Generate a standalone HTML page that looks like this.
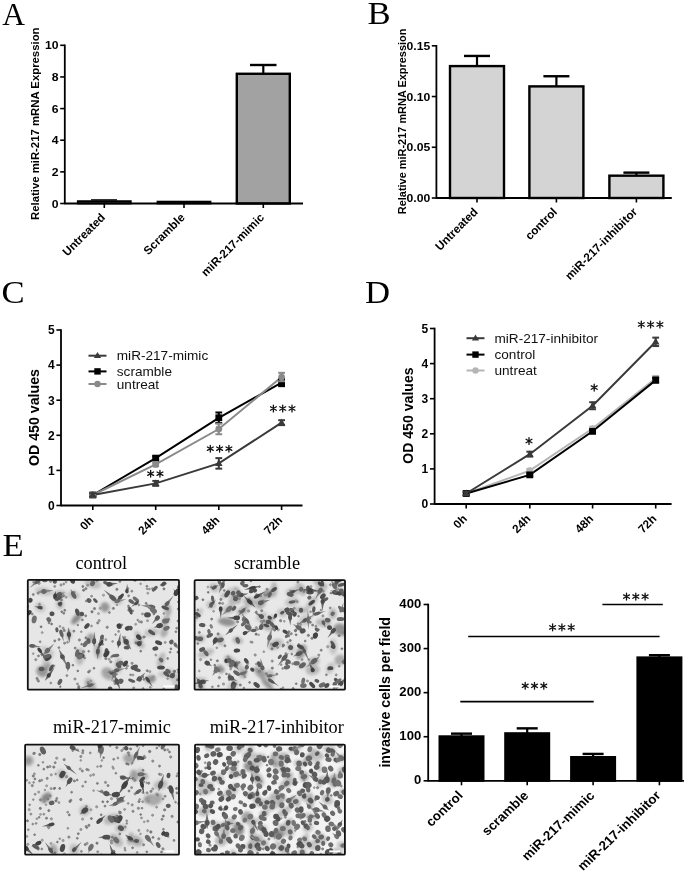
<!DOCTYPE html>
<html><head><meta charset="utf-8"><style>
html,body{margin:0;padding:0;background:#fff;}
svg{display:block;}
#wrap{width:694px;height:875px;overflow:hidden;will-change:transform;}
</style></head><body>
<div id="wrap"><svg width="694" height="875" viewBox="0 0 694 875">
<defs><filter id="soft" x="0" y="0" width="100%" height="100%" filterUnits="userSpaceOnUse"><feConvolveMatrix order="3" kernelMatrix="1 2 1 2 36 2 1 2 1" divisor="48" edgeMode="duplicate" preserveAlpha="true"/></filter><filter id="bl" x="-30%" y="-30%" width="160%" height="160%"><feGaussianBlur stdDeviation="0.65"/></filter><filter id="bl0" x="-30%" y="-30%" width="160%" height="160%"><feGaussianBlur stdDeviation="0.3"/></filter><filter id="bl2" x="-50%" y="-50%" width="200%" height="200%"><feGaussianBlur stdDeviation="1.8"/></filter><clipPath id="clip11"><rect x="27.5" y="579.5" width="151.8" height="110.5"/></clipPath><clipPath id="clip22"><rect x="194.3" y="579.8" width="151" height="110.2"/></clipPath><clipPath id="clip33"><rect x="24.8" y="744.3" width="154.5" height="110.7"/></clipPath><clipPath id="clip44"><rect x="194.7" y="744.3" width="150.5" height="110.7"/></clipPath></defs>
<g>
<rect width="694" height="875" fill="#fff"/>
<text x="0" y="0" font-family='"Liberation Serif", serif' font-size="31.5" font-weight="normal" text-anchor="start" fill="#000" transform="translate(2.30 24.70)">A</text>
<line x1="64.8" y1="44.5" x2="64.8" y2="204.3" stroke="#000" stroke-width="1.8"/>
<line x1="60.199999999999996" y1="203.5" x2="64.8" y2="203.5" stroke="#000" stroke-width="1.6"/>
<text x="0" y="0" font-family='"Liberation Sans", sans-serif' font-size="11.5" font-weight="bold" text-anchor="end" fill="#000" transform="translate(58.60 207.64) scale(1.06 1.0)">0</text>
<line x1="60.199999999999996" y1="171.86" x2="64.8" y2="171.86" stroke="#000" stroke-width="1.6"/>
<text x="0" y="0" font-family='"Liberation Sans", sans-serif' font-size="11.5" font-weight="bold" text-anchor="end" fill="#000" transform="translate(58.60 176.00) scale(1.06 1.0)">2</text>
<line x1="60.199999999999996" y1="140.22" x2="64.8" y2="140.22" stroke="#000" stroke-width="1.6"/>
<text x="0" y="0" font-family='"Liberation Sans", sans-serif' font-size="11.5" font-weight="bold" text-anchor="end" fill="#000" transform="translate(58.60 144.36) scale(1.06 1.0)">4</text>
<line x1="60.199999999999996" y1="108.58000000000001" x2="64.8" y2="108.58000000000001" stroke="#000" stroke-width="1.6"/>
<text x="0" y="0" font-family='"Liberation Sans", sans-serif' font-size="11.5" font-weight="bold" text-anchor="end" fill="#000" transform="translate(58.60 112.72) scale(1.06 1.0)">6</text>
<line x1="60.199999999999996" y1="76.94000000000001" x2="64.8" y2="76.94000000000001" stroke="#000" stroke-width="1.6"/>
<text x="0" y="0" font-family='"Liberation Sans", sans-serif' font-size="11.5" font-weight="bold" text-anchor="end" fill="#000" transform="translate(58.60 81.08) scale(1.06 1.0)">8</text>
<line x1="60.199999999999996" y1="45.30000000000001" x2="64.8" y2="45.30000000000001" stroke="#000" stroke-width="1.6"/>
<text x="0" y="0" font-family='"Liberation Sans", sans-serif' font-size="11.5" font-weight="bold" text-anchor="end" fill="#000" transform="translate(58.60 49.44) scale(1.06 1.0)">10</text>
<text x="0" y="0" font-family='"Liberation Sans", sans-serif' font-size="11.35" font-weight="bold" text-anchor="middle" fill="#000" transform="translate(38.80 123.75) rotate(-90)">Relative miR-217 mRNA Expression</text>
<rect x="77.8" y="201.14339999999999" width="53" height="2.356600000000003" fill="#505050" stroke="#000" stroke-width="1.8"/>
<rect x="157.5" y="201.618" width="53" height="1.8819999999999937" fill="#505050" stroke="#000" stroke-width="1.8"/>
<line x1="91" y1="199.9" x2="117" y2="199.9" stroke="#000" stroke-width="1.4"/>
<rect x="236.8" y="73.77600000000001" width="53" height="129.724" fill="#a2a2a2" stroke="#000" stroke-width="2.4"/>
<line x1="263.3" y1="65" x2="263.3" y2="73" stroke="#000" stroke-width="2.2"/>
<line x1="250" y1="65" x2="276.5" y2="65" stroke="#000" stroke-width="2.4"/>
<line x1="64.8" y1="203.5" x2="303" y2="203.5" stroke="#000" stroke-width="1.8"/>
<line x1="104.3" y1="203.5" x2="104.3" y2="208.0" stroke="#000" stroke-width="1.6"/>
<text x="0" y="0" font-family='"Liberation Sans", sans-serif' font-size="11.7" font-weight="bold" text-anchor="end" fill="#000" transform="translate(105.80 218.20) rotate(-45)">Untreated</text>
<line x1="184" y1="203.5" x2="184" y2="208.0" stroke="#000" stroke-width="1.6"/>
<text x="0" y="0" font-family='"Liberation Sans", sans-serif' font-size="11.7" font-weight="bold" text-anchor="end" fill="#000" transform="translate(185.50 218.20) rotate(-45)">Scramble</text>
<line x1="263.3" y1="203.5" x2="263.3" y2="208.0" stroke="#000" stroke-width="1.6"/>
<text x="0" y="0" font-family='"Liberation Sans", sans-serif' font-size="11.7" font-weight="bold" text-anchor="end" fill="#000" transform="translate(264.80 218.20) rotate(-45)">miR-217-mimic</text>
<text x="0" y="0" font-family='"Liberation Serif", serif' font-size="31.5" font-weight="normal" text-anchor="start" fill="#000" transform="translate(367.50 24.00) scale(1.1 1.0)">B</text>
<line x1="436.4" y1="45.0" x2="436.4" y2="198.8" stroke="#000" stroke-width="1.8"/>
<line x1="431.79999999999995" y1="198.0" x2="436.4" y2="198.0" stroke="#000" stroke-width="1.6"/>
<text x="0" y="0" font-family='"Liberation Sans", sans-serif' font-size="11.5" font-weight="bold" text-anchor="end" fill="#000" transform="translate(430.20 202.14) scale(1.06 1.0)">0.00</text>
<line x1="431.79999999999995" y1="147.26666666666665" x2="436.4" y2="147.26666666666665" stroke="#000" stroke-width="1.6"/>
<text x="0" y="0" font-family='"Liberation Sans", sans-serif' font-size="11.5" font-weight="bold" text-anchor="end" fill="#000" transform="translate(430.20 151.41) scale(1.06 1.0)">0.05</text>
<line x1="431.79999999999995" y1="96.53333333333333" x2="436.4" y2="96.53333333333333" stroke="#000" stroke-width="1.6"/>
<text x="0" y="0" font-family='"Liberation Sans", sans-serif' font-size="11.5" font-weight="bold" text-anchor="end" fill="#000" transform="translate(430.20 100.67) scale(1.06 1.0)">0.10</text>
<line x1="431.79999999999995" y1="45.80000000000001" x2="436.4" y2="45.80000000000001" stroke="#000" stroke-width="1.6"/>
<text x="0" y="0" font-family='"Liberation Sans", sans-serif' font-size="11.5" font-weight="bold" text-anchor="end" fill="#000" transform="translate(430.20 49.94) scale(1.06 1.0)">0.15</text>
<text x="0" y="0" font-family='"Liberation Sans", sans-serif' font-size="10.95" font-weight="bold" text-anchor="middle" fill="#000" transform="translate(406.40 121.40) rotate(-90)">Relative miR-217 mRNA Expression</text>
<rect x="450" y="66.09333333333333" width="54" height="131.90666666666667" fill="#d4d4d4" stroke="#000" stroke-width="2.4"/>
<line x1="477" y1="55.94666666666666" x2="477" y2="66.09333333333333" stroke="#000" stroke-width="2.2"/>
<line x1="464" y1="55.94666666666666" x2="490" y2="55.94666666666666" stroke="#000" stroke-width="2.4"/>
<rect x="529.4" y="86.38666666666667" width="54" height="111.61333333333333" fill="#d4d4d4" stroke="#000" stroke-width="2.4"/>
<line x1="556.4" y1="76.24000000000001" x2="556.4" y2="86.38666666666667" stroke="#000" stroke-width="2.2"/>
<line x1="543.4" y1="76.24000000000001" x2="569.4" y2="76.24000000000001" stroke="#000" stroke-width="2.4"/>
<rect x="609.4" y="175.67733333333334" width="54" height="22.322666666666663" fill="#d4d4d4" stroke="#000" stroke-width="2.4"/>
<line x1="636.4" y1="172.63333333333333" x2="636.4" y2="175.67733333333334" stroke="#000" stroke-width="2.2"/>
<line x1="623.4" y1="172.63333333333333" x2="649.4" y2="172.63333333333333" stroke="#000" stroke-width="2.4"/>
<line x1="436.4" y1="198" x2="671.8" y2="198" stroke="#000" stroke-width="1.8"/>
<line x1="477" y1="198" x2="477" y2="202.5" stroke="#000" stroke-width="1.6"/>
<text x="0" y="0" font-family='"Liberation Sans", sans-serif' font-size="11.7" font-weight="bold" text-anchor="end" fill="#000" transform="translate(478.50 212.60) rotate(-45)">Untreated</text>
<line x1="556.4" y1="198" x2="556.4" y2="202.5" stroke="#000" stroke-width="1.6"/>
<text x="0" y="0" font-family='"Liberation Sans", sans-serif' font-size="11.7" font-weight="bold" text-anchor="end" fill="#000" transform="translate(557.90 212.60) rotate(-45)">control</text>
<line x1="636.4" y1="198" x2="636.4" y2="202.5" stroke="#000" stroke-width="1.6"/>
<text x="0" y="0" font-family='"Liberation Sans", sans-serif' font-size="11.7" font-weight="bold" text-anchor="end" fill="#000" transform="translate(637.90 212.60) rotate(-45)">miR-217-inhibitor</text>
<text x="0" y="0" font-family='"Liberation Serif", serif' font-size="31.5" font-weight="normal" text-anchor="start" fill="#000" transform="translate(1.50 303.00) scale(1.1 1.0)">C</text>
<line x1="61" y1="329.2" x2="61" y2="506.3" stroke="#000" stroke-width="1.8"/>
<line x1="56.4" y1="505.5" x2="61" y2="505.5" stroke="#000" stroke-width="1.6"/>
<text x="0" y="0" font-family='"Liberation Sans", sans-serif' font-size="12" font-weight="bold" text-anchor="end" fill="#000" transform="translate(54.60 509.82)">0</text>
<line x1="56.4" y1="470.4" x2="61" y2="470.4" stroke="#000" stroke-width="1.6"/>
<text x="0" y="0" font-family='"Liberation Sans", sans-serif' font-size="12" font-weight="bold" text-anchor="end" fill="#000" transform="translate(54.60 474.72)">1</text>
<line x1="56.4" y1="435.3" x2="61" y2="435.3" stroke="#000" stroke-width="1.6"/>
<text x="0" y="0" font-family='"Liberation Sans", sans-serif' font-size="12" font-weight="bold" text-anchor="end" fill="#000" transform="translate(54.60 439.62)">2</text>
<line x1="56.4" y1="400.2" x2="61" y2="400.2" stroke="#000" stroke-width="1.6"/>
<text x="0" y="0" font-family='"Liberation Sans", sans-serif' font-size="12" font-weight="bold" text-anchor="end" fill="#000" transform="translate(54.60 404.52)">3</text>
<line x1="56.4" y1="365.1" x2="61" y2="365.1" stroke="#000" stroke-width="1.6"/>
<text x="0" y="0" font-family='"Liberation Sans", sans-serif' font-size="12" font-weight="bold" text-anchor="end" fill="#000" transform="translate(54.60 369.42)">4</text>
<line x1="56.4" y1="330.0" x2="61" y2="330.0" stroke="#000" stroke-width="1.6"/>
<text x="0" y="0" font-family='"Liberation Sans", sans-serif' font-size="12" font-weight="bold" text-anchor="end" fill="#000" transform="translate(54.60 334.32)">5</text>
<polyline points="92.8,495.0 155.7,458.1 218.8,417.8 281.6,382.6" fill="none" stroke="#000" stroke-width="2.0"/>
<polyline points="92.8,495.0 155.7,464.4 218.8,429.0 281.6,377.0" fill="none" stroke="#8a8a8a" stroke-width="2.0"/>
<polyline points="92.8,495.0 155.7,483.4 218.8,463.4 281.6,422.7" fill="none" stroke="#3a3a3a" stroke-width="2.0"/>
<line x1="92.8" y1="493.21500000000003" x2="92.8" y2="496.725" stroke="#000" stroke-width="2.0"/>
<line x1="89.39999999999999" y1="493.21500000000003" x2="96.2" y2="493.21500000000003" stroke="#000" stroke-width="2.0"/>
<line x1="89.39999999999999" y1="496.725" x2="96.2" y2="496.725" stroke="#000" stroke-width="2.0"/>
<rect x="89.39999999999999" y="491.57000000000005" width="6.8" height="6.8" fill="#000"/>
<line x1="155.7" y1="456.36" x2="155.7" y2="459.87" stroke="#000" stroke-width="2.0"/>
<line x1="152.29999999999998" y1="456.36" x2="159.1" y2="456.36" stroke="#000" stroke-width="2.0"/>
<line x1="152.29999999999998" y1="459.87" x2="159.1" y2="459.87" stroke="#000" stroke-width="2.0"/>
<rect x="152.29999999999998" y="454.71500000000003" width="6.8" height="6.8" fill="#000"/>
<line x1="218.8" y1="412.485" x2="218.8" y2="423.015" stroke="#000" stroke-width="2.0"/>
<line x1="215.4" y1="412.485" x2="222.20000000000002" y2="412.485" stroke="#000" stroke-width="2.0"/>
<line x1="215.4" y1="423.015" x2="222.20000000000002" y2="423.015" stroke="#000" stroke-width="2.0"/>
<rect x="215.4" y="414.35" width="6.8" height="6.8" fill="#000"/>
<line x1="281.6" y1="379.14" x2="281.6" y2="386.15999999999997" stroke="#000" stroke-width="2.0"/>
<line x1="278.20000000000005" y1="379.14" x2="285.0" y2="379.14" stroke="#000" stroke-width="2.0"/>
<line x1="278.20000000000005" y1="386.15999999999997" x2="285.0" y2="386.15999999999997" stroke="#000" stroke-width="2.0"/>
<rect x="278.20000000000005" y="379.25" width="6.8" height="6.8" fill="#000"/>
<line x1="92.8" y1="493.21500000000003" x2="92.8" y2="496.725" stroke="#8a8a8a" stroke-width="2.0"/>
<line x1="89.39999999999999" y1="493.21500000000003" x2="96.2" y2="493.21500000000003" stroke="#8a8a8a" stroke-width="2.0"/>
<line x1="89.39999999999999" y1="496.725" x2="96.2" y2="496.725" stroke="#8a8a8a" stroke-width="2.0"/>
<circle cx="92.8" cy="494.97" r="3.4" fill="#8a8a8a"/>
<line x1="155.7" y1="462.678" x2="155.7" y2="466.188" stroke="#8a8a8a" stroke-width="2.0"/>
<line x1="152.29999999999998" y1="462.678" x2="159.1" y2="462.678" stroke="#8a8a8a" stroke-width="2.0"/>
<line x1="152.29999999999998" y1="466.188" x2="159.1" y2="466.188" stroke="#8a8a8a" stroke-width="2.0"/>
<circle cx="155.7" cy="464.433" r="3.4" fill="#8a8a8a"/>
<line x1="218.8" y1="423.717" x2="218.8" y2="434.24699999999996" stroke="#8a8a8a" stroke-width="2.0"/>
<line x1="215.4" y1="423.717" x2="222.20000000000002" y2="423.717" stroke="#8a8a8a" stroke-width="2.0"/>
<line x1="215.4" y1="434.24699999999996" x2="222.20000000000002" y2="434.24699999999996" stroke="#8a8a8a" stroke-width="2.0"/>
<circle cx="218.8" cy="428.98199999999997" r="3.4" fill="#8a8a8a"/>
<line x1="281.6" y1="372.822" x2="281.6" y2="381.246" stroke="#8a8a8a" stroke-width="2.0"/>
<line x1="278.20000000000005" y1="372.822" x2="285.0" y2="372.822" stroke="#8a8a8a" stroke-width="2.0"/>
<line x1="278.20000000000005" y1="381.246" x2="285.0" y2="381.246" stroke="#8a8a8a" stroke-width="2.0"/>
<circle cx="281.6" cy="377.034" r="3.4" fill="#8a8a8a"/>
<line x1="92.8" y1="493.21500000000003" x2="92.8" y2="496.725" stroke="#3a3a3a" stroke-width="2.0"/>
<line x1="89.39999999999999" y1="493.21500000000003" x2="96.2" y2="493.21500000000003" stroke="#3a3a3a" stroke-width="2.0"/>
<line x1="89.39999999999999" y1="496.725" x2="96.2" y2="496.725" stroke="#3a3a3a" stroke-width="2.0"/>
<polygon points="92.8,490.97 88.99999999999999,497.52000000000004 96.60000000000001,497.52000000000004" fill="#3a3a3a"/>
<line x1="155.7" y1="480.93" x2="155.7" y2="485.844" stroke="#3a3a3a" stroke-width="2.0"/>
<line x1="152.29999999999998" y1="480.93" x2="159.1" y2="480.93" stroke="#3a3a3a" stroke-width="2.0"/>
<line x1="152.29999999999998" y1="485.844" x2="159.1" y2="485.844" stroke="#3a3a3a" stroke-width="2.0"/>
<polygon points="155.7,479.387 151.89999999999998,485.937 159.5,485.937" fill="#3a3a3a"/>
<line x1="218.8" y1="458.115" x2="218.8" y2="468.645" stroke="#3a3a3a" stroke-width="2.0"/>
<line x1="215.4" y1="458.115" x2="222.20000000000002" y2="458.115" stroke="#3a3a3a" stroke-width="2.0"/>
<line x1="215.4" y1="468.645" x2="222.20000000000002" y2="468.645" stroke="#3a3a3a" stroke-width="2.0"/>
<polygon points="218.8,459.38 215.0,465.93 222.60000000000002,465.93" fill="#3a3a3a"/>
<line x1="281.6" y1="420.207" x2="281.6" y2="425.121" stroke="#3a3a3a" stroke-width="2.0"/>
<line x1="278.20000000000005" y1="420.207" x2="285.0" y2="420.207" stroke="#3a3a3a" stroke-width="2.0"/>
<line x1="278.20000000000005" y1="425.121" x2="285.0" y2="425.121" stroke="#3a3a3a" stroke-width="2.0"/>
<polygon points="281.6,418.664 277.80000000000007,425.214 285.4,425.214" fill="#3a3a3a"/>
<line x1="61" y1="505.5" x2="302.5" y2="505.5" stroke="#000" stroke-width="1.8"/>
<line x1="92.8" y1="505.5" x2="92.8" y2="510.0" stroke="#000" stroke-width="1.6"/>
<text x="0" y="0" font-family='"Liberation Sans", sans-serif' font-size="11.7" font-weight="bold" text-anchor="end" fill="#000" transform="translate(94.30 521.00) rotate(-45)">0h</text>
<line x1="155.7" y1="505.5" x2="155.7" y2="510.0" stroke="#000" stroke-width="1.6"/>
<text x="0" y="0" font-family='"Liberation Sans", sans-serif' font-size="11.7" font-weight="bold" text-anchor="end" fill="#000" transform="translate(157.20 521.00) rotate(-45)">24h</text>
<line x1="218.8" y1="505.5" x2="218.8" y2="510.0" stroke="#000" stroke-width="1.6"/>
<text x="0" y="0" font-family='"Liberation Sans", sans-serif' font-size="11.7" font-weight="bold" text-anchor="end" fill="#000" transform="translate(220.30 521.00) rotate(-45)">48h</text>
<line x1="281.6" y1="505.5" x2="281.6" y2="510.0" stroke="#000" stroke-width="1.6"/>
<text x="0" y="0" font-family='"Liberation Sans", sans-serif' font-size="11.7" font-weight="bold" text-anchor="end" fill="#000" transform="translate(283.10 521.00) rotate(-45)">72h</text>
<line x1="88.5" y1="355.7" x2="106.5" y2="355.7" stroke="#3a3a3a" stroke-width="2"/>
<polygon points="97.5,351.9 93.89999999999999,358.09999999999997 101.10000000000001,358.09999999999997" fill="#3a3a3a"/>
<text x="0" y="0" font-family='"Liberation Sans", sans-serif' font-size="13.6" font-weight="normal" text-anchor="start" fill="#111" transform="translate(116.80 360.40)">miR-217-mimic</text>
<line x1="88.5" y1="371.4" x2="106.5" y2="371.4" stroke="#000" stroke-width="2"/>
<rect x="94.3" y="368.2" width="6.4" height="6.4" fill="#000"/>
<text x="0" y="0" font-family='"Liberation Sans", sans-serif' font-size="13.6" font-weight="normal" text-anchor="start" fill="#111" transform="translate(116.80 376.10)">scramble</text>
<line x1="88.5" y1="384.0" x2="106.5" y2="384.0" stroke="#8a8a8a" stroke-width="2"/>
<circle cx="97.5" cy="384.0" r="3.2" fill="#8a8a8a"/>
<text x="0" y="0" font-family='"Liberation Sans", sans-serif' font-size="13.6" font-weight="normal" text-anchor="start" fill="#111" transform="translate(116.80 388.70)">untreat</text>
<text x="0" y="0" font-family='"Liberation Sans", sans-serif' font-size="14.2" font-weight="bold" text-anchor="middle" fill="#000" transform="translate(39.40 417.50) rotate(-90)">OD 450 values</text>
<text x="0" y="0" font-family='"Liberation Serif", serif' font-size="31.5" font-weight="normal" text-anchor="start" fill="#000" transform="translate(365.00 303.00) scale(1.1 1.0)">D</text>
<line x1="434.6" y1="327.7" x2="434.6" y2="504.8" stroke="#000" stroke-width="1.8"/>
<line x1="430.0" y1="504.0" x2="434.6" y2="504.0" stroke="#000" stroke-width="1.6"/>
<text x="0" y="0" font-family='"Liberation Sans", sans-serif' font-size="12" font-weight="bold" text-anchor="end" fill="#000" transform="translate(428.20 508.32)">0</text>
<line x1="430.0" y1="468.9" x2="434.6" y2="468.9" stroke="#000" stroke-width="1.6"/>
<text x="0" y="0" font-family='"Liberation Sans", sans-serif' font-size="12" font-weight="bold" text-anchor="end" fill="#000" transform="translate(428.20 473.22)">1</text>
<line x1="430.0" y1="433.8" x2="434.6" y2="433.8" stroke="#000" stroke-width="1.6"/>
<text x="0" y="0" font-family='"Liberation Sans", sans-serif' font-size="12" font-weight="bold" text-anchor="end" fill="#000" transform="translate(428.20 438.12)">2</text>
<line x1="430.0" y1="398.7" x2="434.6" y2="398.7" stroke="#000" stroke-width="1.6"/>
<text x="0" y="0" font-family='"Liberation Sans", sans-serif' font-size="12" font-weight="bold" text-anchor="end" fill="#000" transform="translate(428.20 403.02)">3</text>
<line x1="430.0" y1="363.6" x2="434.6" y2="363.6" stroke="#000" stroke-width="1.6"/>
<text x="0" y="0" font-family='"Liberation Sans", sans-serif' font-size="12" font-weight="bold" text-anchor="end" fill="#000" transform="translate(428.20 367.92)">4</text>
<line x1="430.0" y1="328.5" x2="434.6" y2="328.5" stroke="#000" stroke-width="1.6"/>
<text x="0" y="0" font-family='"Liberation Sans", sans-serif' font-size="12" font-weight="bold" text-anchor="end" fill="#000" transform="translate(428.20 332.82)">5</text>
<polyline points="466.2,493.5 529.8,470.7 592.6,428.5 655.7,378.3" fill="none" stroke="#b5b5b5" stroke-width="2.0"/>
<polyline points="466.2,493.5 529.8,474.9 592.6,431.3 655.7,380.1" fill="none" stroke="#000" stroke-width="2.0"/>
<polyline points="466.2,493.5 529.8,454.2 592.6,405.7 655.7,341.8" fill="none" stroke="#3a3a3a" stroke-width="2.0"/>
<line x1="466.2" y1="491.71500000000003" x2="466.2" y2="495.225" stroke="#b5b5b5" stroke-width="2.0"/>
<line x1="462.8" y1="491.71500000000003" x2="469.59999999999997" y2="491.71500000000003" stroke="#b5b5b5" stroke-width="2.0"/>
<line x1="462.8" y1="495.225" x2="469.59999999999997" y2="495.225" stroke="#b5b5b5" stroke-width="2.0"/>
<circle cx="466.2" cy="493.47" r="3.4" fill="#b5b5b5"/>
<line x1="529.8" y1="468.9" x2="529.8" y2="472.40999999999997" stroke="#b5b5b5" stroke-width="2.0"/>
<line x1="526.4" y1="468.9" x2="533.1999999999999" y2="468.9" stroke="#b5b5b5" stroke-width="2.0"/>
<line x1="526.4" y1="472.40999999999997" x2="533.1999999999999" y2="472.40999999999997" stroke="#b5b5b5" stroke-width="2.0"/>
<circle cx="529.8" cy="470.655" r="3.4" fill="#b5b5b5"/>
<line x1="592.6" y1="426.78" x2="592.6" y2="430.28999999999996" stroke="#b5b5b5" stroke-width="2.0"/>
<line x1="589.2" y1="426.78" x2="596.0" y2="426.78" stroke="#b5b5b5" stroke-width="2.0"/>
<line x1="589.2" y1="430.28999999999996" x2="596.0" y2="430.28999999999996" stroke="#b5b5b5" stroke-width="2.0"/>
<circle cx="592.6" cy="428.53499999999997" r="3.4" fill="#b5b5b5"/>
<line x1="655.7" y1="375.885" x2="655.7" y2="380.799" stroke="#b5b5b5" stroke-width="2.0"/>
<line x1="652.3000000000001" y1="375.885" x2="659.1" y2="375.885" stroke="#b5b5b5" stroke-width="2.0"/>
<line x1="652.3000000000001" y1="380.799" x2="659.1" y2="380.799" stroke="#b5b5b5" stroke-width="2.0"/>
<circle cx="655.7" cy="378.342" r="3.4" fill="#b5b5b5"/>
<line x1="466.2" y1="491.71500000000003" x2="466.2" y2="495.225" stroke="#000" stroke-width="2.0"/>
<line x1="462.8" y1="491.71500000000003" x2="469.59999999999997" y2="491.71500000000003" stroke="#000" stroke-width="2.0"/>
<line x1="462.8" y1="495.225" x2="469.59999999999997" y2="495.225" stroke="#000" stroke-width="2.0"/>
<rect x="462.8" y="490.07000000000005" width="6.8" height="6.8" fill="#000"/>
<line x1="529.8" y1="473.463" x2="529.8" y2="476.271" stroke="#000" stroke-width="2.0"/>
<line x1="526.4" y1="473.463" x2="533.1999999999999" y2="473.463" stroke="#000" stroke-width="2.0"/>
<line x1="526.4" y1="476.271" x2="533.1999999999999" y2="476.271" stroke="#000" stroke-width="2.0"/>
<rect x="526.4" y="471.46700000000004" width="6.8" height="6.8" fill="#000"/>
<line x1="592.6" y1="429.588" x2="592.6" y2="433.098" stroke="#000" stroke-width="2.0"/>
<line x1="589.2" y1="429.588" x2="596.0" y2="429.588" stroke="#000" stroke-width="2.0"/>
<line x1="589.2" y1="433.098" x2="596.0" y2="433.098" stroke="#000" stroke-width="2.0"/>
<rect x="589.2" y="427.94300000000004" width="6.8" height="6.8" fill="#000"/>
<line x1="655.7" y1="377.64" x2="655.7" y2="382.554" stroke="#000" stroke-width="2.0"/>
<line x1="652.3000000000001" y1="377.64" x2="659.1" y2="377.64" stroke="#000" stroke-width="2.0"/>
<line x1="652.3000000000001" y1="382.554" x2="659.1" y2="382.554" stroke="#000" stroke-width="2.0"/>
<rect x="652.3000000000001" y="376.697" width="6.8" height="6.8" fill="#000"/>
<line x1="466.2" y1="491.71500000000003" x2="466.2" y2="495.225" stroke="#3a3a3a" stroke-width="2.0"/>
<line x1="462.8" y1="491.71500000000003" x2="469.59999999999997" y2="491.71500000000003" stroke="#3a3a3a" stroke-width="2.0"/>
<line x1="462.8" y1="495.225" x2="469.59999999999997" y2="495.225" stroke="#3a3a3a" stroke-width="2.0"/>
<polygon points="466.2,489.47 462.40000000000003,496.02000000000004 469.99999999999994,496.02000000000004" fill="#3a3a3a"/>
<line x1="529.8" y1="451.701" x2="529.8" y2="456.615" stroke="#3a3a3a" stroke-width="2.0"/>
<line x1="526.4" y1="451.701" x2="533.1999999999999" y2="451.701" stroke="#3a3a3a" stroke-width="2.0"/>
<line x1="526.4" y1="456.615" x2="533.1999999999999" y2="456.615" stroke="#3a3a3a" stroke-width="2.0"/>
<polygon points="529.8,450.158 526.0,456.708 533.5999999999999,456.708" fill="#3a3a3a"/>
<line x1="592.6" y1="402.21000000000004" x2="592.6" y2="409.23" stroke="#3a3a3a" stroke-width="2.0"/>
<line x1="589.2" y1="402.21000000000004" x2="596.0" y2="402.21000000000004" stroke="#3a3a3a" stroke-width="2.0"/>
<line x1="589.2" y1="409.23" x2="596.0" y2="409.23" stroke="#3a3a3a" stroke-width="2.0"/>
<polygon points="592.6,401.72 588.8000000000001,408.27000000000004 596.4,408.27000000000004" fill="#3a3a3a"/>
<line x1="655.7" y1="337.626" x2="655.7" y2="346.04999999999995" stroke="#3a3a3a" stroke-width="2.0"/>
<line x1="652.3000000000001" y1="337.626" x2="659.1" y2="337.626" stroke="#3a3a3a" stroke-width="2.0"/>
<line x1="652.3000000000001" y1="346.04999999999995" x2="659.1" y2="346.04999999999995" stroke="#3a3a3a" stroke-width="2.0"/>
<polygon points="655.7,337.83799999999997 651.9000000000001,344.388 659.5,344.388" fill="#3a3a3a"/>
<line x1="434.6" y1="504" x2="671.6" y2="504" stroke="#000" stroke-width="1.8"/>
<line x1="466.2" y1="504" x2="466.2" y2="508.5" stroke="#000" stroke-width="1.6"/>
<text x="0" y="0" font-family='"Liberation Sans", sans-serif' font-size="11.7" font-weight="bold" text-anchor="end" fill="#000" transform="translate(467.70 519.50) rotate(-45)">0h</text>
<line x1="529.8" y1="504" x2="529.8" y2="508.5" stroke="#000" stroke-width="1.6"/>
<text x="0" y="0" font-family='"Liberation Sans", sans-serif' font-size="11.7" font-weight="bold" text-anchor="end" fill="#000" transform="translate(531.30 519.50) rotate(-45)">24h</text>
<line x1="592.6" y1="504" x2="592.6" y2="508.5" stroke="#000" stroke-width="1.6"/>
<text x="0" y="0" font-family='"Liberation Sans", sans-serif' font-size="11.7" font-weight="bold" text-anchor="end" fill="#000" transform="translate(594.10 519.50) rotate(-45)">48h</text>
<line x1="655.7" y1="504" x2="655.7" y2="508.5" stroke="#000" stroke-width="1.6"/>
<text x="0" y="0" font-family='"Liberation Sans", sans-serif' font-size="11.7" font-weight="bold" text-anchor="end" fill="#000" transform="translate(657.20 519.50) rotate(-45)">72h</text>
<line x1="466.5" y1="338.2" x2="484.5" y2="338.2" stroke="#3a3a3a" stroke-width="2"/>
<polygon points="475.5,334.4 471.90000000000003,340.59999999999997 479.09999999999997,340.59999999999997" fill="#3a3a3a"/>
<text x="0" y="0" font-family='"Liberation Sans", sans-serif' font-size="13.6" font-weight="normal" text-anchor="start" fill="#111" transform="translate(494.50 342.90)">miR-217-inhibitor</text>
<line x1="466.5" y1="354.6" x2="484.5" y2="354.6" stroke="#000" stroke-width="2"/>
<rect x="472.3" y="351.40000000000003" width="6.4" height="6.4" fill="#000"/>
<text x="0" y="0" font-family='"Liberation Sans", sans-serif' font-size="13.6" font-weight="normal" text-anchor="start" fill="#111" transform="translate(494.50 359.30)">control</text>
<line x1="466.5" y1="370.5" x2="484.5" y2="370.5" stroke="#b5b5b5" stroke-width="2"/>
<circle cx="475.5" cy="370.5" r="3.2" fill="#b5b5b5"/>
<text x="0" y="0" font-family='"Liberation Sans", sans-serif' font-size="13.6" font-weight="normal" text-anchor="start" fill="#111" transform="translate(494.50 375.20)">untreat</text>
<text x="0" y="0" font-family='"Liberation Sans", sans-serif' font-size="14.1" font-weight="bold" text-anchor="middle" fill="#000" transform="translate(413.00 415.60) rotate(-90)">OD 450 values</text>
<path d="M150.65 470.30L150.65 477.10M147.71 472.00L153.59 475.40M153.59 472.00L147.71 475.40" stroke="#111" stroke-width="1.3" stroke-linecap="round" fill="none"/>
<path d="M159.95 470.30L159.95 477.10M157.01 472.00L162.89 475.40M162.89 472.00L157.01 475.40" stroke="#111" stroke-width="1.3" stroke-linecap="round" fill="none"/>
<path d="M210.30 445.30L210.30 452.10M207.36 447.00L213.24 450.40M213.24 447.00L207.36 450.40" stroke="#111" stroke-width="1.3" stroke-linecap="round" fill="none"/>
<path d="M219.60 445.30L219.60 452.10M216.66 447.00L222.54 450.40M222.54 447.00L216.66 450.40" stroke="#111" stroke-width="1.3" stroke-linecap="round" fill="none"/>
<path d="M228.90 445.30L228.90 452.10M225.96 447.00L231.84 450.40M231.84 447.00L225.96 450.40" stroke="#111" stroke-width="1.3" stroke-linecap="round" fill="none"/>
<path d="M273.40 405.10L273.40 411.90M270.46 406.80L276.34 410.20M276.34 406.80L270.46 410.20" stroke="#111" stroke-width="1.3" stroke-linecap="round" fill="none"/>
<path d="M282.70 405.10L282.70 411.90M279.76 406.80L285.64 410.20M285.64 406.80L279.76 410.20" stroke="#111" stroke-width="1.3" stroke-linecap="round" fill="none"/>
<path d="M292.00 405.10L292.00 411.90M289.06 406.80L294.94 410.20M294.94 406.80L289.06 410.20" stroke="#111" stroke-width="1.3" stroke-linecap="round" fill="none"/>
<path d="M529.00 437.60L529.00 444.40M526.06 439.30L531.94 442.70M531.94 439.30L526.06 442.70" stroke="#111" stroke-width="1.3" stroke-linecap="round" fill="none"/>
<path d="M594.20 384.20L594.20 391.00M591.26 385.90L597.14 389.30M597.14 385.90L591.26 389.30" stroke="#111" stroke-width="1.3" stroke-linecap="round" fill="none"/>
<path d="M641.30 321.10L641.30 327.90M638.36 322.80L644.24 326.20M644.24 322.80L638.36 326.20" stroke="#111" stroke-width="1.3" stroke-linecap="round" fill="none"/>
<path d="M650.60 321.10L650.60 327.90M647.66 322.80L653.54 326.20M653.54 322.80L647.66 326.20" stroke="#111" stroke-width="1.3" stroke-linecap="round" fill="none"/>
<path d="M659.90 321.10L659.90 327.90M656.96 322.80L662.84 326.20M662.84 322.80L656.96 326.20" stroke="#111" stroke-width="1.3" stroke-linecap="round" fill="none"/>
<text x="0" y="0" font-family='"Liberation Serif", serif' font-size="31.5" font-weight="normal" text-anchor="start" fill="#000" transform="translate(2.50 556.00) scale(1.1 1.0)">E</text>
<text x="0" y="0" font-family='"Liberation Serif", serif' font-size="18.3" font-weight="normal" text-anchor="middle" fill="#000" transform="translate(101.30 568.50)">control</text>
<text x="0" y="0" font-family='"Liberation Serif", serif' font-size="18.3" font-weight="normal" text-anchor="middle" fill="#000" transform="translate(267.00 568.50)">scramble</text>
<text x="0" y="0" font-family='"Liberation Serif", serif' font-size="18.3" font-weight="normal" text-anchor="middle" fill="#000" transform="translate(112.00 733.00)">miR-217-mimic</text>
<text x="0" y="0" font-family='"Liberation Serif", serif' font-size="18.3" font-weight="normal" text-anchor="middle" fill="#000" transform="translate(276.80 732.60)">miR-217-inhibitor</text>
<rect x="27.5" y="579.5" width="151.8" height="110.5" fill="#e6e6e6"/>
<g clip-path="url(#clip11)">
<g filter="url(#bl2)"><ellipse cx="167.7" cy="609.2" rx="6.4" ry="3.4" transform="rotate(78 167.7 609.2)" fill="rgb(167,167,167)"/><ellipse cx="164.2" cy="632.2" rx="5.6" ry="3.6" transform="rotate(111 164.2 632.2)" fill="rgb(172,172,172)"/><ellipse cx="47.2" cy="665.6" rx="4.1" ry="3.6" transform="rotate(41 47.2 665.6)" fill="rgb(162,162,162)"/><ellipse cx="76.4" cy="618.8" rx="7.1" ry="3.3" transform="rotate(132 76.4 618.8)" fill="rgb(139,139,139)"/><ellipse cx="105.0" cy="607.2" rx="5.0" ry="4.6" transform="rotate(79 105.0 607.2)" fill="rgb(150,150,150)"/><ellipse cx="90.3" cy="638.0" rx="4.8" ry="3.6" transform="rotate(114 90.3 638.0)" fill="rgb(160,160,160)"/><ellipse cx="107.9" cy="673.6" rx="7.1" ry="5.6" transform="rotate(42 107.9 673.6)" fill="rgb(164,164,164)"/><ellipse cx="150.5" cy="679.2" rx="5.6" ry="3.9" transform="rotate(166 150.5 679.2)" fill="rgb(143,143,143)"/><ellipse cx="179.1" cy="677.6" rx="4.7" ry="3.7" transform="rotate(131 179.1 677.6)" fill="rgb(145,145,145)"/><ellipse cx="42.2" cy="671.5" rx="6.1" ry="5.4" transform="rotate(23 42.2 671.5)" fill="rgb(151,151,151)"/><ellipse cx="179.1" cy="686.9" rx="7.7" ry="4.8" transform="rotate(36 179.1 686.9)" fill="rgb(199,199,199)"/><ellipse cx="118.5" cy="665.5" rx="8.0" ry="4.0" transform="rotate(91 118.5 665.5)" fill="rgb(192,192,192)"/><ellipse cx="117.2" cy="601.1" rx="5.4" ry="3.1" transform="rotate(13 117.2 601.1)" fill="rgb(188,188,188)"/><ellipse cx="40.1" cy="607.6" rx="5.8" ry="4.7" transform="rotate(33 40.1 607.6)" fill="rgb(199,199,199)"/><ellipse cx="43.9" cy="591.4" rx="8.8" ry="3.9" transform="rotate(11 43.9 591.4)" fill="rgb(194,194,194)"/><ellipse cx="47.9" cy="657.6" rx="8.4" ry="3.4" transform="rotate(126 47.9 657.6)" fill="rgb(186,186,186)"/><ellipse cx="47.4" cy="650.6" rx="7.1" ry="3.0" transform="rotate(30 47.4 650.6)" fill="rgb(197,197,197)"/><ellipse cx="138.8" cy="637.2" rx="6.9" ry="3.0" transform="rotate(62 138.8 637.2)" fill="rgb(183,183,183)"/><ellipse cx="151.7" cy="632.4" rx="7.7" ry="3.7" transform="rotate(170 151.7 632.4)" fill="rgb(191,191,191)"/><ellipse cx="161.1" cy="660.0" rx="8.0" ry="3.5" transform="rotate(111 161.1 660.0)" fill="rgb(185,185,185)"/><ellipse cx="139.1" cy="643.7" rx="6.5" ry="3.2" transform="rotate(35 139.1 643.7)" fill="rgb(181,181,181)"/><ellipse cx="46.8" cy="656.3" rx="8.0" ry="3.1" transform="rotate(108 46.8 656.3)" fill="rgb(198,198,198)"/><ellipse cx="60.0" cy="603.8" rx="5.7" ry="4.0" transform="rotate(85 60.0 603.8)" fill="rgb(190,190,190)"/><ellipse cx="59.4" cy="594.4" rx="6.7" ry="4.1" transform="rotate(170 59.4 594.4)" fill="rgb(189,189,189)"/><ellipse cx="126.1" cy="641.8" rx="5.2" ry="3.3" transform="rotate(44 126.1 641.8)" fill="rgb(193,193,193)"/><ellipse cx="166.4" cy="674.1" rx="8.8" ry="3.1" transform="rotate(178 166.4 674.1)" fill="rgb(197,197,197)"/><ellipse cx="80.0" cy="656.6" rx="8.7" ry="4.4" transform="rotate(94 80.0 656.6)" fill="rgb(186,186,186)"/><ellipse cx="165.6" cy="621.1" rx="6.8" ry="3.4" transform="rotate(112 165.6 621.1)" fill="rgb(176,176,176)"/><ellipse cx="97.9" cy="651.5" rx="7.7" ry="3.9" transform="rotate(80 97.9 651.5)" fill="rgb(181,181,181)"/><ellipse cx="92.6" cy="583.4" rx="8.6" ry="4.6" transform="rotate(20 92.6 583.4)" fill="rgb(190,190,190)"/><ellipse cx="172.4" cy="675.6" rx="8.9" ry="4.8" transform="rotate(45 172.4 675.6)" fill="rgb(196,196,196)"/><ellipse cx="73.7" cy="595.1" rx="6.1" ry="3.9" transform="rotate(11 73.7 595.1)" fill="rgb(190,190,190)"/><ellipse cx="68.9" cy="634.5" rx="5.3" ry="3.2" transform="rotate(97 68.9 634.5)" fill="rgb(191,191,191)"/><ellipse cx="90.3" cy="685.2" rx="8.0" ry="4.7" transform="rotate(62 90.3 685.2)" fill="rgb(176,176,176)"/></g>
<g filter="url(#bl0)"><circle cx="45.7" cy="668.9" r="1.04" fill="rgb(160,160,160)" stroke="rgb(130,130,130)" stroke-width="0.7"/><circle cx="59.9" cy="626.4" r="0.93" fill="rgb(162,162,162)" stroke="rgb(132,132,132)" stroke-width="0.7"/><circle cx="83.5" cy="651.7" r="1.15" fill="rgb(143,143,143)" stroke="rgb(113,113,113)" stroke-width="0.7"/><circle cx="110.8" cy="661.9" r="1.13" fill="rgb(147,147,147)" stroke="rgb(117,117,117)" stroke-width="0.7"/><circle cx="83.6" cy="590.2" r="1.11" fill="rgb(133,133,133)" stroke="rgb(103,103,103)" stroke-width="0.7"/><circle cx="40.1" cy="641.8" r="1.00" fill="rgb(157,157,157)" stroke="rgb(127,127,127)" stroke-width="0.7"/><circle cx="72.9" cy="665.2" r="0.87" fill="rgb(138,138,138)" stroke="rgb(108,108,108)" stroke-width="0.7"/><circle cx="128.0" cy="588.5" r="0.94" fill="rgb(158,158,158)" stroke="rgb(128,128,128)" stroke-width="0.7"/><circle cx="132.8" cy="610.8" r="0.89" fill="rgb(144,144,144)" stroke="rgb(114,114,114)" stroke-width="0.7"/><circle cx="137.7" cy="620.0" r="0.89" fill="rgb(158,158,158)" stroke="rgb(128,128,128)" stroke-width="0.7"/><circle cx="113.9" cy="681.0" r="1.13" fill="rgb(166,166,166)" stroke="rgb(136,136,136)" stroke-width="0.7"/><circle cx="94.0" cy="668.2" r="0.94" fill="rgb(142,142,142)" stroke="rgb(112,112,112)" stroke-width="0.7"/><circle cx="88.2" cy="682.8" r="1.12" fill="rgb(139,139,139)" stroke="rgb(109,109,109)" stroke-width="0.7"/><circle cx="82.4" cy="619.9" r="0.96" fill="rgb(145,145,145)" stroke="rgb(115,115,115)" stroke-width="0.7"/><circle cx="86.3" cy="601.0" r="1.02" fill="rgb(161,161,161)" stroke="rgb(131,131,131)" stroke-width="0.7"/><circle cx="109.6" cy="671.9" r="1.02" fill="rgb(137,137,137)" stroke="rgb(107,107,107)" stroke-width="0.7"/><circle cx="142.7" cy="676.8" r="0.93" fill="rgb(130,130,130)" stroke="rgb(100,100,100)" stroke-width="0.7"/><circle cx="105.8" cy="639.6" r="1.02" fill="rgb(168,168,168)" stroke="rgb(138,138,138)" stroke-width="0.7"/><circle cx="126.4" cy="668.4" r="0.87" fill="rgb(151,151,151)" stroke="rgb(121,121,121)" stroke-width="0.7"/><circle cx="147.1" cy="588.8" r="0.87" fill="rgb(159,159,159)" stroke="rgb(129,129,129)" stroke-width="0.7"/><circle cx="164.0" cy="588.9" r="1.04" fill="rgb(135,135,135)" stroke="rgb(105,105,105)" stroke-width="0.7"/><circle cx="140.7" cy="651.2" r="0.92" fill="rgb(138,138,138)" stroke="rgb(108,108,108)" stroke-width="0.7"/><circle cx="143.7" cy="637.1" r="1.08" fill="rgb(145,145,145)" stroke="rgb(115,115,115)" stroke-width="0.7"/><circle cx="78.8" cy="686.5" r="1.05" fill="rgb(149,149,149)" stroke="rgb(119,119,119)" stroke-width="0.7"/><circle cx="109.1" cy="659.2" r="1.06" fill="rgb(166,166,166)" stroke="rgb(136,136,136)" stroke-width="0.7"/><circle cx="89.8" cy="670.8" r="1.05" fill="rgb(164,164,164)" stroke="rgb(134,134,134)" stroke-width="0.7"/><circle cx="149.8" cy="671.6" r="1.12" fill="rgb(168,168,168)" stroke="rgb(138,138,138)" stroke-width="0.7"/><circle cx="124.7" cy="637.4" r="1.06" fill="rgb(162,162,162)" stroke="rgb(132,132,132)" stroke-width="0.7"/><circle cx="91.5" cy="626.0" r="0.89" fill="rgb(159,159,159)" stroke="rgb(129,129,129)" stroke-width="0.7"/><circle cx="177.9" cy="621.0" r="0.90" fill="rgb(138,138,138)" stroke="rgb(108,108,108)" stroke-width="0.7"/><circle cx="92.0" cy="611.8" r="1.14" fill="rgb(132,132,132)" stroke="rgb(102,102,102)" stroke-width="0.7"/><circle cx="74.3" cy="592.2" r="1.04" fill="rgb(161,161,161)" stroke="rgb(131,131,131)" stroke-width="0.7"/><circle cx="54.7" cy="586.4" r="0.99" fill="rgb(153,153,153)" stroke="rgb(123,123,123)" stroke-width="0.7"/><circle cx="165.5" cy="583.5" r="0.88" fill="rgb(137,137,137)" stroke="rgb(107,107,107)" stroke-width="0.7"/><circle cx="60.5" cy="605.5" r="1.07" fill="rgb(153,153,153)" stroke="rgb(123,123,123)" stroke-width="0.7"/><circle cx="61.5" cy="599.9" r="0.93" fill="rgb(136,136,136)" stroke="rgb(106,106,106)" stroke-width="0.7"/><circle cx="142.5" cy="613.9" r="1.01" fill="rgb(162,162,162)" stroke="rgb(132,132,132)" stroke-width="0.7"/><circle cx="100.3" cy="608.3" r="1.12" fill="rgb(166,166,166)" stroke="rgb(136,136,136)" stroke-width="0.7"/><circle cx="79.4" cy="640.0" r="1.14" fill="rgb(149,149,149)" stroke="rgb(119,119,119)" stroke-width="0.7"/><circle cx="61.0" cy="585.0" r="1.13" fill="rgb(162,162,162)" stroke="rgb(132,132,132)" stroke-width="0.7"/><circle cx="85.9" cy="637.8" r="1.00" fill="rgb(140,140,140)" stroke="rgb(110,110,110)" stroke-width="0.7"/><circle cx="177.8" cy="652.2" r="0.92" fill="rgb(130,130,130)" stroke="rgb(100,100,100)" stroke-width="0.7"/><circle cx="99.2" cy="620.6" r="1.09" fill="rgb(158,158,158)" stroke="rgb(128,128,128)" stroke-width="0.7"/><circle cx="119.5" cy="596.9" r="0.90" fill="rgb(142,142,142)" stroke="rgb(112,112,112)" stroke-width="0.7"/><circle cx="66.9" cy="675.6" r="1.00" fill="rgb(155,155,155)" stroke="rgb(125,125,125)" stroke-width="0.7"/><circle cx="178.3" cy="608.9" r="1.01" fill="rgb(136,136,136)" stroke="rgb(106,106,106)" stroke-width="0.7"/><circle cx="144.4" cy="579.7" r="1.10" fill="rgb(163,163,163)" stroke="rgb(133,133,133)" stroke-width="0.7"/><circle cx="152.3" cy="588.6" r="0.93" fill="rgb(158,158,158)" stroke="rgb(128,128,128)" stroke-width="0.7"/><circle cx="42.2" cy="632.6" r="0.99" fill="rgb(168,168,168)" stroke="rgb(138,138,138)" stroke-width="0.7"/><circle cx="116.6" cy="674.2" r="0.94" fill="rgb(161,161,161)" stroke="rgb(131,131,131)" stroke-width="0.7"/><circle cx="90.8" cy="680.8" r="0.88" fill="rgb(163,163,163)" stroke="rgb(133,133,133)" stroke-width="0.7"/><circle cx="59.1" cy="639.5" r="1.01" fill="rgb(136,136,136)" stroke="rgb(106,106,106)" stroke-width="0.7"/><circle cx="153.8" cy="613.9" r="0.94" fill="rgb(133,133,133)" stroke="rgb(103,103,103)" stroke-width="0.7"/><circle cx="73.9" cy="631.1" r="1.06" fill="rgb(144,144,144)" stroke="rgb(114,114,114)" stroke-width="0.7"/><circle cx="131.8" cy="591.2" r="0.97" fill="rgb(148,148,148)" stroke="rgb(118,118,118)" stroke-width="0.7"/><circle cx="174.3" cy="671.2" r="1.05" fill="rgb(130,130,130)" stroke="rgb(100,100,100)" stroke-width="0.7"/><circle cx="84.7" cy="658.0" r="0.92" fill="rgb(152,152,152)" stroke="rgb(122,122,122)" stroke-width="0.7"/><circle cx="97.0" cy="580.7" r="1.15" fill="rgb(161,161,161)" stroke="rgb(131,131,131)" stroke-width="0.7"/><circle cx="58.9" cy="647.6" r="0.94" fill="rgb(145,145,145)" stroke="rgb(115,115,115)" stroke-width="0.7"/><circle cx="109.4" cy="612.5" r="0.95" fill="rgb(145,145,145)" stroke="rgb(115,115,115)" stroke-width="0.7"/><circle cx="128.7" cy="607.8" r="0.91" fill="rgb(159,159,159)" stroke="rgb(129,129,129)" stroke-width="0.7"/><circle cx="77.5" cy="683.9" r="1.02" fill="rgb(158,158,158)" stroke="rgb(128,128,128)" stroke-width="0.7"/><circle cx="77.8" cy="670.9" r="0.88" fill="rgb(135,135,135)" stroke="rgb(105,105,105)" stroke-width="0.7"/><circle cx="41.8" cy="654.4" r="1.06" fill="rgb(137,137,137)" stroke="rgb(107,107,107)" stroke-width="0.7"/><circle cx="88.6" cy="672.0" r="1.03" fill="rgb(133,133,133)" stroke="rgb(103,103,103)" stroke-width="0.7"/><circle cx="61.9" cy="596.9" r="0.89" fill="rgb(146,146,146)" stroke="rgb(116,116,116)" stroke-width="0.7"/><circle cx="38.5" cy="681.2" r="0.98" fill="rgb(150,150,150)" stroke="rgb(120,120,120)" stroke-width="0.7"/><circle cx="125.8" cy="664.2" r="1.10" fill="rgb(145,145,145)" stroke="rgb(115,115,115)" stroke-width="0.7"/><circle cx="77.8" cy="625.0" r="0.85" fill="rgb(146,146,146)" stroke="rgb(116,116,116)" stroke-width="0.7"/><circle cx="133.7" cy="688.0" r="1.09" fill="rgb(156,156,156)" stroke="rgb(126,126,126)" stroke-width="0.7"/><circle cx="119.9" cy="581.5" r="0.95" fill="rgb(143,143,143)" stroke="rgb(113,113,113)" stroke-width="0.7"/><circle cx="126.3" cy="591.2" r="0.96" fill="rgb(150,150,150)" stroke="rgb(120,120,120)" stroke-width="0.7"/><circle cx="147.2" cy="670.7" r="1.03" fill="rgb(136,136,136)" stroke="rgb(106,106,106)" stroke-width="0.7"/><circle cx="143.9" cy="679.3" r="1.01" fill="rgb(144,144,144)" stroke="rgb(114,114,114)" stroke-width="0.7"/><circle cx="103.5" cy="595.2" r="1.06" fill="rgb(169,169,169)" stroke="rgb(139,139,139)" stroke-width="0.7"/><circle cx="105.8" cy="658.6" r="1.10" fill="rgb(137,137,137)" stroke="rgb(107,107,107)" stroke-width="0.7"/><circle cx="170.9" cy="648.8" r="0.91" fill="rgb(133,133,133)" stroke="rgb(103,103,103)" stroke-width="0.7"/><circle cx="64.6" cy="643.2" r="1.06" fill="rgb(143,143,143)" stroke="rgb(113,113,113)" stroke-width="0.7"/><circle cx="168.5" cy="619.4" r="0.99" fill="rgb(134,134,134)" stroke="rgb(104,104,104)" stroke-width="0.7"/><circle cx="175.3" cy="594.5" r="1.12" fill="rgb(151,151,151)" stroke="rgb(121,121,121)" stroke-width="0.7"/><circle cx="112.6" cy="641.4" r="0.93" fill="rgb(166,166,166)" stroke="rgb(136,136,136)" stroke-width="0.7"/><circle cx="178.1" cy="669.8" r="1.03" fill="rgb(134,134,134)" stroke="rgb(104,104,104)" stroke-width="0.7"/><circle cx="152.7" cy="611.4" r="1.12" fill="rgb(139,139,139)" stroke="rgb(109,109,109)" stroke-width="0.7"/><circle cx="114.6" cy="671.3" r="0.91" fill="rgb(151,151,151)" stroke="rgb(121,121,121)" stroke-width="0.7"/><circle cx="39.1" cy="583.0" r="0.90" fill="rgb(169,169,169)" stroke="rgb(139,139,139)" stroke-width="0.7"/><circle cx="170.1" cy="652.3" r="0.94" fill="rgb(156,156,156)" stroke="rgb(126,126,126)" stroke-width="0.7"/><circle cx="139.5" cy="621.7" r="1.03" fill="rgb(162,162,162)" stroke="rgb(132,132,132)" stroke-width="0.7"/><circle cx="30.0" cy="601.5" r="0.99" fill="rgb(135,135,135)" stroke="rgb(105,105,105)" stroke-width="0.7"/><circle cx="86.2" cy="642.4" r="0.90" fill="rgb(150,150,150)" stroke="rgb(120,120,120)" stroke-width="0.7"/><circle cx="67.5" cy="642.3" r="0.95" fill="rgb(155,155,155)" stroke="rgb(125,125,125)" stroke-width="0.7"/><circle cx="33.2" cy="653.6" r="0.89" fill="rgb(168,168,168)" stroke="rgb(138,138,138)" stroke-width="0.7"/><circle cx="118.6" cy="631.4" r="0.97" fill="rgb(154,154,154)" stroke="rgb(124,124,124)" stroke-width="0.7"/><circle cx="132.1" cy="663.3" r="1.08" fill="rgb(149,149,149)" stroke="rgb(119,119,119)" stroke-width="0.7"/><circle cx="178.5" cy="672.1" r="1.11" fill="rgb(146,146,146)" stroke="rgb(116,116,116)" stroke-width="0.7"/><circle cx="93.4" cy="642.0" r="1.12" fill="rgb(151,151,151)" stroke="rgb(121,121,121)" stroke-width="0.7"/><circle cx="107.2" cy="627.3" r="1.12" fill="rgb(142,142,142)" stroke="rgb(112,112,112)" stroke-width="0.7"/><circle cx="35.8" cy="659.7" r="1.12" fill="rgb(159,159,159)" stroke="rgb(129,129,129)" stroke-width="0.7"/><circle cx="118.2" cy="662.6" r="0.94" fill="rgb(153,153,153)" stroke="rgb(123,123,123)" stroke-width="0.7"/><circle cx="38.1" cy="593.3" r="0.98" fill="rgb(150,150,150)" stroke="rgb(120,120,120)" stroke-width="0.7"/><circle cx="87.7" cy="585.2" r="1.06" fill="rgb(151,151,151)" stroke="rgb(121,121,121)" stroke-width="0.7"/><circle cx="63.8" cy="613.3" r="0.97" fill="rgb(139,139,139)" stroke="rgb(109,109,109)" stroke-width="0.7"/><circle cx="37.9" cy="680.2" r="1.14" fill="rgb(156,156,156)" stroke="rgb(126,126,126)" stroke-width="0.7"/><circle cx="159.0" cy="626.1" r="1.09" fill="rgb(138,138,138)" stroke="rgb(108,108,108)" stroke-width="0.7"/><circle cx="140.8" cy="642.1" r="1.12" fill="rgb(133,133,133)" stroke="rgb(103,103,103)" stroke-width="0.7"/><circle cx="147.8" cy="593.2" r="1.01" fill="rgb(168,168,168)" stroke="rgb(138,138,138)" stroke-width="0.7"/><circle cx="27.6" cy="606.5" r="0.94" fill="rgb(142,142,142)" stroke="rgb(112,112,112)" stroke-width="0.7"/><circle cx="37.0" cy="678.4" r="1.09" fill="rgb(145,145,145)" stroke="rgb(115,115,115)" stroke-width="0.7"/><circle cx="81.6" cy="644.2" r="0.86" fill="rgb(131,131,131)" stroke="rgb(101,101,101)" stroke-width="0.7"/><circle cx="163.9" cy="613.5" r="1.00" fill="rgb(167,167,167)" stroke="rgb(137,137,137)" stroke-width="0.7"/><circle cx="175.9" cy="631.7" r="0.91" fill="rgb(141,141,141)" stroke="rgb(111,111,111)" stroke-width="0.7"/><circle cx="167.6" cy="678.6" r="0.91" fill="rgb(163,163,163)" stroke="rgb(133,133,133)" stroke-width="0.7"/><circle cx="81.3" cy="631.7" r="0.90" fill="rgb(165,165,165)" stroke="rgb(135,135,135)" stroke-width="0.7"/><circle cx="178.6" cy="601.8" r="1.04" fill="rgb(137,137,137)" stroke="rgb(107,107,107)" stroke-width="0.7"/><circle cx="161.1" cy="585.0" r="0.88" fill="rgb(159,159,159)" stroke="rgb(129,129,129)" stroke-width="0.7"/><circle cx="75.0" cy="679.0" r="1.11" fill="rgb(158,158,158)" stroke="rgb(128,128,128)" stroke-width="0.7"/><circle cx="48.0" cy="656.4" r="1.13" fill="rgb(147,147,147)" stroke="rgb(117,117,117)" stroke-width="0.7"/><circle cx="39.5" cy="604.2" r="0.94" fill="rgb(158,158,158)" stroke="rgb(128,128,128)" stroke-width="0.7"/><circle cx="57.3" cy="599.5" r="0.92" fill="rgb(156,156,156)" stroke="rgb(126,126,126)" stroke-width="0.7"/><circle cx="147.5" cy="620.7" r="1.05" fill="rgb(165,165,165)" stroke="rgb(135,135,135)" stroke-width="0.7"/><circle cx="117.0" cy="604.8" r="0.94" fill="rgb(167,167,167)" stroke="rgb(137,137,137)" stroke-width="0.7"/><circle cx="128.8" cy="610.1" r="1.04" fill="rgb(133,133,133)" stroke="rgb(103,103,103)" stroke-width="0.7"/><circle cx="176.7" cy="628.2" r="1.01" fill="rgb(151,151,151)" stroke="rgb(121,121,121)" stroke-width="0.7"/><circle cx="34.4" cy="645.8" r="0.94" fill="rgb(140,140,140)" stroke="rgb(110,110,110)" stroke-width="0.7"/><circle cx="149.4" cy="589.1" r="0.94" fill="rgb(160,160,160)" stroke="rgb(130,130,130)" stroke-width="0.7"/><circle cx="64.8" cy="610.3" r="1.01" fill="rgb(137,137,137)" stroke="rgb(107,107,107)" stroke-width="0.7"/><circle cx="163.7" cy="688.6" r="0.86" fill="rgb(148,148,148)" stroke="rgb(118,118,118)" stroke-width="0.7"/><circle cx="141.4" cy="622.0" r="1.13" fill="rgb(149,149,149)" stroke="rgb(119,119,119)" stroke-width="0.7"/><circle cx="54.8" cy="640.9" r="1.04" fill="rgb(144,144,144)" stroke="rgb(114,114,114)" stroke-width="0.7"/><circle cx="127.4" cy="666.0" r="1.01" fill="rgb(150,150,150)" stroke="rgb(120,120,120)" stroke-width="0.7"/><circle cx="155.8" cy="655.1" r="1.01" fill="rgb(168,168,168)" stroke="rgb(138,138,138)" stroke-width="0.7"/><circle cx="53.9" cy="665.7" r="0.90" fill="rgb(154,154,154)" stroke="rgb(124,124,124)" stroke-width="0.7"/><circle cx="63.2" cy="628.2" r="1.08" fill="rgb(161,161,161)" stroke="rgb(131,131,131)" stroke-width="0.7"/><circle cx="147.6" cy="605.6" r="1.00" fill="rgb(138,138,138)" stroke="rgb(108,108,108)" stroke-width="0.7"/><circle cx="115.6" cy="634.6" r="0.86" fill="rgb(153,153,153)" stroke="rgb(123,123,123)" stroke-width="0.7"/><circle cx="136.0" cy="642.8" r="1.11" fill="rgb(137,137,137)" stroke="rgb(107,107,107)" stroke-width="0.7"/><circle cx="50.5" cy="581.5" r="1.00" fill="rgb(147,147,147)" stroke="rgb(117,117,117)" stroke-width="0.7"/><circle cx="94.5" cy="608.6" r="1.09" fill="rgb(132,132,132)" stroke="rgb(102,102,102)" stroke-width="0.7"/><circle cx="165.2" cy="642.4" r="1.01" fill="rgb(161,161,161)" stroke="rgb(131,131,131)" stroke-width="0.7"/><circle cx="63.6" cy="595.7" r="0.94" fill="rgb(131,131,131)" stroke="rgb(101,101,101)" stroke-width="0.7"/><circle cx="75.2" cy="648.1" r="1.01" fill="rgb(140,140,140)" stroke="rgb(110,110,110)" stroke-width="0.7"/><circle cx="116.9" cy="589.3" r="1.10" fill="rgb(136,136,136)" stroke="rgb(106,106,106)" stroke-width="0.7"/><circle cx="66.2" cy="597.2" r="1.06" fill="rgb(163,163,163)" stroke="rgb(133,133,133)" stroke-width="0.7"/><circle cx="146.9" cy="586.3" r="0.97" fill="rgb(144,144,144)" stroke="rgb(114,114,114)" stroke-width="0.7"/><circle cx="60.3" cy="686.7" r="0.86" fill="rgb(149,149,149)" stroke="rgb(119,119,119)" stroke-width="0.7"/><circle cx="143.1" cy="688.5" r="0.89" fill="rgb(148,148,148)" stroke="rgb(118,118,118)" stroke-width="0.7"/><circle cx="140.6" cy="583.8" r="0.92" fill="rgb(165,165,165)" stroke="rgb(135,135,135)" stroke-width="0.7"/><circle cx="49.0" cy="622.9" r="0.94" fill="rgb(146,146,146)" stroke="rgb(116,116,116)" stroke-width="0.7"/><circle cx="39.1" cy="583.3" r="1.15" fill="rgb(160,160,160)" stroke="rgb(130,130,130)" stroke-width="0.7"/><circle cx="138.9" cy="604.9" r="0.93" fill="rgb(152,152,152)" stroke="rgb(122,122,122)" stroke-width="0.7"/><circle cx="64.2" cy="630.5" r="1.13" fill="rgb(144,144,144)" stroke="rgb(114,114,114)" stroke-width="0.7"/><circle cx="78.7" cy="687.9" r="1.03" fill="rgb(131,131,131)" stroke="rgb(101,101,101)" stroke-width="0.7"/><circle cx="88.7" cy="651.3" r="0.87" fill="rgb(143,143,143)" stroke="rgb(113,113,113)" stroke-width="0.7"/><circle cx="133.0" cy="675.0" r="1.03" fill="rgb(165,165,165)" stroke="rgb(135,135,135)" stroke-width="0.7"/><circle cx="97.7" cy="622.9" r="1.10" fill="rgb(145,145,145)" stroke="rgb(115,115,115)" stroke-width="0.7"/><circle cx="146.1" cy="603.3" r="0.95" fill="rgb(137,137,137)" stroke="rgb(107,107,107)" stroke-width="0.7"/><circle cx="110.9" cy="597.6" r="0.91" fill="rgb(138,138,138)" stroke="rgb(108,108,108)" stroke-width="0.7"/><circle cx="98.5" cy="613.6" r="0.98" fill="rgb(169,169,169)" stroke="rgb(139,139,139)" stroke-width="0.7"/><circle cx="130.6" cy="674.8" r="0.91" fill="rgb(145,145,145)" stroke="rgb(115,115,115)" stroke-width="0.7"/><circle cx="38.5" cy="655.9" r="0.96" fill="rgb(140,140,140)" stroke="rgb(110,110,110)" stroke-width="0.7"/><circle cx="30.3" cy="599.6" r="0.93" fill="rgb(145,145,145)" stroke="rgb(115,115,115)" stroke-width="0.7"/><circle cx="167.7" cy="658.5" r="0.93" fill="rgb(144,144,144)" stroke="rgb(114,114,114)" stroke-width="0.7"/><circle cx="50.8" cy="683.0" r="0.96" fill="rgb(160,160,160)" stroke="rgb(130,130,130)" stroke-width="0.7"/><circle cx="137.3" cy="679.7" r="0.86" fill="rgb(142,142,142)" stroke="rgb(112,112,112)" stroke-width="0.7"/><circle cx="85.9" cy="588.7" r="1.11" fill="rgb(143,143,143)" stroke="rgb(113,113,113)" stroke-width="0.7"/><circle cx="144.5" cy="636.9" r="0.87" fill="rgb(145,145,145)" stroke="rgb(115,115,115)" stroke-width="0.7"/><circle cx="63.7" cy="584.0" r="0.90" fill="rgb(153,153,153)" stroke="rgb(123,123,123)" stroke-width="0.7"/><circle cx="32.3" cy="614.0" r="0.98" fill="rgb(151,151,151)" stroke="rgb(121,121,121)" stroke-width="0.7"/><circle cx="48.1" cy="657.6" r="0.93" fill="rgb(159,159,159)" stroke="rgb(129,129,129)" stroke-width="0.7"/><circle cx="128.6" cy="595.8" r="0.91" fill="rgb(141,141,141)" stroke="rgb(111,111,111)" stroke-width="0.7"/><circle cx="135.7" cy="624.3" r="0.97" fill="rgb(164,164,164)" stroke="rgb(134,134,134)" stroke-width="0.7"/><circle cx="61.8" cy="611.8" r="0.95" fill="rgb(138,138,138)" stroke="rgb(108,108,108)" stroke-width="0.7"/><circle cx="33.7" cy="582.2" r="1.04" fill="rgb(152,152,152)" stroke="rgb(122,122,122)" stroke-width="0.7"/><circle cx="150.3" cy="687.3" r="0.94" fill="rgb(156,156,156)" stroke="rgb(126,126,126)" stroke-width="0.7"/><circle cx="167.0" cy="603.4" r="1.06" fill="rgb(156,156,156)" stroke="rgb(126,126,126)" stroke-width="0.7"/><circle cx="172.5" cy="675.5" r="0.92" fill="rgb(155,155,155)" stroke="rgb(125,125,125)" stroke-width="0.7"/><circle cx="41.1" cy="626.8" r="0.97" fill="rgb(132,132,132)" stroke="rgb(102,102,102)" stroke-width="0.7"/><circle cx="85.7" cy="615.8" r="1.00" fill="rgb(141,141,141)" stroke="rgb(111,111,111)" stroke-width="0.7"/><circle cx="51.6" cy="624.0" r="0.99" fill="rgb(136,136,136)" stroke="rgb(106,106,106)" stroke-width="0.7"/><circle cx="128.5" cy="606.0" r="0.88" fill="rgb(143,143,143)" stroke="rgb(113,113,113)" stroke-width="0.7"/><circle cx="91.6" cy="596.2" r="1.02" fill="rgb(158,158,158)" stroke="rgb(128,128,128)" stroke-width="0.7"/><circle cx="111.5" cy="656.9" r="0.86" fill="rgb(145,145,145)" stroke="rgb(115,115,115)" stroke-width="0.7"/><circle cx="82.8" cy="586.5" r="0.97" fill="rgb(132,132,132)" stroke="rgb(102,102,102)" stroke-width="0.7"/><circle cx="102.7" cy="644.2" r="0.99" fill="rgb(143,143,143)" stroke="rgb(113,113,113)" stroke-width="0.7"/><circle cx="66.0" cy="582.1" r="0.95" fill="rgb(165,165,165)" stroke="rgb(135,135,135)" stroke-width="0.7"/><circle cx="113.4" cy="608.4" r="1.05" fill="rgb(137,137,137)" stroke="rgb(107,107,107)" stroke-width="0.7"/><circle cx="98.7" cy="647.5" r="1.14" fill="rgb(144,144,144)" stroke="rgb(114,114,114)" stroke-width="0.7"/><circle cx="115.0" cy="683.6" r="1.08" fill="rgb(155,155,155)" stroke="rgb(125,125,125)" stroke-width="0.7"/><circle cx="121.7" cy="624.9" r="0.97" fill="rgb(141,141,141)" stroke="rgb(111,111,111)" stroke-width="0.7"/><circle cx="153.4" cy="676.7" r="0.96" fill="rgb(166,166,166)" stroke="rgb(136,136,136)" stroke-width="0.7"/><circle cx="33.3" cy="594.5" r="1.00" fill="rgb(142,142,142)" stroke="rgb(112,112,112)" stroke-width="0.7"/></g>
<g filter="url(#bl)"><polygon points="119.9,596.1 122.0,597.7 115.8,603.0" fill="rgb(101,101,101)"/><ellipse cx="120.9" cy="596.9" rx="4.1" ry="1.7" transform="rotate(130 120.9 596.9)" fill="rgb(71,71,71)"/><ellipse cx="179.1" cy="686.9" rx="3.3" ry="2.0" transform="rotate(0 179.1 686.9)" fill="rgb(73,73,73)"/><ellipse cx="118.5" cy="665.5" rx="3.3" ry="2.2" transform="rotate(234 118.5 665.5)" fill="rgb(90,90,90)"/><polygon points="117.5,602.5 116.9,599.7 126.6,599.2" fill="rgb(136,136,136)"/><ellipse cx="117.2" cy="601.1" rx="2.9" ry="1.9" transform="rotate(349 117.2 601.1)" fill="rgb(106,106,106)"/><ellipse cx="72.2" cy="580.0" rx="4.0" ry="2.4" transform="rotate(247 72.2 580.0)" fill="rgb(69,69,69)"/><ellipse cx="112.6" cy="672.7" rx="3.3" ry="2.0" transform="rotate(177 112.6 672.7)" fill="rgb(76,76,76)"/><polygon points="40.4,606.2 39.8,608.9 34.3,606.3" fill="rgb(108,108,108)"/><ellipse cx="40.1" cy="607.6" rx="2.7" ry="1.8" transform="rotate(192 40.1 607.6)" fill="rgb(78,78,78)"/><polygon points="104.9,584.0 105.8,581.6 114.2,586.5" fill="rgb(127,127,127)"/><ellipse cx="105.4" cy="582.8" rx="2.4" ry="1.7" transform="rotate(23 105.4 582.8)" fill="rgb(97,97,97)"/><polygon points="43.7,589.6 44.1,593.2 35.8,592.4" fill="rgb(135,135,135)"/><polygon points="43.7,589.6 44.1,593.2 53.7,590.2" fill="rgb(135,135,135)"/><ellipse cx="43.9" cy="591.4" rx="2.6" ry="2.5" transform="rotate(173 43.9 591.4)" fill="rgb(105,105,105)"/><polygon points="36.8,580.3 38.5,582.4 29.3,588.0" fill="rgb(127,127,127)"/><polygon points="36.8,580.3 38.5,582.4 46.3,574.4" fill="rgb(127,127,127)"/><ellipse cx="37.6" cy="581.4" rx="3.6" ry="1.9" transform="rotate(141 37.6 581.4)" fill="rgb(97,97,97)"/><ellipse cx="59.9" cy="681.9" rx="3.3" ry="2.0" transform="rotate(298 59.9 681.9)" fill="rgb(97,97,97)"/><ellipse cx="51.3" cy="668.0" rx="3.7" ry="1.7" transform="rotate(299 51.3 668.0)" fill="rgb(80,80,80)"/><ellipse cx="56.9" cy="629.8" rx="2.6" ry="1.6" transform="rotate(83 56.9 629.8)" fill="rgb(91,91,91)"/><ellipse cx="52.0" cy="613.8" rx="2.5" ry="2.3" transform="rotate(349 52.0 613.8)" fill="rgb(82,82,82)"/><ellipse cx="47.9" cy="657.6" rx="4.0" ry="2.6" transform="rotate(143 47.9 657.6)" fill="rgb(64,64,64)"/><ellipse cx="134.6" cy="579.3" rx="2.4" ry="1.9" transform="rotate(43 134.6 579.3)" fill="rgb(98,98,98)"/><ellipse cx="95.4" cy="600.6" rx="2.9" ry="1.6" transform="rotate(43 95.4 600.6)" fill="rgb(89,89,89)"/><polygon points="46.1,649.4 48.7,651.9 41.0,657.1" fill="rgb(133,133,133)"/><polygon points="46.1,649.4 48.7,651.9 54.3,643.5" fill="rgb(133,133,133)"/><ellipse cx="47.4" cy="650.6" rx="2.9" ry="2.4" transform="rotate(134 47.4 650.6)" fill="rgb(103,103,103)"/><ellipse cx="41.6" cy="669.0" rx="3.0" ry="2.3" transform="rotate(353 41.6 669.0)" fill="rgb(89,89,89)"/><polygon points="174.5,645.8 176.5,644.2 179.0,649.7" fill="rgb(138,138,138)"/><ellipse cx="175.5" cy="645.0" rx="2.6" ry="1.7" transform="rotate(53 175.5 645.0)" fill="rgb(108,108,108)"/><ellipse cx="30.5" cy="600.2" rx="2.3" ry="2.2" transform="rotate(117 30.5 600.2)" fill="rgb(69,69,69)"/><polygon points="117.3,643.0 120.4,643.5 118.0,648.8" fill="rgb(110,110,110)"/><polygon points="117.3,643.0 120.4,643.5 120.5,632.8" fill="rgb(110,110,110)"/><ellipse cx="118.9" cy="643.3" rx="2.7" ry="2.1" transform="rotate(99 118.9 643.3)" fill="rgb(80,80,80)"/><ellipse cx="106.4" cy="650.4" rx="2.4" ry="1.8" transform="rotate(111 106.4 650.4)" fill="rgb(86,86,86)"/><ellipse cx="77.4" cy="612.2" rx="3.9" ry="2.1" transform="rotate(73 77.4 612.2)" fill="rgb(82,82,82)"/><ellipse cx="171.4" cy="642.0" rx="2.4" ry="2.2" transform="rotate(143 171.4 642.0)" fill="rgb(94,94,94)"/><ellipse cx="34.2" cy="619.4" rx="4.0" ry="2.5" transform="rotate(100 34.2 619.4)" fill="rgb(111,111,111)"/><polygon points="102.1,643.7 99.8,642.3 104.2,637.3" fill="rgb(93,93,93)"/><polygon points="102.1,643.7 99.8,642.3 96.8,650.1" fill="rgb(93,93,93)"/><ellipse cx="100.9" cy="643.0" rx="3.6" ry="1.8" transform="rotate(300 100.9 643.0)" fill="rgb(63,63,63)"/><polygon points="56.8,596.6 53.7,596.5 55.4,591.1" fill="rgb(92,92,92)"/><ellipse cx="55.3" cy="596.5" rx="2.9" ry="2.1" transform="rotate(271 55.3 596.5)" fill="rgb(62,62,62)"/><polygon points="151.9,605.3 151.3,608.8 140.6,605.2" fill="rgb(128,128,128)"/><ellipse cx="151.6" cy="607.1" rx="3.8" ry="2.4" transform="rotate(190 151.6 607.1)" fill="rgb(98,98,98)"/><ellipse cx="184.7" cy="704.6" rx="4.1" ry="1.7" transform="rotate(276 184.7 704.6)" fill="rgb(109,109,109)"/><ellipse cx="119.1" cy="626.1" rx="2.8" ry="2.5" transform="rotate(254 119.1 626.1)" fill="rgb(63,63,63)"/><ellipse cx="88.5" cy="640.9" rx="3.0" ry="2.0" transform="rotate(82 88.5 640.9)" fill="rgb(94,94,94)"/><ellipse cx="86.9" cy="626.0" rx="3.4" ry="2.0" transform="rotate(131 86.9 626.0)" fill="rgb(75,75,75)"/><polygon points="100.7,636.3 103.3,637.6 98.4,644.4" fill="rgb(129,129,129)"/><ellipse cx="102.0" cy="637.0" rx="2.5" ry="1.9" transform="rotate(116 102.0 637.0)" fill="rgb(99,99,99)"/><polygon points="177.0,592.9 174.7,594.0 173.6,588.8" fill="rgb(99,99,99)"/><ellipse cx="175.8" cy="593.5" rx="2.6" ry="1.7" transform="rotate(245 175.8 593.5)" fill="rgb(69,69,69)"/><ellipse cx="126.7" cy="647.6" rx="3.0" ry="1.9" transform="rotate(181 126.7 647.6)" fill="rgb(88,88,88)"/><polygon points="60.0,633.8 62.8,633.0 63.9,642.0" fill="rgb(129,129,129)"/><ellipse cx="61.4" cy="633.4" rx="3.9" ry="1.9" transform="rotate(74 61.4 633.4)" fill="rgb(99,99,99)"/><polygon points="117.0,671.8 116.3,668.9 125.7,668.2" fill="rgb(127,127,127)"/><polygon points="117.0,671.8 116.3,668.9 106.1,672.9" fill="rgb(127,127,127)"/><ellipse cx="116.7" cy="670.3" rx="2.7" ry="2.0" transform="rotate(347 116.7 670.3)" fill="rgb(97,97,97)"/><polygon points="112.9,674.1 115.6,675.4 111.0,681.4" fill="rgb(141,141,141)"/><ellipse cx="114.3" cy="674.8" rx="2.6" ry="2.0" transform="rotate(116 114.3 674.8)" fill="rgb(111,111,111)"/><ellipse cx="48.8" cy="619.7" rx="2.7" ry="2.2" transform="rotate(232 48.8 619.7)" fill="rgb(106,106,106)"/><ellipse cx="138.8" cy="637.2" rx="3.2" ry="2.2" transform="rotate(226 138.8 637.2)" fill="rgb(67,67,67)"/><polygon points="118.6,680.9 115.5,682.2 113.6,673.0" fill="rgb(112,112,112)"/><polygon points="118.6,680.9 115.5,682.2 120.4,690.0" fill="rgb(112,112,112)"/><ellipse cx="117.0" cy="681.6" rx="3.1" ry="2.3" transform="rotate(248 117.0 681.6)" fill="rgb(82,82,82)"/><ellipse cx="81.8" cy="614.0" rx="2.4" ry="2.2" transform="rotate(185 81.8 614.0)" fill="rgb(84,84,84)"/><ellipse cx="151.7" cy="632.4" rx="4.0" ry="1.8" transform="rotate(214 151.7 632.4)" fill="rgb(85,85,85)"/><ellipse cx="179.2" cy="587.8" rx="2.9" ry="2.3" transform="rotate(266 179.2 587.8)" fill="rgb(111,111,111)"/><polygon points="140.8,680.3 137.9,677.7 145.4,672.4" fill="rgb(116,116,116)"/><ellipse cx="139.4" cy="679.0" rx="2.5" ry="2.6" transform="rotate(312 139.4 679.0)" fill="rgb(86,86,86)"/><ellipse cx="134.3" cy="667.2" rx="3.8" ry="2.4" transform="rotate(338 134.3 667.2)" fill="rgb(87,87,87)"/><ellipse cx="80.9" cy="655.2" rx="3.9" ry="2.3" transform="rotate(23 80.9 655.2)" fill="rgb(74,74,74)"/><polygon points="159.2,623.8 160.3,627.4 153.8,627.4" fill="rgb(101,101,101)"/><ellipse cx="159.7" cy="625.6" rx="3.3" ry="2.5" transform="rotate(163 159.7 625.6)" fill="rgb(71,71,71)"/><ellipse cx="158.6" cy="642.8" rx="3.7" ry="2.1" transform="rotate(200 158.6 642.8)" fill="rgb(74,74,74)"/><ellipse cx="85.5" cy="643.9" rx="3.7" ry="2.1" transform="rotate(308 85.5 643.9)" fill="rgb(107,107,107)"/><polygon points="38.6,650.9 40.7,649.4 45.7,658.7" fill="rgb(93,93,93)"/><ellipse cx="39.7" cy="650.2" rx="3.0" ry="1.7" transform="rotate(55 39.7 650.2)" fill="rgb(63,63,63)"/><ellipse cx="161.1" cy="660.0" rx="2.6" ry="2.0" transform="rotate(42 161.1 660.0)" fill="rgb(104,104,104)"/><ellipse cx="139.1" cy="643.7" rx="2.4" ry="2.6" transform="rotate(325 139.1 643.7)" fill="rgb(72,72,72)"/><ellipse cx="154.8" cy="588.8" rx="3.6" ry="1.8" transform="rotate(316 154.8 588.8)" fill="rgb(95,95,95)"/><polygon points="31.9,647.4 32.2,644.5 41.6,646.9" fill="rgb(123,123,123)"/><ellipse cx="32.0" cy="645.9" rx="2.9" ry="1.9" transform="rotate(6 32.0 645.9)" fill="rgb(93,93,93)"/><polygon points="60.9,657.4 64.0,655.9 67.0,666.3" fill="rgb(115,115,115)"/><polygon points="60.9,657.4 64.0,655.9 58.8,648.8" fill="rgb(115,115,115)"/><ellipse cx="62.4" cy="656.7" rx="2.5" ry="2.3" transform="rotate(65 62.4 656.7)" fill="rgb(85,85,85)"/><ellipse cx="120.8" cy="681.2" rx="2.7" ry="2.6" transform="rotate(129 120.8 681.2)" fill="rgb(96,96,96)"/><ellipse cx="29.2" cy="612.8" rx="2.9" ry="2.0" transform="rotate(130 29.2 612.8)" fill="rgb(69,69,69)"/><ellipse cx="58.3" cy="598.2" rx="3.8" ry="2.0" transform="rotate(153 58.3 598.2)" fill="rgb(84,84,84)"/><ellipse cx="127.7" cy="628.3" rx="2.9" ry="2.3" transform="rotate(339 127.7 628.3)" fill="rgb(73,73,73)"/><ellipse cx="77.1" cy="653.1" rx="3.9" ry="1.9" transform="rotate(103 77.1 653.1)" fill="rgb(104,104,104)"/><ellipse cx="46.8" cy="656.3" rx="4.0" ry="2.0" transform="rotate(164 46.8 656.3)" fill="rgb(99,99,99)"/><ellipse cx="60.0" cy="603.8" rx="2.4" ry="2.0" transform="rotate(161 60.0 603.8)" fill="rgb(76,76,76)"/><polygon points="59.8,596.0 58.9,592.7 65.2,592.6" fill="rgb(125,125,125)"/><ellipse cx="59.4" cy="594.4" rx="2.8" ry="2.3" transform="rotate(344 59.4 594.4)" fill="rgb(95,95,95)"/><ellipse cx="163.5" cy="584.0" rx="2.8" ry="2.0" transform="rotate(322 163.5 584.0)" fill="rgb(79,79,79)"/><ellipse cx="125.3" cy="663.6" rx="3.4" ry="2.1" transform="rotate(306 125.3 663.6)" fill="rgb(66,66,66)"/><ellipse cx="168.0" cy="671.3" rx="3.0" ry="2.0" transform="rotate(32 168.0 671.3)" fill="rgb(98,98,98)"/><ellipse cx="106.4" cy="653.8" rx="3.9" ry="2.5" transform="rotate(124 106.4 653.8)" fill="rgb(63,63,63)"/><ellipse cx="155.3" cy="648.5" rx="3.0" ry="2.1" transform="rotate(169 155.3 648.5)" fill="rgb(77,77,77)"/><polygon points="154.5,608.7 152.1,611.8 145.1,603.8" fill="rgb(141,141,141)"/><ellipse cx="153.3" cy="610.2" rx="4.0" ry="2.6" transform="rotate(218 153.3 610.2)" fill="rgb(111,111,111)"/><ellipse cx="130.5" cy="610.6" rx="4.1" ry="1.7" transform="rotate(252 130.5 610.6)" fill="rgb(85,85,85)"/><polygon points="127.7,640.7 124.4,642.9 121.9,635.5" fill="rgb(102,102,102)"/><polygon points="127.7,640.7 124.4,642.9 131.4,649.8" fill="rgb(102,102,102)"/><ellipse cx="126.1" cy="641.8" rx="2.7" ry="2.6" transform="rotate(236 126.1 641.8)" fill="rgb(72,72,72)"/><ellipse cx="89.0" cy="600.5" rx="2.6" ry="2.2" transform="rotate(30 89.0 600.5)" fill="rgb(93,93,93)"/><polygon points="66.2,665.6 69.7,665.6 67.8,672.0" fill="rgb(130,130,130)"/><ellipse cx="67.9" cy="665.6" rx="3.8" ry="2.3" transform="rotate(91 67.9 665.6)" fill="rgb(100,100,100)"/><polygon points="178.3,593.4 175.4,591.1 183.0,584.8" fill="rgb(93,93,93)"/><ellipse cx="176.9" cy="592.2" rx="4.0" ry="2.5" transform="rotate(309 176.9 592.2)" fill="rgb(63,63,63)"/><polygon points="165.5,675.2 167.3,673.0 171.8,678.6" fill="rgb(117,117,117)"/><ellipse cx="166.4" cy="674.1" rx="3.7" ry="1.9" transform="rotate(40 166.4 674.1)" fill="rgb(87,87,87)"/><polygon points="130.7,602.7 132.2,600.3 136.5,604.7" fill="rgb(130,130,130)"/><ellipse cx="131.4" cy="601.5" rx="3.2" ry="1.9" transform="rotate(32 131.4 601.5)" fill="rgb(100,100,100)"/><ellipse cx="54.6" cy="580.7" rx="3.1" ry="2.2" transform="rotate(78 54.6 580.7)" fill="rgb(84,84,84)"/><ellipse cx="135.9" cy="599.3" rx="3.8" ry="1.8" transform="rotate(38 135.9 599.3)" fill="rgb(110,110,110)"/><ellipse cx="80.0" cy="656.6" rx="3.4" ry="2.5" transform="rotate(146 80.0 656.6)" fill="rgb(110,110,110)"/><ellipse cx="120.8" cy="663.1" rx="2.6" ry="2.4" transform="rotate(4 120.8 663.1)" fill="rgb(98,98,98)"/><polygon points="146.7,680.3 148.7,679.0 153.0,687.6" fill="rgb(97,97,97)"/><ellipse cx="147.7" cy="679.6" rx="3.3" ry="1.6" transform="rotate(56 147.7 679.6)" fill="rgb(67,67,67)"/><polygon points="50.0,676.2 47.6,674.5 54.8,666.9" fill="rgb(95,95,95)"/><polygon points="50.0,676.2 47.6,674.5 44.8,681.0" fill="rgb(95,95,95)"/><ellipse cx="48.8" cy="675.4" rx="2.4" ry="2.0" transform="rotate(305 48.8 675.4)" fill="rgb(65,65,65)"/><ellipse cx="165.6" cy="621.1" rx="3.5" ry="2.5" transform="rotate(176 165.6 621.1)" fill="rgb(109,109,109)"/><ellipse cx="161.0" cy="667.5" rx="3.9" ry="2.0" transform="rotate(180 161.0 667.5)" fill="rgb(76,76,76)"/><polygon points="96.4,651.4 99.4,651.6 97.5,659.6" fill="rgb(115,115,115)"/><ellipse cx="97.9" cy="651.5" rx="3.0" ry="2.0" transform="rotate(93 97.9 651.5)" fill="rgb(85,85,85)"/><ellipse cx="137.1" cy="669.9" rx="3.8" ry="1.7" transform="rotate(18 137.1 669.9)" fill="rgb(88,88,88)"/><polygon points="135.7,602.0 137.2,604.1 131.1,606.9" fill="rgb(110,110,110)"/><ellipse cx="136.4" cy="603.1" rx="2.7" ry="1.7" transform="rotate(144 136.4 603.1)" fill="rgb(80,80,80)"/><ellipse cx="176.3" cy="687.5" rx="3.2" ry="1.6" transform="rotate(270 176.3 687.5)" fill="rgb(82,82,82)"/><ellipse cx="147.5" cy="614.9" rx="3.4" ry="2.6" transform="rotate(3 147.5 614.9)" fill="rgb(80,80,80)"/><polygon points="156.2,616.9 158.6,619.1 151.7,624.2" fill="rgb(121,121,121)"/><ellipse cx="157.4" cy="618.0" rx="2.8" ry="2.2" transform="rotate(133 157.4 618.0)" fill="rgb(91,91,91)"/><polygon points="128.3,591.2 125.8,591.1 127.2,583.7" fill="rgb(104,104,104)"/><ellipse cx="127.0" cy="591.1" rx="2.4" ry="1.7" transform="rotate(271 127.0 591.1)" fill="rgb(74,74,74)"/><polygon points="168.2,604.5 166.0,602.7 173.8,595.5" fill="rgb(125,125,125)"/><ellipse cx="167.1" cy="603.6" rx="3.0" ry="1.9" transform="rotate(310 167.1 603.6)" fill="rgb(95,95,95)"/><ellipse cx="92.6" cy="583.4" rx="2.9" ry="2.4" transform="rotate(118 92.6 583.4)" fill="rgb(101,101,101)"/><ellipse cx="131.7" cy="680.7" rx="3.7" ry="1.6" transform="rotate(20 131.7 680.7)" fill="rgb(93,93,93)"/><ellipse cx="179.3" cy="679.0" rx="3.4" ry="1.6" transform="rotate(334 179.3 679.0)" fill="rgb(108,108,108)"/><ellipse cx="130.4" cy="628.1" rx="2.3" ry="2.3" transform="rotate(209 130.4 628.1)" fill="rgb(82,82,82)"/><ellipse cx="115.4" cy="655.6" rx="4.0" ry="1.7" transform="rotate(354 115.4 655.6)" fill="rgb(101,101,101)"/><polygon points="95.7,641.3 92.7,641.2 94.3,631.4" fill="rgb(113,113,113)"/><polygon points="95.7,641.3 92.7,641.2 94.1,647.2" fill="rgb(113,113,113)"/><ellipse cx="94.2" cy="641.2" rx="3.0" ry="2.0" transform="rotate(271 94.2 641.2)" fill="rgb(83,83,83)"/><polygon points="111.6,598.9 113.9,596.4 118.8,603.1" fill="rgb(119,119,119)"/><polygon points="111.6,598.9 113.9,596.4 103.8,589.7" fill="rgb(119,119,119)"/><ellipse cx="112.7" cy="597.7" rx="3.8" ry="2.3" transform="rotate(42 112.7 597.7)" fill="rgb(89,89,89)"/><ellipse cx="165.2" cy="607.8" rx="4.0" ry="1.8" transform="rotate(202 165.2 607.8)" fill="rgb(82,82,82)"/><polygon points="174.0,676.6 170.9,674.7 176.3,669.5" fill="rgb(115,115,115)"/><ellipse cx="172.4" cy="675.6" rx="2.5" ry="2.5" transform="rotate(302 172.4 675.6)" fill="rgb(85,85,85)"/><polygon points="75.1,594.4 72.3,595.8 70.5,588.8" fill="rgb(126,126,126)"/><ellipse cx="73.7" cy="595.1" rx="4.0" ry="2.1" transform="rotate(243 73.7 595.1)" fill="rgb(96,96,96)"/><polygon points="70.6,634.4 67.3,634.6 68.6,627.3" fill="rgb(102,102,102)"/><polygon points="70.6,634.4 67.3,634.6 69.4,643.1" fill="rgb(102,102,102)"/><ellipse cx="68.9" cy="634.5" rx="2.6" ry="2.2" transform="rotate(267 68.9 634.5)" fill="rgb(72,72,72)"/><polygon points="45.1,578.4 44.6,581.7 36.5,579.0" fill="rgb(134,134,134)"/><ellipse cx="44.8" cy="580.0" rx="3.0" ry="2.2" transform="rotate(187 44.8 580.0)" fill="rgb(104,104,104)"/><polygon points="109.4,586.1 109.0,582.6 118.0,583.3" fill="rgb(103,103,103)"/><ellipse cx="109.2" cy="584.4" rx="2.9" ry="2.3" transform="rotate(353 109.2 584.4)" fill="rgb(73,73,73)"/><ellipse cx="110.1" cy="688.8" rx="2.4" ry="2.4" transform="rotate(93 110.1 688.8)" fill="rgb(80,80,80)"/><ellipse cx="166.5" cy="628.2" rx="3.4" ry="2.2" transform="rotate(156 166.5 628.2)" fill="rgb(110,110,110)"/><polygon points="89.9,683.9 90.7,686.6 80.0,688.2" fill="rgb(129,129,129)"/><polygon points="89.9,683.9 90.7,686.6 96.0,683.6" fill="rgb(129,129,129)"/><ellipse cx="90.3" cy="685.2" rx="3.2" ry="1.8" transform="rotate(164 90.3 685.2)" fill="rgb(99,99,99)"/></g>
</g>
<rect x="163.3" y="685.4" width="11" height="2" fill="#fff"/>
<rect x="27.8" y="579.8" width="151.20000000000002" height="109.9" fill="none" stroke="#111" stroke-width="1.8" rx="1"/>
<rect x="194.3" y="579.8" width="151" height="110.2" fill="#e8e8e8"/>
<g clip-path="url(#clip22)">
<g filter="url(#bl2)"><ellipse cx="220.3" cy="669.0" rx="4.5" ry="3.5" transform="rotate(43 220.3 669.0)" fill="rgb(141,141,141)"/><ellipse cx="301.3" cy="652.0" rx="8.1" ry="4.4" transform="rotate(117 301.3 652.0)" fill="rgb(152,152,152)"/><ellipse cx="341.1" cy="629.7" rx="8.0" ry="5.9" transform="rotate(20 341.1 629.7)" fill="rgb(146,146,146)"/><ellipse cx="236.3" cy="595.4" rx="8.5" ry="4.8" transform="rotate(79 236.3 595.4)" fill="rgb(147,147,147)"/><ellipse cx="261.1" cy="673.6" rx="8.8" ry="4.2" transform="rotate(44 261.1 673.6)" fill="rgb(154,154,154)"/><ellipse cx="269.4" cy="593.5" rx="6.4" ry="3.9" transform="rotate(159 269.4 593.5)" fill="rgb(139,139,139)"/><ellipse cx="340.0" cy="659.9" rx="5.7" ry="5.3" transform="rotate(154 340.0 659.9)" fill="rgb(170,170,170)"/><ellipse cx="267.4" cy="684.2" rx="7.9" ry="3.0" transform="rotate(45 267.4 684.2)" fill="rgb(148,148,148)"/><ellipse cx="226.7" cy="621.9" rx="8.9" ry="4.1" transform="rotate(9 226.7 621.9)" fill="rgb(145,145,145)"/><ellipse cx="233.3" cy="685.2" rx="6.7" ry="4.2" transform="rotate(136 233.3 685.2)" fill="rgb(193,193,193)"/><ellipse cx="332.7" cy="613.7" rx="5.2" ry="3.8" transform="rotate(97 332.7 613.7)" fill="rgb(179,179,179)"/><ellipse cx="282.3" cy="612.6" rx="5.3" ry="4.4" transform="rotate(8 282.3 612.6)" fill="rgb(194,194,194)"/><ellipse cx="274.1" cy="589.5" rx="7.8" ry="3.2" transform="rotate(90 274.1 589.5)" fill="rgb(179,179,179)"/><ellipse cx="220.2" cy="640.0" rx="6.5" ry="3.6" transform="rotate(74 220.2 640.0)" fill="rgb(190,190,190)"/><ellipse cx="199.9" cy="638.8" rx="5.2" ry="3.6" transform="rotate(166 199.9 638.8)" fill="rgb(176,176,176)"/><ellipse cx="292.0" cy="602.0" rx="7.4" ry="4.8" transform="rotate(166 292.0 602.0)" fill="rgb(199,199,199)"/><ellipse cx="312.7" cy="670.1" rx="7.1" ry="4.9" transform="rotate(172 312.7 670.1)" fill="rgb(182,182,182)"/><ellipse cx="336.7" cy="581.8" rx="5.1" ry="4.2" transform="rotate(158 336.7 581.8)" fill="rgb(198,198,198)"/><ellipse cx="320.3" cy="584.0" rx="8.0" ry="3.5" transform="rotate(29 320.3 584.0)" fill="rgb(182,182,182)"/><ellipse cx="268.3" cy="621.9" rx="8.2" ry="3.5" transform="rotate(132 268.3 621.9)" fill="rgb(176,176,176)"/><ellipse cx="229.1" cy="609.1" rx="7.1" ry="4.8" transform="rotate(158 229.1 609.1)" fill="rgb(193,193,193)"/><ellipse cx="235.5" cy="598.7" rx="8.0" ry="4.3" transform="rotate(145 235.5 598.7)" fill="rgb(182,182,182)"/><ellipse cx="236.1" cy="664.5" rx="7.4" ry="4.3" transform="rotate(35 236.1 664.5)" fill="rgb(194,194,194)"/><ellipse cx="206.0" cy="653.2" rx="8.7" ry="3.8" transform="rotate(160 206.0 653.2)" fill="rgb(188,188,188)"/><ellipse cx="301.1" cy="589.2" rx="7.1" ry="4.4" transform="rotate(55 301.1 589.2)" fill="rgb(180,180,180)"/><ellipse cx="333.1" cy="646.8" rx="8.2" ry="4.2" transform="rotate(89 333.1 646.8)" fill="rgb(198,198,198)"/><ellipse cx="330.4" cy="668.1" rx="6.0" ry="4.0" transform="rotate(116 330.4 668.1)" fill="rgb(195,195,195)"/><ellipse cx="242.8" cy="610.8" rx="6.7" ry="4.1" transform="rotate(153 242.8 610.8)" fill="rgb(180,180,180)"/><ellipse cx="197.9" cy="614.6" rx="7.7" ry="3.5" transform="rotate(125 197.9 614.6)" fill="rgb(198,198,198)"/><ellipse cx="261.5" cy="616.4" rx="6.3" ry="3.3" transform="rotate(149 261.5 616.4)" fill="rgb(193,193,193)"/><ellipse cx="266.3" cy="625.5" rx="7.0" ry="4.1" transform="rotate(41 266.3 625.5)" fill="rgb(177,177,177)"/><ellipse cx="200.4" cy="684.5" rx="8.0" ry="3.7" transform="rotate(78 200.4 684.5)" fill="rgb(184,184,184)"/><ellipse cx="227.2" cy="593.9" rx="7.8" ry="3.3" transform="rotate(155 227.2 593.9)" fill="rgb(190,190,190)"/><ellipse cx="260.8" cy="602.8" rx="6.8" ry="5.0" transform="rotate(116 260.8 602.8)" fill="rgb(175,175,175)"/><ellipse cx="275.5" cy="644.4" rx="8.1" ry="4.9" transform="rotate(155 275.5 644.4)" fill="rgb(187,187,187)"/><ellipse cx="314.0" cy="661.2" rx="5.5" ry="4.1" transform="rotate(167 314.0 661.2)" fill="rgb(178,178,178)"/><ellipse cx="302.4" cy="665.3" rx="5.1" ry="3.1" transform="rotate(168 302.4 665.3)" fill="rgb(192,192,192)"/><ellipse cx="311.7" cy="602.7" rx="8.2" ry="3.4" transform="rotate(131 311.7 602.7)" fill="rgb(189,189,189)"/><ellipse cx="201.3" cy="682.0" rx="6.0" ry="3.2" transform="rotate(148 201.3 682.0)" fill="rgb(187,187,187)"/><ellipse cx="292.7" cy="591.8" rx="7.2" ry="4.3" transform="rotate(166 292.7 591.8)" fill="rgb(191,191,191)"/><ellipse cx="242.9" cy="673.2" rx="5.4" ry="4.1" transform="rotate(96 242.9 673.2)" fill="rgb(175,175,175)"/><ellipse cx="290.6" cy="647.5" rx="5.0" ry="3.5" transform="rotate(56 290.6 647.5)" fill="rgb(194,194,194)"/><ellipse cx="323.4" cy="622.7" rx="7.8" ry="4.2" transform="rotate(4 323.4 622.7)" fill="rgb(183,183,183)"/><ellipse cx="304.9" cy="620.3" rx="6.4" ry="4.9" transform="rotate(149 304.9 620.3)" fill="rgb(196,196,196)"/><ellipse cx="341.4" cy="591.8" rx="8.7" ry="3.1" transform="rotate(29 341.4 591.8)" fill="rgb(181,181,181)"/><ellipse cx="211.1" cy="605.0" rx="5.0" ry="4.0" transform="rotate(9 211.1 605.0)" fill="rgb(190,190,190)"/><ellipse cx="233.1" cy="593.3" rx="7.7" ry="4.7" transform="rotate(28 233.1 593.3)" fill="rgb(198,198,198)"/><ellipse cx="229.7" cy="660.8" rx="6.5" ry="4.5" transform="rotate(46 229.7 660.8)" fill="rgb(180,180,180)"/><ellipse cx="301.0" cy="610.2" rx="7.7" ry="3.1" transform="rotate(4 301.0 610.2)" fill="rgb(185,185,185)"/><ellipse cx="214.3" cy="587.5" rx="5.3" ry="4.4" transform="rotate(25 214.3 587.5)" fill="rgb(188,188,188)"/><ellipse cx="249.7" cy="601.8" rx="6.4" ry="4.8" transform="rotate(4 249.7 601.8)" fill="rgb(179,179,179)"/><ellipse cx="320.2" cy="590.6" rx="5.3" ry="4.6" transform="rotate(12 320.2 590.6)" fill="rgb(189,189,189)"/><ellipse cx="269.5" cy="675.9" rx="6.1" ry="4.8" transform="rotate(97 269.5 675.9)" fill="rgb(189,189,189)"/><ellipse cx="237.7" cy="640.4" rx="5.5" ry="3.6" transform="rotate(14 237.7 640.4)" fill="rgb(180,180,180)"/></g>
<g filter="url(#bl0)"><circle cx="345.2" cy="597.0" r="0.98" fill="rgb(136,136,136)" stroke="rgb(106,106,106)" stroke-width="0.7"/><circle cx="260.7" cy="596.1" r="1.08" fill="rgb(146,146,146)" stroke="rgb(116,116,116)" stroke-width="0.7"/><circle cx="199.4" cy="632.4" r="1.02" fill="rgb(139,139,139)" stroke="rgb(109,109,109)" stroke-width="0.7"/><circle cx="257.8" cy="629.3" r="0.86" fill="rgb(155,155,155)" stroke="rgb(125,125,125)" stroke-width="0.7"/><circle cx="280.9" cy="689.3" r="0.97" fill="rgb(135,135,135)" stroke="rgb(105,105,105)" stroke-width="0.7"/><circle cx="341.9" cy="648.7" r="0.87" fill="rgb(130,130,130)" stroke="rgb(100,100,100)" stroke-width="0.7"/><circle cx="310.3" cy="622.3" r="1.02" fill="rgb(132,132,132)" stroke="rgb(102,102,102)" stroke-width="0.7"/><circle cx="297.3" cy="601.7" r="0.97" fill="rgb(150,150,150)" stroke="rgb(120,120,120)" stroke-width="0.7"/><circle cx="277.6" cy="647.4" r="0.99" fill="rgb(157,157,157)" stroke="rgb(127,127,127)" stroke-width="0.7"/><circle cx="248.8" cy="598.9" r="0.95" fill="rgb(163,163,163)" stroke="rgb(133,133,133)" stroke-width="0.7"/><circle cx="259.4" cy="586.7" r="0.87" fill="rgb(138,138,138)" stroke="rgb(108,108,108)" stroke-width="0.7"/><circle cx="293.2" cy="688.4" r="0.96" fill="rgb(134,134,134)" stroke="rgb(104,104,104)" stroke-width="0.7"/><circle cx="292.2" cy="594.0" r="1.03" fill="rgb(158,158,158)" stroke="rgb(128,128,128)" stroke-width="0.7"/><circle cx="223.5" cy="684.0" r="1.13" fill="rgb(168,168,168)" stroke="rgb(138,138,138)" stroke-width="0.7"/><circle cx="291.8" cy="654.1" r="0.88" fill="rgb(142,142,142)" stroke="rgb(112,112,112)" stroke-width="0.7"/><circle cx="315.9" cy="626.3" r="1.02" fill="rgb(155,155,155)" stroke="rgb(125,125,125)" stroke-width="0.7"/><circle cx="243.2" cy="611.0" r="1.05" fill="rgb(150,150,150)" stroke="rgb(120,120,120)" stroke-width="0.7"/><circle cx="255.4" cy="689.9" r="0.99" fill="rgb(161,161,161)" stroke="rgb(131,131,131)" stroke-width="0.7"/><circle cx="256.4" cy="664.0" r="0.98" fill="rgb(165,165,165)" stroke="rgb(135,135,135)" stroke-width="0.7"/><circle cx="259.5" cy="671.3" r="1.14" fill="rgb(140,140,140)" stroke="rgb(110,110,110)" stroke-width="0.7"/><circle cx="260.3" cy="626.6" r="1.06" fill="rgb(165,165,165)" stroke="rgb(135,135,135)" stroke-width="0.7"/><circle cx="224.2" cy="590.4" r="0.93" fill="rgb(144,144,144)" stroke="rgb(114,114,114)" stroke-width="0.7"/><circle cx="295.9" cy="600.6" r="0.93" fill="rgb(166,166,166)" stroke="rgb(136,136,136)" stroke-width="0.7"/><circle cx="229.2" cy="679.7" r="0.90" fill="rgb(139,139,139)" stroke="rgb(109,109,109)" stroke-width="0.7"/><circle cx="211.7" cy="619.1" r="1.00" fill="rgb(136,136,136)" stroke="rgb(106,106,106)" stroke-width="0.7"/><circle cx="235.8" cy="684.2" r="1.15" fill="rgb(136,136,136)" stroke="rgb(106,106,106)" stroke-width="0.7"/><circle cx="208.2" cy="592.3" r="0.88" fill="rgb(131,131,131)" stroke="rgb(101,101,101)" stroke-width="0.7"/><circle cx="240.3" cy="685.0" r="1.08" fill="rgb(139,139,139)" stroke="rgb(109,109,109)" stroke-width="0.7"/><circle cx="281.1" cy="664.6" r="0.94" fill="rgb(155,155,155)" stroke="rgb(125,125,125)" stroke-width="0.7"/><circle cx="197.3" cy="598.2" r="1.09" fill="rgb(130,130,130)" stroke="rgb(100,100,100)" stroke-width="0.7"/><circle cx="255.3" cy="655.1" r="0.86" fill="rgb(161,161,161)" stroke="rgb(131,131,131)" stroke-width="0.7"/><circle cx="258.6" cy="634.8" r="0.86" fill="rgb(169,169,169)" stroke="rgb(139,139,139)" stroke-width="0.7"/><circle cx="294.3" cy="608.2" r="1.00" fill="rgb(155,155,155)" stroke="rgb(125,125,125)" stroke-width="0.7"/><circle cx="260.5" cy="594.6" r="0.88" fill="rgb(155,155,155)" stroke="rgb(125,125,125)" stroke-width="0.7"/><circle cx="331.0" cy="593.1" r="0.97" fill="rgb(139,139,139)" stroke="rgb(109,109,109)" stroke-width="0.7"/><circle cx="283.0" cy="646.2" r="0.98" fill="rgb(140,140,140)" stroke="rgb(110,110,110)" stroke-width="0.7"/><circle cx="296.2" cy="683.7" r="0.87" fill="rgb(136,136,136)" stroke="rgb(106,106,106)" stroke-width="0.7"/><circle cx="288.8" cy="635.8" r="0.99" fill="rgb(137,137,137)" stroke="rgb(107,107,107)" stroke-width="0.7"/><circle cx="276.8" cy="674.1" r="0.95" fill="rgb(131,131,131)" stroke="rgb(101,101,101)" stroke-width="0.7"/><circle cx="300.6" cy="624.8" r="0.88" fill="rgb(159,159,159)" stroke="rgb(129,129,129)" stroke-width="0.7"/><circle cx="282.7" cy="668.5" r="0.93" fill="rgb(159,159,159)" stroke="rgb(129,129,129)" stroke-width="0.7"/><circle cx="261.7" cy="610.7" r="1.06" fill="rgb(140,140,140)" stroke="rgb(110,110,110)" stroke-width="0.7"/><circle cx="290.3" cy="640.5" r="0.99" fill="rgb(133,133,133)" stroke="rgb(103,103,103)" stroke-width="0.7"/><circle cx="247.6" cy="663.7" r="1.06" fill="rgb(159,159,159)" stroke="rgb(129,129,129)" stroke-width="0.7"/><circle cx="288.7" cy="635.1" r="0.86" fill="rgb(167,167,167)" stroke="rgb(137,137,137)" stroke-width="0.7"/><circle cx="243.8" cy="674.7" r="1.11" fill="rgb(149,149,149)" stroke="rgb(119,119,119)" stroke-width="0.7"/><circle cx="302.1" cy="659.6" r="0.89" fill="rgb(154,154,154)" stroke="rgb(124,124,124)" stroke-width="0.7"/><circle cx="212.4" cy="686.9" r="0.93" fill="rgb(156,156,156)" stroke="rgb(126,126,126)" stroke-width="0.7"/><circle cx="210.9" cy="625.6" r="1.06" fill="rgb(141,141,141)" stroke="rgb(111,111,111)" stroke-width="0.7"/><circle cx="297.8" cy="582.1" r="0.96" fill="rgb(147,147,147)" stroke="rgb(117,117,117)" stroke-width="0.7"/><circle cx="272.2" cy="661.1" r="1.11" fill="rgb(156,156,156)" stroke="rgb(126,126,126)" stroke-width="0.7"/><circle cx="312.6" cy="625.1" r="1.02" fill="rgb(141,141,141)" stroke="rgb(111,111,111)" stroke-width="0.7"/><circle cx="323.2" cy="591.1" r="1.12" fill="rgb(153,153,153)" stroke="rgb(123,123,123)" stroke-width="0.7"/><circle cx="244.9" cy="677.1" r="0.90" fill="rgb(165,165,165)" stroke="rgb(135,135,135)" stroke-width="0.7"/><circle cx="237.6" cy="621.8" r="1.03" fill="rgb(140,140,140)" stroke="rgb(110,110,110)" stroke-width="0.7"/><circle cx="326.4" cy="674.8" r="0.96" fill="rgb(152,152,152)" stroke="rgb(122,122,122)" stroke-width="0.7"/><circle cx="280.6" cy="620.7" r="1.13" fill="rgb(136,136,136)" stroke="rgb(106,106,106)" stroke-width="0.7"/><circle cx="216.8" cy="647.8" r="0.92" fill="rgb(159,159,159)" stroke="rgb(129,129,129)" stroke-width="0.7"/><circle cx="290.4" cy="590.9" r="0.92" fill="rgb(150,150,150)" stroke="rgb(120,120,120)" stroke-width="0.7"/><circle cx="197.8" cy="610.0" r="0.99" fill="rgb(156,156,156)" stroke="rgb(126,126,126)" stroke-width="0.7"/><circle cx="250.9" cy="580.7" r="1.13" fill="rgb(138,138,138)" stroke="rgb(108,108,108)" stroke-width="0.7"/><circle cx="250.9" cy="642.0" r="1.07" fill="rgb(168,168,168)" stroke="rgb(138,138,138)" stroke-width="0.7"/><circle cx="292.7" cy="663.8" r="1.03" fill="rgb(160,160,160)" stroke="rgb(130,130,130)" stroke-width="0.7"/><circle cx="319.2" cy="582.9" r="0.87" fill="rgb(151,151,151)" stroke="rgb(121,121,121)" stroke-width="0.7"/><circle cx="308.4" cy="635.4" r="1.09" fill="rgb(134,134,134)" stroke="rgb(104,104,104)" stroke-width="0.7"/><circle cx="288.9" cy="631.8" r="1.10" fill="rgb(139,139,139)" stroke="rgb(109,109,109)" stroke-width="0.7"/><circle cx="263.8" cy="620.8" r="1.06" fill="rgb(138,138,138)" stroke="rgb(108,108,108)" stroke-width="0.7"/><circle cx="336.2" cy="674.9" r="1.06" fill="rgb(164,164,164)" stroke="rgb(134,134,134)" stroke-width="0.7"/><circle cx="218.4" cy="686.0" r="0.92" fill="rgb(146,146,146)" stroke="rgb(116,116,116)" stroke-width="0.7"/><circle cx="318.7" cy="629.6" r="0.86" fill="rgb(148,148,148)" stroke="rgb(118,118,118)" stroke-width="0.7"/><circle cx="222.4" cy="587.1" r="0.87" fill="rgb(153,153,153)" stroke="rgb(123,123,123)" stroke-width="0.7"/><circle cx="274.2" cy="617.7" r="0.97" fill="rgb(143,143,143)" stroke="rgb(113,113,113)" stroke-width="0.7"/><circle cx="333.3" cy="592.3" r="1.12" fill="rgb(167,167,167)" stroke="rgb(137,137,137)" stroke-width="0.7"/><circle cx="272.0" cy="648.8" r="1.13" fill="rgb(136,136,136)" stroke="rgb(106,106,106)" stroke-width="0.7"/><circle cx="196.7" cy="617.3" r="1.15" fill="rgb(136,136,136)" stroke="rgb(106,106,106)" stroke-width="0.7"/><circle cx="244.2" cy="675.1" r="1.02" fill="rgb(165,165,165)" stroke="rgb(135,135,135)" stroke-width="0.7"/><circle cx="263.8" cy="651.7" r="0.94" fill="rgb(168,168,168)" stroke="rgb(138,138,138)" stroke-width="0.7"/><circle cx="219.4" cy="677.6" r="1.14" fill="rgb(147,147,147)" stroke="rgb(117,117,117)" stroke-width="0.7"/><circle cx="295.4" cy="630.8" r="1.07" fill="rgb(133,133,133)" stroke="rgb(103,103,103)" stroke-width="0.7"/><circle cx="344.3" cy="632.6" r="1.09" fill="rgb(151,151,151)" stroke="rgb(121,121,121)" stroke-width="0.7"/><circle cx="234.8" cy="596.7" r="1.01" fill="rgb(147,147,147)" stroke="rgb(117,117,117)" stroke-width="0.7"/><circle cx="290.4" cy="615.8" r="1.01" fill="rgb(132,132,132)" stroke="rgb(102,102,102)" stroke-width="0.7"/><circle cx="296.1" cy="634.8" r="0.93" fill="rgb(134,134,134)" stroke="rgb(104,104,104)" stroke-width="0.7"/><circle cx="267.0" cy="589.3" r="1.11" fill="rgb(149,149,149)" stroke="rgb(119,119,119)" stroke-width="0.7"/><circle cx="298.5" cy="616.2" r="0.88" fill="rgb(146,146,146)" stroke="rgb(116,116,116)" stroke-width="0.7"/><circle cx="226.5" cy="673.9" r="0.86" fill="rgb(134,134,134)" stroke="rgb(104,104,104)" stroke-width="0.7"/><circle cx="330.4" cy="584.7" r="1.05" fill="rgb(154,154,154)" stroke="rgb(124,124,124)" stroke-width="0.7"/><circle cx="249.6" cy="682.4" r="0.93" fill="rgb(141,141,141)" stroke="rgb(111,111,111)" stroke-width="0.7"/><circle cx="321.0" cy="610.0" r="0.87" fill="rgb(152,152,152)" stroke="rgb(122,122,122)" stroke-width="0.7"/><circle cx="310.0" cy="618.0" r="0.97" fill="rgb(142,142,142)" stroke="rgb(112,112,112)" stroke-width="0.7"/><circle cx="291.3" cy="633.7" r="1.05" fill="rgb(145,145,145)" stroke="rgb(115,115,115)" stroke-width="0.7"/><circle cx="305.2" cy="641.0" r="0.90" fill="rgb(146,146,146)" stroke="rgb(116,116,116)" stroke-width="0.7"/><circle cx="289.5" cy="662.9" r="0.97" fill="rgb(142,142,142)" stroke="rgb(112,112,112)" stroke-width="0.7"/><circle cx="327.7" cy="646.7" r="1.13" fill="rgb(165,165,165)" stroke="rgb(135,135,135)" stroke-width="0.7"/><circle cx="261.2" cy="621.3" r="1.06" fill="rgb(159,159,159)" stroke="rgb(129,129,129)" stroke-width="0.7"/><circle cx="239.9" cy="611.4" r="0.94" fill="rgb(139,139,139)" stroke="rgb(109,109,109)" stroke-width="0.7"/><circle cx="256.1" cy="634.2" r="1.08" fill="rgb(132,132,132)" stroke="rgb(102,102,102)" stroke-width="0.7"/><circle cx="256.4" cy="612.0" r="0.94" fill="rgb(141,141,141)" stroke="rgb(111,111,111)" stroke-width="0.7"/><circle cx="311.0" cy="586.6" r="1.07" fill="rgb(163,163,163)" stroke="rgb(133,133,133)" stroke-width="0.7"/><circle cx="266.4" cy="673.8" r="1.13" fill="rgb(140,140,140)" stroke="rgb(110,110,110)" stroke-width="0.7"/><circle cx="239.3" cy="662.4" r="0.94" fill="rgb(148,148,148)" stroke="rgb(118,118,118)" stroke-width="0.7"/><circle cx="255.1" cy="654.9" r="1.07" fill="rgb(165,165,165)" stroke="rgb(135,135,135)" stroke-width="0.7"/><circle cx="328.6" cy="669.2" r="1.07" fill="rgb(160,160,160)" stroke="rgb(130,130,130)" stroke-width="0.7"/><circle cx="199.3" cy="671.0" r="0.86" fill="rgb(169,169,169)" stroke="rgb(139,139,139)" stroke-width="0.7"/><circle cx="202.9" cy="599.7" r="0.93" fill="rgb(132,132,132)" stroke="rgb(102,102,102)" stroke-width="0.7"/><circle cx="222.6" cy="603.4" r="1.07" fill="rgb(163,163,163)" stroke="rgb(133,133,133)" stroke-width="0.7"/><circle cx="298.1" cy="623.6" r="0.96" fill="rgb(150,150,150)" stroke="rgb(120,120,120)" stroke-width="0.7"/><circle cx="201.5" cy="650.2" r="0.88" fill="rgb(148,148,148)" stroke="rgb(118,118,118)" stroke-width="0.7"/><circle cx="243.8" cy="688.0" r="0.89" fill="rgb(153,153,153)" stroke="rgb(123,123,123)" stroke-width="0.7"/><circle cx="197.8" cy="643.6" r="0.90" fill="rgb(144,144,144)" stroke="rgb(114,114,114)" stroke-width="0.7"/><circle cx="322.9" cy="615.9" r="1.08" fill="rgb(161,161,161)" stroke="rgb(131,131,131)" stroke-width="0.7"/><circle cx="228.1" cy="656.8" r="1.04" fill="rgb(166,166,166)" stroke="rgb(136,136,136)" stroke-width="0.7"/><circle cx="211.6" cy="627.2" r="1.13" fill="rgb(146,146,146)" stroke="rgb(116,116,116)" stroke-width="0.7"/><circle cx="340.6" cy="681.9" r="0.95" fill="rgb(153,153,153)" stroke="rgb(123,123,123)" stroke-width="0.7"/><circle cx="278.3" cy="629.8" r="1.04" fill="rgb(167,167,167)" stroke="rgb(137,137,137)" stroke-width="0.7"/><circle cx="256.5" cy="594.5" r="0.92" fill="rgb(162,162,162)" stroke="rgb(132,132,132)" stroke-width="0.7"/><circle cx="295.7" cy="630.3" r="1.04" fill="rgb(132,132,132)" stroke="rgb(102,102,102)" stroke-width="0.7"/><circle cx="256.3" cy="627.6" r="1.05" fill="rgb(150,150,150)" stroke="rgb(120,120,120)" stroke-width="0.7"/><circle cx="214.7" cy="665.2" r="0.89" fill="rgb(130,130,130)" stroke="rgb(100,100,100)" stroke-width="0.7"/><circle cx="318.8" cy="655.1" r="1.07" fill="rgb(154,154,154)" stroke="rgb(124,124,124)" stroke-width="0.7"/><circle cx="271.5" cy="644.3" r="1.11" fill="rgb(162,162,162)" stroke="rgb(132,132,132)" stroke-width="0.7"/><circle cx="339.1" cy="635.7" r="1.00" fill="rgb(131,131,131)" stroke="rgb(101,101,101)" stroke-width="0.7"/><circle cx="200.6" cy="659.6" r="1.12" fill="rgb(163,163,163)" stroke="rgb(133,133,133)" stroke-width="0.7"/><circle cx="252.2" cy="642.3" r="0.87" fill="rgb(152,152,152)" stroke="rgb(122,122,122)" stroke-width="0.7"/><circle cx="283.5" cy="645.1" r="1.11" fill="rgb(130,130,130)" stroke="rgb(100,100,100)" stroke-width="0.7"/><circle cx="264.7" cy="594.8" r="1.01" fill="rgb(153,153,153)" stroke="rgb(123,123,123)" stroke-width="0.7"/><circle cx="287.6" cy="642.3" r="0.90" fill="rgb(163,163,163)" stroke="rgb(133,133,133)" stroke-width="0.7"/><circle cx="220.9" cy="599.4" r="1.10" fill="rgb(140,140,140)" stroke="rgb(110,110,110)" stroke-width="0.7"/><circle cx="282.9" cy="687.8" r="0.93" fill="rgb(155,155,155)" stroke="rgb(125,125,125)" stroke-width="0.7"/><circle cx="224.9" cy="645.8" r="1.04" fill="rgb(139,139,139)" stroke="rgb(109,109,109)" stroke-width="0.7"/><circle cx="330.2" cy="607.9" r="0.93" fill="rgb(153,153,153)" stroke="rgb(123,123,123)" stroke-width="0.7"/><circle cx="252.8" cy="630.7" r="0.85" fill="rgb(161,161,161)" stroke="rgb(131,131,131)" stroke-width="0.7"/><circle cx="217.4" cy="660.8" r="1.02" fill="rgb(133,133,133)" stroke="rgb(103,103,103)" stroke-width="0.7"/><circle cx="307.5" cy="681.0" r="1.02" fill="rgb(157,157,157)" stroke="rgb(127,127,127)" stroke-width="0.7"/><circle cx="248.6" cy="611.0" r="1.11" fill="rgb(157,157,157)" stroke="rgb(127,127,127)" stroke-width="0.7"/><circle cx="207.8" cy="587.0" r="0.85" fill="rgb(169,169,169)" stroke="rgb(139,139,139)" stroke-width="0.7"/><circle cx="308.8" cy="659.6" r="0.95" fill="rgb(152,152,152)" stroke="rgb(122,122,122)" stroke-width="0.7"/><circle cx="274.7" cy="630.1" r="1.07" fill="rgb(133,133,133)" stroke="rgb(103,103,103)" stroke-width="0.7"/><circle cx="219.7" cy="603.2" r="1.07" fill="rgb(132,132,132)" stroke="rgb(102,102,102)" stroke-width="0.7"/><circle cx="218.1" cy="633.9" r="1.06" fill="rgb(137,137,137)" stroke="rgb(107,107,107)" stroke-width="0.7"/><circle cx="272.3" cy="668.1" r="1.09" fill="rgb(137,137,137)" stroke="rgb(107,107,107)" stroke-width="0.7"/><circle cx="310.6" cy="611.7" r="0.98" fill="rgb(160,160,160)" stroke="rgb(130,130,130)" stroke-width="0.7"/><circle cx="211.4" cy="587.1" r="0.86" fill="rgb(140,140,140)" stroke="rgb(110,110,110)" stroke-width="0.7"/><circle cx="285.9" cy="653.6" r="1.01" fill="rgb(153,153,153)" stroke="rgb(123,123,123)" stroke-width="0.7"/><circle cx="304.0" cy="591.4" r="1.06" fill="rgb(134,134,134)" stroke="rgb(104,104,104)" stroke-width="0.7"/><circle cx="229.2" cy="674.7" r="1.04" fill="rgb(150,150,150)" stroke="rgb(120,120,120)" stroke-width="0.7"/><circle cx="230.7" cy="668.9" r="1.01" fill="rgb(163,163,163)" stroke="rgb(133,133,133)" stroke-width="0.7"/><circle cx="263.0" cy="600.9" r="0.94" fill="rgb(131,131,131)" stroke="rgb(101,101,101)" stroke-width="0.7"/><circle cx="272.9" cy="628.6" r="1.15" fill="rgb(151,151,151)" stroke="rgb(121,121,121)" stroke-width="0.7"/><circle cx="284.3" cy="621.3" r="0.88" fill="rgb(166,166,166)" stroke="rgb(136,136,136)" stroke-width="0.7"/><circle cx="210.9" cy="659.7" r="0.86" fill="rgb(149,149,149)" stroke="rgb(119,119,119)" stroke-width="0.7"/><circle cx="239.3" cy="598.5" r="1.11" fill="rgb(148,148,148)" stroke="rgb(118,118,118)" stroke-width="0.7"/><circle cx="225.9" cy="661.8" r="0.92" fill="rgb(167,167,167)" stroke="rgb(137,137,137)" stroke-width="0.7"/><circle cx="250.6" cy="590.7" r="1.06" fill="rgb(160,160,160)" stroke="rgb(130,130,130)" stroke-width="0.7"/><circle cx="339.2" cy="666.2" r="0.94" fill="rgb(153,153,153)" stroke="rgb(123,123,123)" stroke-width="0.7"/><circle cx="298.8" cy="644.3" r="0.92" fill="rgb(159,159,159)" stroke="rgb(129,129,129)" stroke-width="0.7"/><circle cx="213.6" cy="611.3" r="0.94" fill="rgb(169,169,169)" stroke="rgb(139,139,139)" stroke-width="0.7"/><circle cx="312.0" cy="638.3" r="1.10" fill="rgb(135,135,135)" stroke="rgb(105,105,105)" stroke-width="0.7"/><circle cx="246.1" cy="671.4" r="1.08" fill="rgb(157,157,157)" stroke="rgb(127,127,127)" stroke-width="0.7"/><circle cx="321.2" cy="650.2" r="1.05" fill="rgb(142,142,142)" stroke="rgb(112,112,112)" stroke-width="0.7"/></g>
<g filter="url(#bl)"><ellipse cx="279.8" cy="656.8" rx="2.6" ry="1.5" transform="rotate(313 279.8 656.8)" fill="rgb(93,93,93)"/><ellipse cx="233.3" cy="685.2" rx="3.9" ry="2.4" transform="rotate(99 233.3 685.2)" fill="rgb(70,70,70)"/><ellipse cx="312.2" cy="685.0" rx="3.8" ry="2.0" transform="rotate(47 312.2 685.0)" fill="rgb(72,72,72)"/><polygon points="214.4,669.8 217.1,671.7 212.3,675.9" fill="rgb(141,141,141)"/><ellipse cx="215.8" cy="670.7" rx="2.4" ry="2.2" transform="rotate(124 215.8 670.7)" fill="rgb(111,111,111)"/><polygon points="223.9,585.9 220.6,584.5 225.8,576.8" fill="rgb(119,119,119)"/><polygon points="223.9,585.9 220.6,584.5 218.8,593.4" fill="rgb(119,119,119)"/><ellipse cx="222.2" cy="585.2" rx="2.8" ry="2.4" transform="rotate(293 222.2 585.2)" fill="rgb(89,89,89)"/><polygon points="198.0,682.5 200.4,680.9 203.4,688.1" fill="rgb(121,121,121)"/><polygon points="198.0,682.5 200.4,680.9 195.9,676.9" fill="rgb(121,121,121)"/><ellipse cx="199.2" cy="681.7" rx="2.9" ry="1.9" transform="rotate(56 199.2 681.7)" fill="rgb(91,91,91)"/><ellipse cx="272.4" cy="624.9" rx="3.8" ry="1.9" transform="rotate(231 272.4 624.9)" fill="rgb(97,97,97)"/><ellipse cx="332.7" cy="613.7" rx="2.3" ry="2.0" transform="rotate(313 332.7 613.7)" fill="rgb(104,104,104)"/><ellipse cx="282.3" cy="612.6" rx="2.4" ry="1.6" transform="rotate(328 282.3 612.6)" fill="rgb(88,88,88)"/><ellipse cx="276.3" cy="627.6" rx="2.4" ry="1.7" transform="rotate(65 276.3 627.6)" fill="rgb(66,66,66)"/><polygon points="273.3,588.4 274.9,590.6 264.7,596.4" fill="rgb(110,110,110)"/><ellipse cx="274.1" cy="589.5" rx="3.3" ry="1.8" transform="rotate(144 274.1 589.5)" fill="rgb(80,80,80)"/><ellipse cx="248.0" cy="627.4" rx="3.7" ry="2.5" transform="rotate(219 248.0 627.4)" fill="rgb(104,104,104)"/><polygon points="333.0,684.5 336.3,684.9 333.4,695.3" fill="rgb(126,126,126)"/><ellipse cx="334.7" cy="684.7" rx="2.9" ry="2.2" transform="rotate(97 334.7 684.7)" fill="rgb(96,96,96)"/><ellipse cx="254.8" cy="590.4" rx="2.2" ry="2.1" transform="rotate(330 254.8 590.4)" fill="rgb(79,79,79)"/><ellipse cx="220.2" cy="640.0" rx="3.7" ry="2.3" transform="rotate(342 220.2 640.0)" fill="rgb(98,98,98)"/><ellipse cx="243.9" cy="619.2" rx="2.7" ry="2.1" transform="rotate(101 243.9 619.2)" fill="rgb(109,109,109)"/><ellipse cx="199.9" cy="638.8" rx="3.2" ry="2.3" transform="rotate(177 199.9 638.8)" fill="rgb(97,97,97)"/><ellipse cx="292.0" cy="602.0" rx="3.5" ry="1.5" transform="rotate(350 292.0 602.0)" fill="rgb(91,91,91)"/><ellipse cx="202.2" cy="625.1" rx="3.3" ry="2.0" transform="rotate(187 202.2 625.1)" fill="rgb(89,89,89)"/><polygon points="332.1,629.6 334.6,631.6 327.5,638.0" fill="rgb(110,110,110)"/><ellipse cx="333.4" cy="630.6" rx="3.1" ry="2.1" transform="rotate(129 333.4 630.6)" fill="rgb(80,80,80)"/><polygon points="267.9,637.1 271.3,638.0 267.1,647.8" fill="rgb(133,133,133)"/><polygon points="267.9,637.1 271.3,638.0 271.8,628.3" fill="rgb(133,133,133)"/><ellipse cx="269.6" cy="637.5" rx="3.1" ry="2.3" transform="rotate(104 269.6 637.5)" fill="rgb(103,103,103)"/><ellipse cx="344.0" cy="661.8" rx="2.3" ry="2.3" transform="rotate(201 344.0 661.8)" fill="rgb(111,111,111)"/><polygon points="302.9,651.3 305.4,650.1 308.9,660.5" fill="rgb(118,118,118)"/><ellipse cx="304.1" cy="650.7" rx="2.4" ry="1.8" transform="rotate(64 304.1 650.7)" fill="rgb(88,88,88)"/><polygon points="314.2,669.5 311.3,670.8 308.8,661.4" fill="rgb(93,93,93)"/><ellipse cx="312.7" cy="670.1" rx="2.2" ry="2.1" transform="rotate(246 312.7 670.1)" fill="rgb(63,63,63)"/><polygon points="335.0,581.6 338.3,582.0 335.6,591.7" fill="rgb(118,118,118)"/><ellipse cx="336.7" cy="581.8" rx="2.8" ry="2.2" transform="rotate(96 336.7 581.8)" fill="rgb(88,88,88)"/><polygon points="291.6,617.3 288.6,617.4 290.0,608.4" fill="rgb(114,114,114)"/><polygon points="291.6,617.3 288.6,617.4 290.3,625.7" fill="rgb(114,114,114)"/><ellipse cx="290.1" cy="617.3" rx="3.1" ry="2.0" transform="rotate(269 290.1 617.3)" fill="rgb(84,84,84)"/><polygon points="297.9,629.2 299.7,626.2 305.1,631.3" fill="rgb(133,133,133)"/><polygon points="297.9,629.2 299.7,626.2 292.7,624.1" fill="rgb(133,133,133)"/><ellipse cx="298.8" cy="627.7" rx="3.2" ry="2.3" transform="rotate(30 298.8 627.7)" fill="rgb(103,103,103)"/><ellipse cx="200.6" cy="686.4" rx="2.2" ry="1.9" transform="rotate(22 200.6 686.4)" fill="rgb(85,85,85)"/><polygon points="213.0,604.4 211.3,602.9 216.1,599.2" fill="rgb(111,111,111)"/><polygon points="213.0,604.4 211.3,602.9 207.9,608.4" fill="rgb(111,111,111)"/><ellipse cx="212.1" cy="603.6" rx="3.2" ry="1.6" transform="rotate(312 212.1 603.6)" fill="rgb(81,81,81)"/><ellipse cx="325.1" cy="599.7" rx="3.7" ry="1.6" transform="rotate(147 325.1 599.7)" fill="rgb(92,92,92)"/><ellipse cx="209.0" cy="631.6" rx="2.7" ry="1.7" transform="rotate(77 209.0 631.6)" fill="rgb(108,108,108)"/><ellipse cx="246.3" cy="660.8" rx="3.0" ry="1.9" transform="rotate(234 246.3 660.8)" fill="rgb(76,76,76)"/><ellipse cx="320.3" cy="584.0" rx="3.0" ry="1.8" transform="rotate(46 320.3 584.0)" fill="rgb(78,78,78)"/><ellipse cx="322.5" cy="583.4" rx="3.2" ry="1.5" transform="rotate(260 322.5 583.4)" fill="rgb(78,78,78)"/><ellipse cx="268.3" cy="621.9" rx="2.7" ry="2.3" transform="rotate(162 268.3 621.9)" fill="rgb(87,87,87)"/><ellipse cx="302.7" cy="631.0" rx="3.0" ry="2.4" transform="rotate(335 302.7 631.0)" fill="rgb(83,83,83)"/><polygon points="228.0,607.7 230.3,610.5 221.6,615.5" fill="rgb(141,141,141)"/><ellipse cx="229.1" cy="609.1" rx="3.8" ry="2.4" transform="rotate(140 229.1 609.1)" fill="rgb(111,111,111)"/><polygon points="237.0,599.8 234.0,597.6 238.8,594.2" fill="rgb(122,122,122)"/><ellipse cx="235.5" cy="598.7" rx="2.5" ry="2.5" transform="rotate(306 235.5 598.7)" fill="rgb(92,92,92)"/><ellipse cx="242.4" cy="583.1" rx="2.6" ry="2.1" transform="rotate(310 242.4 583.1)" fill="rgb(99,99,99)"/><ellipse cx="236.6" cy="673.1" rx="3.9" ry="2.0" transform="rotate(215 236.6 673.1)" fill="rgb(99,99,99)"/><ellipse cx="236.1" cy="664.5" rx="3.3" ry="2.2" transform="rotate(289 236.1 664.5)" fill="rgb(109,109,109)"/><ellipse cx="316.8" cy="629.7" rx="2.4" ry="1.8" transform="rotate(50 316.8 629.7)" fill="rgb(96,96,96)"/><polygon points="262.7,627.6 259.7,626.8 263.0,620.3" fill="rgb(121,121,121)"/><ellipse cx="261.2" cy="627.2" rx="2.9" ry="2.1" transform="rotate(284 261.2 627.2)" fill="rgb(91,91,91)"/><ellipse cx="233.4" cy="686.8" rx="2.9" ry="2.2" transform="rotate(115 233.4 686.8)" fill="rgb(92,92,92)"/><ellipse cx="300.4" cy="646.8" rx="3.8" ry="1.9" transform="rotate(207 300.4 646.8)" fill="rgb(75,75,75)"/><ellipse cx="322.1" cy="685.0" rx="3.6" ry="2.2" transform="rotate(335 322.1 685.0)" fill="rgb(106,106,106)"/><ellipse cx="292.0" cy="610.5" rx="3.1" ry="1.7" transform="rotate(44 292.0 610.5)" fill="rgb(71,71,71)"/><ellipse cx="234.0" cy="608.4" rx="2.8" ry="1.8" transform="rotate(311 234.0 608.4)" fill="rgb(91,91,91)"/><ellipse cx="246.8" cy="667.3" rx="2.4" ry="2.1" transform="rotate(298 246.8 667.3)" fill="rgb(97,97,97)"/><ellipse cx="269.8" cy="594.8" rx="3.0" ry="1.6" transform="rotate(297 269.8 594.8)" fill="rgb(95,95,95)"/><ellipse cx="269.7" cy="617.6" rx="2.5" ry="1.7" transform="rotate(216 269.7 617.6)" fill="rgb(69,69,69)"/><ellipse cx="206.0" cy="653.2" rx="3.3" ry="2.0" transform="rotate(55 206.0 653.2)" fill="rgb(99,99,99)"/><ellipse cx="301.1" cy="589.2" rx="2.4" ry="2.1" transform="rotate(113 301.1 589.2)" fill="rgb(104,104,104)"/><ellipse cx="245.4" cy="585.8" rx="3.0" ry="1.7" transform="rotate(354 245.4 585.8)" fill="rgb(96,96,96)"/><polygon points="321.0,601.4 324.4,601.6 322.3,611.0" fill="rgb(103,103,103)"/><ellipse cx="322.7" cy="601.5" rx="2.4" ry="2.2" transform="rotate(92 322.7 601.5)" fill="rgb(73,73,73)"/><ellipse cx="338.2" cy="579.9" rx="3.7" ry="2.4" transform="rotate(178 338.2 579.9)" fill="rgb(72,72,72)"/><ellipse cx="310.0" cy="592.3" rx="3.8" ry="2.1" transform="rotate(179 310.0 592.3)" fill="rgb(78,78,78)"/><ellipse cx="202.1" cy="649.5" rx="3.1" ry="2.2" transform="rotate(163 202.1 649.5)" fill="rgb(90,90,90)"/><ellipse cx="333.1" cy="646.8" rx="2.5" ry="1.9" transform="rotate(26 333.1 646.8)" fill="rgb(70,70,70)"/><ellipse cx="336.0" cy="680.0" rx="2.4" ry="1.8" transform="rotate(226 336.0 680.0)" fill="rgb(81,81,81)"/><polygon points="288.9,660.2 287.7,662.5 281.1,657.7" fill="rgb(130,130,130)"/><ellipse cx="288.3" cy="661.3" rx="2.7" ry="1.7" transform="rotate(207 288.3 661.3)" fill="rgb(100,100,100)"/><polygon points="339.5,682.3 342.2,684.8 334.8,689.9" fill="rgb(105,105,105)"/><polygon points="339.5,682.3 342.2,684.8 347.3,676.8" fill="rgb(105,105,105)"/><ellipse cx="340.8" cy="683.6" rx="2.7" ry="2.4" transform="rotate(134 340.8 683.6)" fill="rgb(75,75,75)"/><ellipse cx="330.4" cy="668.1" rx="3.0" ry="1.9" transform="rotate(9 330.4 668.1)" fill="rgb(74,74,74)"/><polygon points="243.7,611.6 241.9,610.0 246.8,606.5" fill="rgb(129,129,129)"/><polygon points="243.7,611.6 241.9,610.0 236.7,617.5" fill="rgb(129,129,129)"/><ellipse cx="242.8" cy="610.8" rx="3.3" ry="1.6" transform="rotate(313 242.8 610.8)" fill="rgb(99,99,99)"/><ellipse cx="203.0" cy="681.8" rx="3.0" ry="2.3" transform="rotate(190 203.0 681.8)" fill="rgb(97,97,97)"/><ellipse cx="197.9" cy="614.6" rx="3.3" ry="1.8" transform="rotate(216 197.9 614.6)" fill="rgb(79,79,79)"/><polygon points="262.4,614.9 260.7,617.9 253.8,612.1" fill="rgb(114,114,114)"/><ellipse cx="261.5" cy="616.4" rx="2.6" ry="2.3" transform="rotate(210 261.5 616.4)" fill="rgb(84,84,84)"/><ellipse cx="266.3" cy="625.5" rx="3.2" ry="1.5" transform="rotate(19 266.3 625.5)" fill="rgb(78,78,78)"/><polygon points="317.5,614.8 316.7,612.4 325.8,610.9" fill="rgb(121,121,121)"/><ellipse cx="317.1" cy="613.6" rx="3.6" ry="1.7" transform="rotate(343 317.1 613.6)" fill="rgb(91,91,91)"/><ellipse cx="326.9" cy="685.5" rx="2.9" ry="2.1" transform="rotate(325 326.9 685.5)" fill="rgb(78,78,78)"/><ellipse cx="200.4" cy="684.5" rx="2.8" ry="1.9" transform="rotate(90 200.4 684.5)" fill="rgb(81,81,81)"/><ellipse cx="227.2" cy="593.9" rx="3.9" ry="2.3" transform="rotate(121 227.2 593.9)" fill="rgb(78,78,78)"/><polygon points="241.5,596.7 240.9,593.4 248.6,593.6" fill="rgb(106,106,106)"/><polygon points="241.5,596.7 240.9,593.4 230.6,597.2" fill="rgb(106,106,106)"/><ellipse cx="241.2" cy="595.1" rx="2.4" ry="2.2" transform="rotate(349 241.2 595.1)" fill="rgb(76,76,76)"/><ellipse cx="294.8" cy="614.3" rx="2.6" ry="1.9" transform="rotate(296 294.8 614.3)" fill="rgb(78,78,78)"/><ellipse cx="315.3" cy="635.4" rx="2.5" ry="2.5" transform="rotate(7 315.3 635.4)" fill="rgb(79,79,79)"/><ellipse cx="340.6" cy="619.1" rx="3.9" ry="2.0" transform="rotate(179 340.6 619.1)" fill="rgb(99,99,99)"/><ellipse cx="329.5" cy="627.6" rx="2.4" ry="2.5" transform="rotate(85 329.5 627.6)" fill="rgb(73,73,73)"/><polygon points="253.8,629.1 254.0,631.7 247.8,630.9" fill="rgb(126,126,126)"/><ellipse cx="253.9" cy="630.4" rx="2.9" ry="1.7" transform="rotate(175 253.9 630.4)" fill="rgb(96,96,96)"/><polygon points="261.3,604.5 260.2,601.1 270.3,599.7" fill="rgb(122,122,122)"/><ellipse cx="260.8" cy="602.8" rx="2.9" ry="2.3" transform="rotate(342 260.8 602.8)" fill="rgb(92,92,92)"/><polygon points="335.3,594.3 336.0,590.8 342.9,594.1" fill="rgb(107,107,107)"/><ellipse cx="335.7" cy="592.5" rx="3.7" ry="2.4" transform="rotate(12 335.7 592.5)" fill="rgb(77,77,77)"/><ellipse cx="308.1" cy="588.6" rx="3.2" ry="2.0" transform="rotate(267 308.1 588.6)" fill="rgb(80,80,80)"/><polygon points="312.5,609.1 315.1,609.4 312.8,618.2" fill="rgb(122,122,122)"/><ellipse cx="313.8" cy="609.3" rx="3.0" ry="1.7" transform="rotate(97 313.8 609.3)" fill="rgb(92,92,92)"/><ellipse cx="309.4" cy="597.6" rx="2.2" ry="2.0" transform="rotate(147 309.4 597.6)" fill="rgb(105,105,105)"/><ellipse cx="275.5" cy="644.4" rx="3.6" ry="2.3" transform="rotate(152 275.5 644.4)" fill="rgb(76,76,76)"/><polygon points="312.8,659.8 315.1,662.5 306.1,667.5" fill="rgb(128,128,128)"/><polygon points="312.8,659.8 315.1,662.5 319.9,656.3" fill="rgb(128,128,128)"/><ellipse cx="314.0" cy="661.2" rx="3.8" ry="2.4" transform="rotate(141 314.0 661.2)" fill="rgb(98,98,98)"/><ellipse cx="302.4" cy="665.3" rx="3.8" ry="2.3" transform="rotate(145 302.4 665.3)" fill="rgb(98,98,98)"/><polygon points="264.0,667.5 260.8,668.2 260.5,658.0" fill="rgb(127,127,127)"/><ellipse cx="262.4" cy="667.9" rx="2.5" ry="2.2" transform="rotate(259 262.4 667.9)" fill="rgb(97,97,97)"/><ellipse cx="311.7" cy="602.7" rx="3.8" ry="1.8" transform="rotate(321 311.7 602.7)" fill="rgb(69,69,69)"/><ellipse cx="291.5" cy="609.6" rx="2.2" ry="1.7" transform="rotate(356 291.5 609.6)" fill="rgb(102,102,102)"/><polygon points="200.9,680.7 201.6,683.3 189.8,684.8" fill="rgb(101,101,101)"/><polygon points="200.9,680.7 201.6,683.3 209.4,680.0" fill="rgb(101,101,101)"/><ellipse cx="201.3" cy="682.0" rx="3.8" ry="1.8" transform="rotate(166 201.3 682.0)" fill="rgb(71,71,71)"/><polygon points="229.9,629.5 231.6,631.5 224.9,635.5" fill="rgb(113,113,113)"/><polygon points="229.9,629.5 231.6,631.5 238.0,624.3" fill="rgb(113,113,113)"/><ellipse cx="230.8" cy="630.5" rx="2.3" ry="1.8" transform="rotate(140 230.8 630.5)" fill="rgb(83,83,83)"/><polygon points="341.6,594.4 343.7,592.4 346.8,598.0" fill="rgb(119,119,119)"/><polygon points="341.6,594.4 343.7,592.4 336.6,586.8" fill="rgb(119,119,119)"/><ellipse cx="342.6" cy="593.4" rx="3.5" ry="1.9" transform="rotate(48 342.6 593.4)" fill="rgb(89,89,89)"/><polygon points="248.0,620.3 245.8,621.8 240.9,612.5" fill="rgb(122,122,122)"/><polygon points="248.0,620.3 245.8,621.8 252.5,629.1" fill="rgb(122,122,122)"/><ellipse cx="246.9" cy="621.0" rx="3.2" ry="1.8" transform="rotate(235 246.9 621.0)" fill="rgb(92,92,92)"/><polygon points="213.7,639.8 216.7,641.1 212.7,645.9" fill="rgb(102,102,102)"/><ellipse cx="215.2" cy="640.5" rx="3.2" ry="2.2" transform="rotate(114 215.2 640.5)" fill="rgb(72,72,72)"/><polygon points="292.2,590.7 293.1,592.9 286.7,594.1" fill="rgb(110,110,110)"/><polygon points="292.2,590.7 293.1,592.9 301.4,588.4" fill="rgb(110,110,110)"/><ellipse cx="292.7" cy="591.8" rx="2.8" ry="1.6" transform="rotate(159 292.7 591.8)" fill="rgb(80,80,80)"/><polygon points="270.5,681.9 271.8,680.0 279.2,686.3" fill="rgb(115,115,115)"/><ellipse cx="271.1" cy="681.0" rx="3.8" ry="1.6" transform="rotate(34 271.1 681.0)" fill="rgb(85,85,85)"/><ellipse cx="209.7" cy="635.5" rx="3.5" ry="1.9" transform="rotate(156 209.7 635.5)" fill="rgb(96,96,96)"/><ellipse cx="196.2" cy="598.1" rx="2.4" ry="1.7" transform="rotate(304 196.2 598.1)" fill="rgb(84,84,84)"/><polygon points="245.5,634.4 244.4,631.8 250.1,631.0" fill="rgb(104,104,104)"/><ellipse cx="245.0" cy="633.1" rx="2.4" ry="1.9" transform="rotate(338 245.0 633.1)" fill="rgb(74,74,74)"/><polygon points="283.3,656.5 285.9,658.7 277.6,666.0" fill="rgb(122,122,122)"/><polygon points="283.3,656.5 285.9,658.7 288.8,652.7" fill="rgb(122,122,122)"/><ellipse cx="284.6" cy="657.6" rx="3.6" ry="2.2" transform="rotate(130 284.6 657.6)" fill="rgb(92,92,92)"/><ellipse cx="212.6" cy="598.5" rx="3.0" ry="1.6" transform="rotate(84 212.6 598.5)" fill="rgb(99,99,99)"/><polygon points="298.6,652.1 299.9,654.9 292.9,656.5" fill="rgb(116,116,116)"/><ellipse cx="299.3" cy="653.5" rx="3.6" ry="2.1" transform="rotate(155 299.3 653.5)" fill="rgb(86,86,86)"/><ellipse cx="275.5" cy="615.7" rx="2.2" ry="1.6" transform="rotate(106 275.5 615.7)" fill="rgb(62,62,62)"/><ellipse cx="242.9" cy="673.2" rx="3.7" ry="1.5" transform="rotate(165 242.9 673.2)" fill="rgb(107,107,107)"/><ellipse cx="290.6" cy="647.5" rx="2.5" ry="2.4" transform="rotate(27 290.6 647.5)" fill="rgb(89,89,89)"/><polygon points="196.0,636.7 195.6,639.7 187.3,637.0" fill="rgb(131,131,131)"/><ellipse cx="195.8" cy="638.2" rx="2.4" ry="2.1" transform="rotate(188 195.8 638.2)" fill="rgb(101,101,101)"/><ellipse cx="256.6" cy="685.0" rx="3.7" ry="2.1" transform="rotate(38 256.6 685.0)" fill="rgb(77,77,77)"/><polygon points="310.2,588.5 309.9,591.9 301.5,589.4" fill="rgb(93,93,93)"/><polygon points="310.2,588.5 309.9,591.9 320.8,591.2" fill="rgb(93,93,93)"/><ellipse cx="310.1" cy="590.2" rx="2.8" ry="2.3" transform="rotate(185 310.1 590.2)" fill="rgb(63,63,63)"/><ellipse cx="340.7" cy="608.9" rx="3.6" ry="1.6" transform="rotate(51 340.7 608.9)" fill="rgb(105,105,105)"/><ellipse cx="287.0" cy="609.9" rx="2.7" ry="2.4" transform="rotate(158 287.0 609.9)" fill="rgb(82,82,82)"/><ellipse cx="243.8" cy="623.7" rx="3.4" ry="1.8" transform="rotate(318 243.8 623.7)" fill="rgb(104,104,104)"/><polygon points="335.8,585.3 333.1,586.8 330.6,579.3" fill="rgb(134,134,134)"/><polygon points="335.8,585.3 333.1,586.8 339.8,595.7" fill="rgb(134,134,134)"/><ellipse cx="334.4" cy="586.0" rx="3.0" ry="2.0" transform="rotate(241 334.4 586.0)" fill="rgb(104,104,104)"/><ellipse cx="338.2" cy="681.1" rx="3.9" ry="1.7" transform="rotate(141 338.2 681.1)" fill="rgb(109,109,109)"/><polygon points="252.1,586.6 252.7,589.3 244.0,589.7" fill="rgb(94,94,94)"/><polygon points="252.1,586.6 252.7,589.3 261.1,586.1" fill="rgb(94,94,94)"/><ellipse cx="252.4" cy="587.9" rx="3.5" ry="1.8" transform="rotate(168 252.4 587.9)" fill="rgb(64,64,64)"/><polygon points="322.1,623.2 324.7,622.1 325.5,627.8" fill="rgb(121,121,121)"/><ellipse cx="323.4" cy="622.7" rx="2.4" ry="1.8" transform="rotate(68 323.4 622.7)" fill="rgb(91,91,91)"/><ellipse cx="286.9" cy="667.2" rx="3.3" ry="2.1" transform="rotate(164 286.9 667.2)" fill="rgb(103,103,103)"/><ellipse cx="236.9" cy="650.6" rx="3.3" ry="2.0" transform="rotate(175 236.9 650.6)" fill="rgb(71,71,71)"/><polygon points="284.5,632.9 285.7,630.6 290.4,634.6" fill="rgb(102,102,102)"/><ellipse cx="285.1" cy="631.7" rx="2.8" ry="1.8" transform="rotate(28 285.1 631.7)" fill="rgb(72,72,72)"/><polygon points="218.1,582.3 220.5,581.6 221.7,590.4" fill="rgb(138,138,138)"/><ellipse cx="219.3" cy="581.9" rx="2.7" ry="1.7" transform="rotate(74 219.3 581.9)" fill="rgb(108,108,108)"/><polygon points="232.4,664.2 234.8,662.3 239.1,670.5" fill="rgb(102,102,102)"/><ellipse cx="233.6" cy="663.3" rx="3.7" ry="2.1" transform="rotate(52 233.6 663.3)" fill="rgb(72,72,72)"/><ellipse cx="289.6" cy="613.6" rx="3.7" ry="2.0" transform="rotate(20 289.6 613.6)" fill="rgb(87,87,87)"/><polygon points="304.1,619.1 305.7,621.5 296.6,625.4" fill="rgb(118,118,118)"/><polygon points="304.1,619.1 305.7,621.5 313.5,614.9" fill="rgb(118,118,118)"/><ellipse cx="304.9" cy="620.3" rx="2.5" ry="1.9" transform="rotate(148 304.9 620.3)" fill="rgb(88,88,88)"/><ellipse cx="303.2" cy="680.9" rx="3.3" ry="1.9" transform="rotate(100 303.2 680.9)" fill="rgb(111,111,111)"/><ellipse cx="217.2" cy="669.1" rx="3.7" ry="1.9" transform="rotate(220 217.2 669.1)" fill="rgb(109,109,109)"/><polygon points="309.4,619.7 307.0,619.8 307.8,609.3" fill="rgb(135,135,135)"/><polygon points="309.4,619.7 307.0,619.8 308.6,629.5" fill="rgb(135,135,135)"/><ellipse cx="308.2" cy="619.8" rx="3.4" ry="1.6" transform="rotate(268 308.2 619.8)" fill="rgb(105,105,105)"/><ellipse cx="316.9" cy="680.9" rx="2.5" ry="1.8" transform="rotate(21 316.9 680.9)" fill="rgb(88,88,88)"/><ellipse cx="286.9" cy="636.1" rx="2.3" ry="1.6" transform="rotate(142 286.9 636.1)" fill="rgb(102,102,102)"/><ellipse cx="226.3" cy="660.7" rx="2.2" ry="2.0" transform="rotate(96 226.3 660.7)" fill="rgb(64,64,64)"/><ellipse cx="341.4" cy="591.8" rx="3.3" ry="2.4" transform="rotate(89 341.4 591.8)" fill="rgb(97,97,97)"/><ellipse cx="211.1" cy="605.0" rx="2.7" ry="1.9" transform="rotate(95 211.1 605.0)" fill="rgb(93,93,93)"/><polygon points="257.5,597.5 256.2,595.1 267.1,590.8" fill="rgb(98,98,98)"/><ellipse cx="256.9" cy="596.3" rx="3.4" ry="1.8" transform="rotate(332 256.9 596.3)" fill="rgb(68,68,68)"/><polygon points="230.0,679.5 231.7,676.3 237.2,681.2" fill="rgb(115,115,115)"/><ellipse cx="230.9" cy="677.9" rx="3.3" ry="2.5" transform="rotate(28 230.9 677.9)" fill="rgb(85,85,85)"/><ellipse cx="259.2" cy="664.2" rx="3.1" ry="2.0" transform="rotate(70 259.2 664.2)" fill="rgb(90,90,90)"/><ellipse cx="233.1" cy="593.3" rx="2.4" ry="2.4" transform="rotate(61 233.1 593.3)" fill="rgb(95,95,95)"/><ellipse cx="229.7" cy="660.8" rx="3.1" ry="2.3" transform="rotate(52 229.7 660.8)" fill="rgb(99,99,99)"/><ellipse cx="301.0" cy="610.2" rx="2.5" ry="2.2" transform="rotate(265 301.0 610.2)" fill="rgb(89,89,89)"/><ellipse cx="322.9" cy="596.2" rx="3.3" ry="2.3" transform="rotate(132 322.9 596.2)" fill="rgb(77,77,77)"/><ellipse cx="290.2" cy="594.5" rx="3.5" ry="2.2" transform="rotate(17 290.2 594.5)" fill="rgb(92,92,92)"/><polygon points="214.9,588.6 213.6,586.4 219.0,584.7" fill="rgb(114,114,114)"/><ellipse cx="214.3" cy="587.5" rx="2.8" ry="1.7" transform="rotate(329 214.3 587.5)" fill="rgb(84,84,84)"/><ellipse cx="332.9" cy="644.1" rx="3.8" ry="1.6" transform="rotate(59 332.9 644.1)" fill="rgb(83,83,83)"/><ellipse cx="238.6" cy="593.0" rx="2.7" ry="2.3" transform="rotate(58 238.6 593.0)" fill="rgb(93,93,93)"/><polygon points="339.4,592.3 338.4,595.0 330.0,590.2" fill="rgb(101,101,101)"/><ellipse cx="338.9" cy="593.6" rx="2.8" ry="1.9" transform="rotate(201 338.9 593.6)" fill="rgb(71,71,71)"/><ellipse cx="287.3" cy="662.5" rx="3.1" ry="1.8" transform="rotate(114 287.3 662.5)" fill="rgb(99,99,99)"/><ellipse cx="296.6" cy="663.3" rx="3.2" ry="2.3" transform="rotate(181 296.6 663.3)" fill="rgb(107,107,107)"/><polygon points="219.2,608.9 222.2,608.9 220.8,618.5" fill="rgb(94,94,94)"/><ellipse cx="220.7" cy="608.9" rx="2.6" ry="2.0" transform="rotate(89 220.7 608.9)" fill="rgb(64,64,64)"/><polygon points="206.2,664.6 208.2,661.6 212.0,666.2" fill="rgb(109,109,109)"/><ellipse cx="207.2" cy="663.1" rx="2.8" ry="2.4" transform="rotate(33 207.2 663.1)" fill="rgb(79,79,79)"/><ellipse cx="315.4" cy="635.6" rx="3.3" ry="2.3" transform="rotate(109 315.4 635.6)" fill="rgb(66,66,66)"/><polygon points="342.4,610.4 340.0,609.6 343.7,602.6" fill="rgb(135,135,135)"/><ellipse cx="341.2" cy="610.0" rx="2.5" ry="1.7" transform="rotate(288 341.2 610.0)" fill="rgb(105,105,105)"/><ellipse cx="341.4" cy="584.8" rx="3.7" ry="1.7" transform="rotate(343 341.4 584.8)" fill="rgb(84,84,84)"/><polygon points="248.6,602.9 250.7,600.7 255.7,607.7" fill="rgb(92,92,92)"/><polygon points="248.6,602.9 250.7,600.7 243.5,595.8" fill="rgb(92,92,92)"/><ellipse cx="249.7" cy="601.8" rx="3.3" ry="2.0" transform="rotate(44 249.7 601.8)" fill="rgb(62,62,62)"/><ellipse cx="251.3" cy="591.3" rx="2.5" ry="1.9" transform="rotate(346 251.3 591.3)" fill="rgb(80,80,80)"/><polygon points="318.8,589.8 321.7,591.4 315.1,599.4" fill="rgb(130,130,130)"/><ellipse cx="320.2" cy="590.6" rx="3.3" ry="2.2" transform="rotate(120 320.2 590.6)" fill="rgb(100,100,100)"/><polygon points="269.7,677.1 269.4,674.8 279.1,674.5" fill="rgb(133,133,133)"/><ellipse cx="269.5" cy="675.9" rx="2.9" ry="1.6" transform="rotate(351 269.5 675.9)" fill="rgb(103,103,103)"/><ellipse cx="231.8" cy="664.4" rx="3.7" ry="2.2" transform="rotate(304 231.8 664.4)" fill="rgb(106,106,106)"/><polygon points="342.7,610.8 344.8,608.7 350.3,616.5" fill="rgb(139,139,139)"/><ellipse cx="343.7" cy="609.8" rx="3.5" ry="2.0" transform="rotate(46 343.7 609.8)" fill="rgb(109,109,109)"/><ellipse cx="252.3" cy="669.6" rx="2.3" ry="1.9" transform="rotate(215 252.3 669.6)" fill="rgb(78,78,78)"/><ellipse cx="303.4" cy="685.6" rx="3.3" ry="2.3" transform="rotate(359 303.4 685.6)" fill="rgb(110,110,110)"/><ellipse cx="327.7" cy="620.2" rx="3.0" ry="2.3" transform="rotate(188 327.7 620.2)" fill="rgb(96,96,96)"/><polygon points="236.8,616.2 236.7,619.7 226.9,617.8" fill="rgb(99,99,99)"/><ellipse cx="236.7" cy="617.9" rx="3.3" ry="2.3" transform="rotate(181 236.7 617.9)" fill="rgb(69,69,69)"/><ellipse cx="237.7" cy="640.4" rx="3.4" ry="2.1" transform="rotate(74 237.7 640.4)" fill="rgb(98,98,98)"/></g>
</g>
<rect x="329.3" y="685.4" width="11" height="2" fill="#fff"/>
<rect x="194.60000000000002" y="580.0999999999999" width="150.4" height="109.60000000000001" fill="none" stroke="#111" stroke-width="1.8" rx="1"/>
<rect x="24.8" y="744.3" width="154.5" height="110.7" fill="#e5e5e5"/>
<g clip-path="url(#clip33)">
<g filter="url(#bl2)"><ellipse cx="46.0" cy="797.6" rx="6.3" ry="4.0" transform="rotate(133 46.0 797.6)" fill="rgb(135,135,135)"/><ellipse cx="28.4" cy="760.8" rx="4.9" ry="5.2" transform="rotate(43 28.4 760.8)" fill="rgb(159,159,159)"/><ellipse cx="150.8" cy="799.2" rx="7.0" ry="4.7" transform="rotate(172 150.8 799.2)" fill="rgb(145,145,145)"/><ellipse cx="142.6" cy="776.0" rx="6.0" ry="3.1" transform="rotate(15 142.6 776.0)" fill="rgb(167,167,167)"/><ellipse cx="53.8" cy="849.2" rx="5.9" ry="3.7" transform="rotate(68 53.8 849.2)" fill="rgb(169,169,169)"/><ellipse cx="128.7" cy="758.6" rx="4.8" ry="5.7" transform="rotate(111 128.7 758.6)" fill="rgb(165,165,165)"/><ellipse cx="155.5" cy="799.4" rx="7.9" ry="5.6" transform="rotate(147 155.5 799.4)" fill="rgb(169,169,169)"/><ellipse cx="134.2" cy="775.5" rx="5.9" ry="3.9" transform="rotate(78 134.2 775.5)" fill="rgb(158,158,158)"/><ellipse cx="62.3" cy="774.5" rx="6.3" ry="4.8" transform="rotate(34 62.3 774.5)" fill="rgb(195,195,195)"/><ellipse cx="116.2" cy="840.2" rx="8.2" ry="4.9" transform="rotate(43 116.2 840.2)" fill="rgb(185,185,185)"/><ellipse cx="160.6" cy="784.7" rx="7.0" ry="4.6" transform="rotate(165 160.6 784.7)" fill="rgb(184,184,184)"/><ellipse cx="130.3" cy="838.6" rx="6.8" ry="3.0" transform="rotate(102 130.3 838.6)" fill="rgb(177,177,177)"/><ellipse cx="84.8" cy="810.5" rx="5.7" ry="5.0" transform="rotate(153 84.8 810.5)" fill="rgb(185,185,185)"/><ellipse cx="136.5" cy="840.9" rx="6.9" ry="4.9" transform="rotate(30 136.5 840.9)" fill="rgb(175,175,175)"/><ellipse cx="120.9" cy="828.2" rx="6.0" ry="3.9" transform="rotate(173 120.9 828.2)" fill="rgb(187,187,187)"/><ellipse cx="74.2" cy="849.7" rx="6.0" ry="4.5" transform="rotate(78 74.2 849.7)" fill="rgb(190,190,190)"/><ellipse cx="115.0" cy="819.2" rx="5.7" ry="4.0" transform="rotate(137 115.0 819.2)" fill="rgb(180,180,180)"/><ellipse cx="110.8" cy="819.1" rx="7.7" ry="4.6" transform="rotate(150 110.8 819.1)" fill="rgb(183,183,183)"/><ellipse cx="140.9" cy="774.3" rx="6.2" ry="3.7" transform="rotate(81 140.9 774.3)" fill="rgb(190,190,190)"/></g>
<g filter="url(#bl0)"><circle cx="47.2" cy="778.4" r="1.07" fill="rgb(148,148,148)" stroke="rgb(118,118,118)" stroke-width="0.7"/><circle cx="148.7" cy="783.2" r="1.08" fill="rgb(141,141,141)" stroke="rgb(111,111,111)" stroke-width="0.7"/><circle cx="127.8" cy="744.4" r="0.90" fill="rgb(167,167,167)" stroke="rgb(137,137,137)" stroke-width="0.7"/><circle cx="88.9" cy="825.3" r="1.11" fill="rgb(137,137,137)" stroke="rgb(107,107,107)" stroke-width="0.7"/><circle cx="48.0" cy="799.0" r="0.89" fill="rgb(139,139,139)" stroke="rgb(109,109,109)" stroke-width="0.7"/><circle cx="174.0" cy="840.4" r="1.03" fill="rgb(147,147,147)" stroke="rgb(117,117,117)" stroke-width="0.7"/><circle cx="162.0" cy="819.3" r="1.00" fill="rgb(134,134,134)" stroke="rgb(104,104,104)" stroke-width="0.7"/><circle cx="119.5" cy="811.8" r="0.90" fill="rgb(151,151,151)" stroke="rgb(121,121,121)" stroke-width="0.7"/><circle cx="67.7" cy="812.2" r="0.99" fill="rgb(158,158,158)" stroke="rgb(128,128,128)" stroke-width="0.7"/><circle cx="51.3" cy="774.8" r="1.06" fill="rgb(164,164,164)" stroke="rgb(134,134,134)" stroke-width="0.7"/><circle cx="42.1" cy="751.9" r="0.86" fill="rgb(136,136,136)" stroke="rgb(106,106,106)" stroke-width="0.7"/><circle cx="46.5" cy="818.2" r="1.01" fill="rgb(134,134,134)" stroke="rgb(104,104,104)" stroke-width="0.7"/><circle cx="97.5" cy="766.6" r="0.86" fill="rgb(162,162,162)" stroke="rgb(132,132,132)" stroke-width="0.7"/><circle cx="164.5" cy="809.9" r="1.02" fill="rgb(147,147,147)" stroke="rgb(117,117,117)" stroke-width="0.7"/><circle cx="29.6" cy="804.8" r="0.86" fill="rgb(147,147,147)" stroke="rgb(117,117,117)" stroke-width="0.7"/><circle cx="38.4" cy="765.3" r="0.89" fill="rgb(136,136,136)" stroke="rgb(106,106,106)" stroke-width="0.7"/><circle cx="137.2" cy="852.4" r="0.95" fill="rgb(163,163,163)" stroke="rgb(133,133,133)" stroke-width="0.7"/><circle cx="139.0" cy="801.6" r="1.04" fill="rgb(135,135,135)" stroke="rgb(105,105,105)" stroke-width="0.7"/><circle cx="112.7" cy="766.9" r="0.95" fill="rgb(166,166,166)" stroke="rgb(136,136,136)" stroke-width="0.7"/><circle cx="146.8" cy="851.8" r="0.89" fill="rgb(134,134,134)" stroke="rgb(104,104,104)" stroke-width="0.7"/><circle cx="59.7" cy="788.4" r="0.99" fill="rgb(133,133,133)" stroke="rgb(103,103,103)" stroke-width="0.7"/><circle cx="115.9" cy="773.2" r="0.95" fill="rgb(150,150,150)" stroke="rgb(120,120,120)" stroke-width="0.7"/><circle cx="34.6" cy="834.7" r="0.90" fill="rgb(140,140,140)" stroke="rgb(110,110,110)" stroke-width="0.7"/><circle cx="144.3" cy="756.2" r="0.89" fill="rgb(144,144,144)" stroke="rgb(114,114,114)" stroke-width="0.7"/><circle cx="46.0" cy="804.7" r="0.87" fill="rgb(167,167,167)" stroke="rgb(137,137,137)" stroke-width="0.7"/><circle cx="126.8" cy="823.4" r="0.86" fill="rgb(151,151,151)" stroke="rgb(121,121,121)" stroke-width="0.7"/><circle cx="77.3" cy="838.3" r="0.96" fill="rgb(143,143,143)" stroke="rgb(113,113,113)" stroke-width="0.7"/><circle cx="102.8" cy="801.8" r="0.96" fill="rgb(134,134,134)" stroke="rgb(104,104,104)" stroke-width="0.7"/><circle cx="133.2" cy="778.4" r="0.93" fill="rgb(158,158,158)" stroke="rgb(128,128,128)" stroke-width="0.7"/><circle cx="156.6" cy="807.2" r="0.98" fill="rgb(160,160,160)" stroke="rgb(130,130,130)" stroke-width="0.7"/><circle cx="93.5" cy="774.7" r="1.09" fill="rgb(158,158,158)" stroke="rgb(128,128,128)" stroke-width="0.7"/><circle cx="55.2" cy="852.5" r="1.03" fill="rgb(164,164,164)" stroke="rgb(134,134,134)" stroke-width="0.7"/><circle cx="106.2" cy="791.9" r="0.90" fill="rgb(144,144,144)" stroke="rgb(114,114,114)" stroke-width="0.7"/><circle cx="32.8" cy="824.1" r="0.90" fill="rgb(151,151,151)" stroke="rgb(121,121,121)" stroke-width="0.7"/><circle cx="77.2" cy="780.0" r="0.94" fill="rgb(142,142,142)" stroke="rgb(112,112,112)" stroke-width="0.7"/><circle cx="80.9" cy="829.5" r="1.12" fill="rgb(160,160,160)" stroke="rgb(130,130,130)" stroke-width="0.7"/><circle cx="164.8" cy="809.9" r="0.97" fill="rgb(150,150,150)" stroke="rgb(120,120,120)" stroke-width="0.7"/><circle cx="58.9" cy="802.6" r="1.01" fill="rgb(160,160,160)" stroke="rgb(130,130,130)" stroke-width="0.7"/><circle cx="108.5" cy="838.8" r="1.00" fill="rgb(150,150,150)" stroke="rgb(120,120,120)" stroke-width="0.7"/><circle cx="67.8" cy="828.3" r="0.94" fill="rgb(163,163,163)" stroke="rgb(133,133,133)" stroke-width="0.7"/><circle cx="150.9" cy="832.0" r="1.14" fill="rgb(130,130,130)" stroke="rgb(100,100,100)" stroke-width="0.7"/><circle cx="170.3" cy="787.9" r="1.03" fill="rgb(143,143,143)" stroke="rgb(113,113,113)" stroke-width="0.7"/><circle cx="119.8" cy="812.9" r="1.12" fill="rgb(162,162,162)" stroke="rgb(132,132,132)" stroke-width="0.7"/><circle cx="82.6" cy="819.1" r="1.14" fill="rgb(167,167,167)" stroke="rgb(137,137,137)" stroke-width="0.7"/><circle cx="113.7" cy="759.3" r="0.96" fill="rgb(144,144,144)" stroke="rgb(114,114,114)" stroke-width="0.7"/><circle cx="126.8" cy="763.7" r="1.03" fill="rgb(130,130,130)" stroke="rgb(100,100,100)" stroke-width="0.7"/><circle cx="120.5" cy="827.9" r="1.13" fill="rgb(143,143,143)" stroke="rgb(113,113,113)" stroke-width="0.7"/><circle cx="64.2" cy="759.7" r="1.15" fill="rgb(144,144,144)" stroke="rgb(114,114,114)" stroke-width="0.7"/><circle cx="135.1" cy="793.9" r="1.11" fill="rgb(157,157,157)" stroke="rgb(127,127,127)" stroke-width="0.7"/><circle cx="33.3" cy="799.6" r="0.86" fill="rgb(158,158,158)" stroke="rgb(128,128,128)" stroke-width="0.7"/><circle cx="162.9" cy="848.8" r="1.09" fill="rgb(144,144,144)" stroke="rgb(114,114,114)" stroke-width="0.7"/><circle cx="34.6" cy="753.2" r="0.91" fill="rgb(165,165,165)" stroke="rgb(135,135,135)" stroke-width="0.7"/><circle cx="43.0" cy="762.3" r="0.88" fill="rgb(159,159,159)" stroke="rgb(129,129,129)" stroke-width="0.7"/><circle cx="39.7" cy="780.8" r="1.07" fill="rgb(131,131,131)" stroke="rgb(101,101,101)" stroke-width="0.7"/><circle cx="48.8" cy="810.6" r="1.05" fill="rgb(132,132,132)" stroke="rgb(102,102,102)" stroke-width="0.7"/><circle cx="51.4" cy="818.8" r="1.09" fill="rgb(159,159,159)" stroke="rgb(129,129,129)" stroke-width="0.7"/><circle cx="131.6" cy="787.6" r="1.05" fill="rgb(153,153,153)" stroke="rgb(123,123,123)" stroke-width="0.7"/><circle cx="121.1" cy="776.8" r="1.00" fill="rgb(136,136,136)" stroke="rgb(106,106,106)" stroke-width="0.7"/><circle cx="96.7" cy="806.8" r="1.14" fill="rgb(161,161,161)" stroke="rgb(131,131,131)" stroke-width="0.7"/><circle cx="111.4" cy="840.9" r="1.14" fill="rgb(159,159,159)" stroke="rgb(129,129,129)" stroke-width="0.7"/><circle cx="138.3" cy="758.8" r="1.05" fill="rgb(137,137,137)" stroke="rgb(107,107,107)" stroke-width="0.7"/><circle cx="90.6" cy="775.5" r="1.00" fill="rgb(166,166,166)" stroke="rgb(136,136,136)" stroke-width="0.7"/><circle cx="55.2" cy="762.7" r="1.01" fill="rgb(143,143,143)" stroke="rgb(113,113,113)" stroke-width="0.7"/><circle cx="176.6" cy="788.4" r="1.03" fill="rgb(130,130,130)" stroke="rgb(100,100,100)" stroke-width="0.7"/><circle cx="129.0" cy="755.3" r="0.90" fill="rgb(146,146,146)" stroke="rgb(116,116,116)" stroke-width="0.7"/><circle cx="117.7" cy="798.6" r="1.08" fill="rgb(137,137,137)" stroke="rgb(107,107,107)" stroke-width="0.7"/><circle cx="32.3" cy="785.6" r="1.12" fill="rgb(144,144,144)" stroke="rgb(114,114,114)" stroke-width="0.7"/><circle cx="54.0" cy="788.6" r="0.96" fill="rgb(146,146,146)" stroke="rgb(116,116,116)" stroke-width="0.7"/><circle cx="80.8" cy="756.5" r="1.08" fill="rgb(145,145,145)" stroke="rgb(115,115,115)" stroke-width="0.7"/><circle cx="143.1" cy="745.7" r="0.96" fill="rgb(156,156,156)" stroke="rgb(126,126,126)" stroke-width="0.7"/><circle cx="33.3" cy="776.0" r="1.12" fill="rgb(136,136,136)" stroke="rgb(106,106,106)" stroke-width="0.7"/><circle cx="90.9" cy="809.7" r="1.01" fill="rgb(168,168,168)" stroke="rgb(138,138,138)" stroke-width="0.7"/><circle cx="48.7" cy="827.6" r="1.14" fill="rgb(149,149,149)" stroke="rgb(119,119,119)" stroke-width="0.7"/><circle cx="44.9" cy="790.0" r="0.89" fill="rgb(164,164,164)" stroke="rgb(134,134,134)" stroke-width="0.7"/><circle cx="159.5" cy="774.2" r="1.04" fill="rgb(139,139,139)" stroke="rgb(109,109,109)" stroke-width="0.7"/><circle cx="128.3" cy="764.3" r="0.85" fill="rgb(131,131,131)" stroke="rgb(101,101,101)" stroke-width="0.7"/><circle cx="80.8" cy="799.5" r="1.13" fill="rgb(137,137,137)" stroke="rgb(107,107,107)" stroke-width="0.7"/><circle cx="128.2" cy="803.4" r="0.92" fill="rgb(158,158,158)" stroke="rgb(128,128,128)" stroke-width="0.7"/><circle cx="64.5" cy="772.9" r="1.08" fill="rgb(133,133,133)" stroke="rgb(103,103,103)" stroke-width="0.7"/><circle cx="167.7" cy="749.8" r="0.92" fill="rgb(160,160,160)" stroke="rgb(130,130,130)" stroke-width="0.7"/><circle cx="39.8" cy="754.5" r="1.14" fill="rgb(134,134,134)" stroke="rgb(104,104,104)" stroke-width="0.7"/><circle cx="164.5" cy="851.3" r="0.99" fill="rgb(165,165,165)" stroke="rgb(135,135,135)" stroke-width="0.7"/><circle cx="111.5" cy="843.0" r="1.07" fill="rgb(157,157,157)" stroke="rgb(127,127,127)" stroke-width="0.7"/><circle cx="128.4" cy="752.8" r="1.09" fill="rgb(139,139,139)" stroke="rgb(109,109,109)" stroke-width="0.7"/><circle cx="26.7" cy="780.3" r="0.87" fill="rgb(145,145,145)" stroke="rgb(115,115,115)" stroke-width="0.7"/><circle cx="85.3" cy="844.5" r="1.08" fill="rgb(136,136,136)" stroke="rgb(106,106,106)" stroke-width="0.7"/><circle cx="168.5" cy="806.2" r="1.02" fill="rgb(132,132,132)" stroke="rgb(102,102,102)" stroke-width="0.7"/><circle cx="64.6" cy="854.9" r="0.89" fill="rgb(155,155,155)" stroke="rgb(125,125,125)" stroke-width="0.7"/><circle cx="157.5" cy="795.1" r="0.88" fill="rgb(145,145,145)" stroke="rgb(115,115,115)" stroke-width="0.7"/><circle cx="151.0" cy="791.3" r="1.10" fill="rgb(136,136,136)" stroke="rgb(106,106,106)" stroke-width="0.7"/><circle cx="85.5" cy="781.9" r="0.89" fill="rgb(139,139,139)" stroke="rgb(109,109,109)" stroke-width="0.7"/><circle cx="72.7" cy="750.7" r="0.87" fill="rgb(152,152,152)" stroke="rgb(122,122,122)" stroke-width="0.7"/><circle cx="53.8" cy="767.1" r="1.12" fill="rgb(139,139,139)" stroke="rgb(109,109,109)" stroke-width="0.7"/><circle cx="158.8" cy="838.8" r="1.13" fill="rgb(149,149,149)" stroke="rgb(119,119,119)" stroke-width="0.7"/><circle cx="27.8" cy="844.3" r="1.09" fill="rgb(162,162,162)" stroke="rgb(132,132,132)" stroke-width="0.7"/><circle cx="51.1" cy="788.6" r="1.03" fill="rgb(160,160,160)" stroke="rgb(130,130,130)" stroke-width="0.7"/><circle cx="159.2" cy="745.7" r="0.90" fill="rgb(153,153,153)" stroke="rgb(123,123,123)" stroke-width="0.7"/><circle cx="101.1" cy="854.8" r="0.94" fill="rgb(131,131,131)" stroke="rgb(101,101,101)" stroke-width="0.7"/><circle cx="168.3" cy="787.8" r="0.89" fill="rgb(164,164,164)" stroke="rgb(134,134,134)" stroke-width="0.7"/><circle cx="86.8" cy="827.6" r="0.92" fill="rgb(136,136,136)" stroke="rgb(106,106,106)" stroke-width="0.7"/><circle cx="142.0" cy="808.2" r="0.88" fill="rgb(142,142,142)" stroke="rgb(112,112,112)" stroke-width="0.7"/><circle cx="156.9" cy="794.1" r="1.07" fill="rgb(159,159,159)" stroke="rgb(129,129,129)" stroke-width="0.7"/><circle cx="140.5" cy="833.9" r="0.88" fill="rgb(169,169,169)" stroke="rgb(139,139,139)" stroke-width="0.7"/><circle cx="163.4" cy="829.3" r="0.96" fill="rgb(146,146,146)" stroke="rgb(116,116,116)" stroke-width="0.7"/><circle cx="57.4" cy="842.0" r="0.88" fill="rgb(138,138,138)" stroke="rgb(108,108,108)" stroke-width="0.7"/><circle cx="161.0" cy="782.9" r="1.11" fill="rgb(163,163,163)" stroke="rgb(133,133,133)" stroke-width="0.7"/><circle cx="56.7" cy="758.2" r="1.14" fill="rgb(161,161,161)" stroke="rgb(131,131,131)" stroke-width="0.7"/><circle cx="126.7" cy="820.8" r="0.90" fill="rgb(153,153,153)" stroke="rgb(123,123,123)" stroke-width="0.7"/><circle cx="133.0" cy="811.3" r="1.09" fill="rgb(148,148,148)" stroke="rgb(118,118,118)" stroke-width="0.7"/><circle cx="38.7" cy="792.1" r="1.08" fill="rgb(166,166,166)" stroke="rgb(136,136,136)" stroke-width="0.7"/><circle cx="86.1" cy="826.5" r="1.05" fill="rgb(142,142,142)" stroke="rgb(112,112,112)" stroke-width="0.7"/><circle cx="81.4" cy="851.4" r="0.97" fill="rgb(152,152,152)" stroke="rgb(122,122,122)" stroke-width="0.7"/><circle cx="143.6" cy="844.8" r="1.02" fill="rgb(141,141,141)" stroke="rgb(111,111,111)" stroke-width="0.7"/><circle cx="91.4" cy="818.6" r="1.00" fill="rgb(133,133,133)" stroke="rgb(103,103,103)" stroke-width="0.7"/><circle cx="105.5" cy="782.4" r="1.09" fill="rgb(150,150,150)" stroke="rgb(120,120,120)" stroke-width="0.7"/><circle cx="147.6" cy="830.6" r="1.03" fill="rgb(165,165,165)" stroke="rgb(135,135,135)" stroke-width="0.7"/><circle cx="40.5" cy="799.8" r="1.11" fill="rgb(147,147,147)" stroke="rgb(117,117,117)" stroke-width="0.7"/><circle cx="82.4" cy="771.0" r="1.00" fill="rgb(141,141,141)" stroke="rgb(111,111,111)" stroke-width="0.7"/><circle cx="101.9" cy="760.4" r="0.90" fill="rgb(167,167,167)" stroke="rgb(137,137,137)" stroke-width="0.7"/><circle cx="71.6" cy="792.2" r="0.94" fill="rgb(142,142,142)" stroke="rgb(112,112,112)" stroke-width="0.7"/><circle cx="139.5" cy="758.1" r="1.00" fill="rgb(136,136,136)" stroke="rgb(106,106,106)" stroke-width="0.7"/><circle cx="27.4" cy="820.8" r="1.02" fill="rgb(130,130,130)" stroke="rgb(100,100,100)" stroke-width="0.7"/><circle cx="108.0" cy="785.6" r="1.03" fill="rgb(143,143,143)" stroke="rgb(113,113,113)" stroke-width="0.7"/><circle cx="176.8" cy="776.0" r="0.85" fill="rgb(136,136,136)" stroke="rgb(106,106,106)" stroke-width="0.7"/><circle cx="110.1" cy="745.7" r="0.98" fill="rgb(152,152,152)" stroke="rgb(122,122,122)" stroke-width="0.7"/><circle cx="147.8" cy="821.1" r="1.06" fill="rgb(158,158,158)" stroke="rgb(128,128,128)" stroke-width="0.7"/><circle cx="56.8" cy="798.4" r="1.01" fill="rgb(143,143,143)" stroke="rgb(113,113,113)" stroke-width="0.7"/><circle cx="88.4" cy="770.0" r="0.93" fill="rgb(159,159,159)" stroke="rgb(129,129,129)" stroke-width="0.7"/><circle cx="178.5" cy="803.5" r="0.91" fill="rgb(154,154,154)" stroke="rgb(124,124,124)" stroke-width="0.7"/><circle cx="114.0" cy="851.3" r="1.13" fill="rgb(143,143,143)" stroke="rgb(113,113,113)" stroke-width="0.7"/><circle cx="54.8" cy="788.1" r="0.87" fill="rgb(133,133,133)" stroke="rgb(103,103,103)" stroke-width="0.7"/><circle cx="47.7" cy="826.0" r="0.90" fill="rgb(155,155,155)" stroke="rgb(125,125,125)" stroke-width="0.7"/><circle cx="46.6" cy="785.8" r="1.07" fill="rgb(169,169,169)" stroke="rgb(139,139,139)" stroke-width="0.7"/><circle cx="97.7" cy="851.8" r="1.03" fill="rgb(157,157,157)" stroke="rgb(127,127,127)" stroke-width="0.7"/><circle cx="80.2" cy="769.0" r="1.10" fill="rgb(166,166,166)" stroke="rgb(136,136,136)" stroke-width="0.7"/><circle cx="168.2" cy="836.7" r="0.87" fill="rgb(169,169,169)" stroke="rgb(139,139,139)" stroke-width="0.7"/><circle cx="70.9" cy="800.2" r="1.02" fill="rgb(148,148,148)" stroke="rgb(118,118,118)" stroke-width="0.7"/><circle cx="77.7" cy="750.1" r="0.94" fill="rgb(154,154,154)" stroke="rgb(124,124,124)" stroke-width="0.7"/><circle cx="29.2" cy="809.7" r="1.14" fill="rgb(169,169,169)" stroke="rgb(139,139,139)" stroke-width="0.7"/><circle cx="103.6" cy="757.7" r="0.87" fill="rgb(130,130,130)" stroke="rgb(100,100,100)" stroke-width="0.7"/><circle cx="120.3" cy="812.6" r="1.13" fill="rgb(139,139,139)" stroke="rgb(109,109,109)" stroke-width="0.7"/><circle cx="105.0" cy="806.1" r="0.96" fill="rgb(139,139,139)" stroke="rgb(109,109,109)" stroke-width="0.7"/><circle cx="78.3" cy="833.7" r="1.01" fill="rgb(141,141,141)" stroke="rgb(111,111,111)" stroke-width="0.7"/><circle cx="163.3" cy="816.1" r="1.06" fill="rgb(132,132,132)" stroke="rgb(102,102,102)" stroke-width="0.7"/><circle cx="66.6" cy="776.7" r="1.14" fill="rgb(154,154,154)" stroke="rgb(124,124,124)" stroke-width="0.7"/><circle cx="117.9" cy="758.0" r="0.94" fill="rgb(157,157,157)" stroke="rgb(127,127,127)" stroke-width="0.7"/><circle cx="114.5" cy="839.6" r="0.95" fill="rgb(168,168,168)" stroke="rgb(138,138,138)" stroke-width="0.7"/><circle cx="132.2" cy="804.9" r="1.10" fill="rgb(157,157,157)" stroke="rgb(127,127,127)" stroke-width="0.7"/><circle cx="142.6" cy="801.7" r="0.98" fill="rgb(163,163,163)" stroke="rgb(133,133,133)" stroke-width="0.7"/><circle cx="119.8" cy="834.0" r="1.05" fill="rgb(142,142,142)" stroke="rgb(112,112,112)" stroke-width="0.7"/><circle cx="177.9" cy="773.6" r="1.13" fill="rgb(162,162,162)" stroke="rgb(132,132,132)" stroke-width="0.7"/><circle cx="121.8" cy="750.6" r="1.02" fill="rgb(153,153,153)" stroke="rgb(123,123,123)" stroke-width="0.7"/><circle cx="26.8" cy="836.4" r="1.00" fill="rgb(166,166,166)" stroke="rgb(136,136,136)" stroke-width="0.7"/><circle cx="82.7" cy="752.9" r="1.08" fill="rgb(156,156,156)" stroke="rgb(126,126,126)" stroke-width="0.7"/><circle cx="51.7" cy="848.9" r="1.04" fill="rgb(136,136,136)" stroke="rgb(106,106,106)" stroke-width="0.7"/><circle cx="169.5" cy="752.0" r="0.93" fill="rgb(131,131,131)" stroke="rgb(101,101,101)" stroke-width="0.7"/><circle cx="112.9" cy="794.6" r="1.00" fill="rgb(134,134,134)" stroke="rgb(104,104,104)" stroke-width="0.7"/><circle cx="40.3" cy="808.4" r="1.10" fill="rgb(134,134,134)" stroke="rgb(104,104,104)" stroke-width="0.7"/><circle cx="82.9" cy="750.7" r="1.04" fill="rgb(141,141,141)" stroke="rgb(111,111,111)" stroke-width="0.7"/><circle cx="132.6" cy="778.3" r="0.87" fill="rgb(135,135,135)" stroke="rgb(105,105,105)" stroke-width="0.7"/><circle cx="172.1" cy="816.4" r="1.14" fill="rgb(150,150,150)" stroke="rgb(120,120,120)" stroke-width="0.7"/><circle cx="43.7" cy="752.9" r="0.91" fill="rgb(165,165,165)" stroke="rgb(135,135,135)" stroke-width="0.7"/><circle cx="105.4" cy="838.0" r="1.10" fill="rgb(167,167,167)" stroke="rgb(137,137,137)" stroke-width="0.7"/><circle cx="82.7" cy="786.2" r="1.01" fill="rgb(156,156,156)" stroke="rgb(126,126,126)" stroke-width="0.7"/><circle cx="70.0" cy="801.4" r="1.11" fill="rgb(135,135,135)" stroke="rgb(105,105,105)" stroke-width="0.7"/><circle cx="163.0" cy="798.9" r="0.93" fill="rgb(160,160,160)" stroke="rgb(130,130,130)" stroke-width="0.7"/><circle cx="28.3" cy="829.7" r="0.92" fill="rgb(158,158,158)" stroke="rgb(128,128,128)" stroke-width="0.7"/><circle cx="117.0" cy="815.8" r="0.92" fill="rgb(131,131,131)" stroke="rgb(101,101,101)" stroke-width="0.7"/><circle cx="29.4" cy="782.8" r="0.98" fill="rgb(168,168,168)" stroke="rgb(138,138,138)" stroke-width="0.7"/><circle cx="137.2" cy="746.1" r="1.05" fill="rgb(152,152,152)" stroke="rgb(122,122,122)" stroke-width="0.7"/><circle cx="152.8" cy="761.1" r="1.10" fill="rgb(149,149,149)" stroke="rgb(119,119,119)" stroke-width="0.7"/><circle cx="125.1" cy="850.2" r="0.95" fill="rgb(159,159,159)" stroke="rgb(129,129,129)" stroke-width="0.7"/><circle cx="43.8" cy="814.2" r="1.01" fill="rgb(160,160,160)" stroke="rgb(130,130,130)" stroke-width="0.7"/><circle cx="177.8" cy="822.0" r="0.99" fill="rgb(136,136,136)" stroke="rgb(106,106,106)" stroke-width="0.7"/><circle cx="74.4" cy="781.0" r="1.03" fill="rgb(136,136,136)" stroke="rgb(106,106,106)" stroke-width="0.7"/><circle cx="143.0" cy="770.2" r="0.99" fill="rgb(137,137,137)" stroke="rgb(107,107,107)" stroke-width="0.7"/><circle cx="149.7" cy="751.5" r="1.15" fill="rgb(130,130,130)" stroke="rgb(100,100,100)" stroke-width="0.7"/><circle cx="35.1" cy="794.3" r="0.95" fill="rgb(150,150,150)" stroke="rgb(120,120,120)" stroke-width="0.7"/><circle cx="44.2" cy="801.7" r="0.88" fill="rgb(168,168,168)" stroke="rgb(138,138,138)" stroke-width="0.7"/><circle cx="55.6" cy="774.0" r="0.88" fill="rgb(165,165,165)" stroke="rgb(135,135,135)" stroke-width="0.7"/><circle cx="138.8" cy="830.4" r="1.05" fill="rgb(168,168,168)" stroke="rgb(138,138,138)" stroke-width="0.7"/><circle cx="145.0" cy="757.5" r="0.93" fill="rgb(157,157,157)" stroke="rgb(127,127,127)" stroke-width="0.7"/><circle cx="43.1" cy="751.7" r="0.91" fill="rgb(139,139,139)" stroke="rgb(109,109,109)" stroke-width="0.7"/><circle cx="148.8" cy="801.4" r="0.93" fill="rgb(165,165,165)" stroke="rgb(135,135,135)" stroke-width="0.7"/><circle cx="142.9" cy="792.5" r="0.98" fill="rgb(155,155,155)" stroke="rgb(125,125,125)" stroke-width="0.7"/><circle cx="112.3" cy="837.2" r="0.97" fill="rgb(133,133,133)" stroke="rgb(103,103,103)" stroke-width="0.7"/><circle cx="143.7" cy="781.8" r="0.98" fill="rgb(148,148,148)" stroke="rgb(118,118,118)" stroke-width="0.7"/><circle cx="56.0" cy="800.8" r="1.14" fill="rgb(131,131,131)" stroke="rgb(101,101,101)" stroke-width="0.7"/><circle cx="59.8" cy="838.7" r="0.93" fill="rgb(167,167,167)" stroke="rgb(137,137,137)" stroke-width="0.7"/><circle cx="33.6" cy="782.4" r="0.88" fill="rgb(155,155,155)" stroke="rgb(125,125,125)" stroke-width="0.7"/><circle cx="138.4" cy="808.3" r="1.12" fill="rgb(148,148,148)" stroke="rgb(118,118,118)" stroke-width="0.7"/><circle cx="118.5" cy="818.4" r="0.92" fill="rgb(133,133,133)" stroke="rgb(103,103,103)" stroke-width="0.7"/><circle cx="97.0" cy="843.2" r="1.10" fill="rgb(132,132,132)" stroke="rgb(102,102,102)" stroke-width="0.7"/><circle cx="116.8" cy="747.6" r="1.13" fill="rgb(141,141,141)" stroke="rgb(111,111,111)" stroke-width="0.7"/><circle cx="141.5" cy="817.9" r="0.99" fill="rgb(163,163,163)" stroke="rgb(133,133,133)" stroke-width="0.7"/><circle cx="50.1" cy="795.9" r="1.08" fill="rgb(150,150,150)" stroke="rgb(120,120,120)" stroke-width="0.7"/><circle cx="64.4" cy="853.7" r="0.98" fill="rgb(169,169,169)" stroke="rgb(139,139,139)" stroke-width="0.7"/><circle cx="161.5" cy="852.0" r="0.95" fill="rgb(142,142,142)" stroke="rgb(112,112,112)" stroke-width="0.7"/><circle cx="172.4" cy="789.8" r="0.85" fill="rgb(168,168,168)" stroke="rgb(138,138,138)" stroke-width="0.7"/><circle cx="47.6" cy="767.1" r="1.02" fill="rgb(131,131,131)" stroke="rgb(101,101,101)" stroke-width="0.7"/><circle cx="124.6" cy="809.4" r="1.02" fill="rgb(162,162,162)" stroke="rgb(132,132,132)" stroke-width="0.7"/><circle cx="69.3" cy="814.9" r="0.97" fill="rgb(132,132,132)" stroke="rgb(102,102,102)" stroke-width="0.7"/><circle cx="165.1" cy="796.2" r="0.99" fill="rgb(143,143,143)" stroke="rgb(113,113,113)" stroke-width="0.7"/><circle cx="100.8" cy="766.2" r="1.04" fill="rgb(143,143,143)" stroke="rgb(113,113,113)" stroke-width="0.7"/><circle cx="111.5" cy="798.7" r="1.14" fill="rgb(161,161,161)" stroke="rgb(131,131,131)" stroke-width="0.7"/><circle cx="170.7" cy="757.0" r="1.13" fill="rgb(153,153,153)" stroke="rgb(123,123,123)" stroke-width="0.7"/><circle cx="101.7" cy="791.0" r="1.10" fill="rgb(146,146,146)" stroke="rgb(116,116,116)" stroke-width="0.7"/><circle cx="68.9" cy="837.1" r="1.12" fill="rgb(145,145,145)" stroke="rgb(115,115,115)" stroke-width="0.7"/><circle cx="34.9" cy="778.9" r="0.96" fill="rgb(135,135,135)" stroke="rgb(105,105,105)" stroke-width="0.7"/><circle cx="139.7" cy="799.4" r="0.95" fill="rgb(160,160,160)" stroke="rgb(130,130,130)" stroke-width="0.7"/><circle cx="131.7" cy="839.5" r="0.99" fill="rgb(138,138,138)" stroke="rgb(108,108,108)" stroke-width="0.7"/><circle cx="41.8" cy="849.0" r="0.96" fill="rgb(153,153,153)" stroke="rgb(123,123,123)" stroke-width="0.7"/><circle cx="34.4" cy="773.8" r="0.99" fill="rgb(160,160,160)" stroke="rgb(130,130,130)" stroke-width="0.7"/><circle cx="132.1" cy="763.1" r="0.96" fill="rgb(148,148,148)" stroke="rgb(118,118,118)" stroke-width="0.7"/><circle cx="49.9" cy="766.5" r="1.10" fill="rgb(157,157,157)" stroke="rgb(127,127,127)" stroke-width="0.7"/><circle cx="147.1" cy="792.8" r="1.00" fill="rgb(149,149,149)" stroke="rgb(119,119,119)" stroke-width="0.7"/><circle cx="86.5" cy="806.4" r="0.95" fill="rgb(148,148,148)" stroke="rgb(118,118,118)" stroke-width="0.7"/><circle cx="129.0" cy="791.0" r="1.00" fill="rgb(135,135,135)" stroke="rgb(105,105,105)" stroke-width="0.7"/><circle cx="152.8" cy="788.9" r="1.11" fill="rgb(168,168,168)" stroke="rgb(138,138,138)" stroke-width="0.7"/><circle cx="146.7" cy="782.8" r="0.92" fill="rgb(165,165,165)" stroke="rgb(135,135,135)" stroke-width="0.7"/><circle cx="43.8" cy="769.1" r="0.95" fill="rgb(136,136,136)" stroke="rgb(106,106,106)" stroke-width="0.7"/><circle cx="28.5" cy="760.7" r="1.10" fill="rgb(164,164,164)" stroke="rgb(134,134,134)" stroke-width="0.7"/><circle cx="63.1" cy="840.5" r="1.10" fill="rgb(163,163,163)" stroke="rgb(133,133,133)" stroke-width="0.7"/><circle cx="156.8" cy="748.0" r="0.95" fill="rgb(145,145,145)" stroke="rgb(115,115,115)" stroke-width="0.7"/><circle cx="50.9" cy="843.4" r="0.88" fill="rgb(165,165,165)" stroke="rgb(135,135,135)" stroke-width="0.7"/><circle cx="177.0" cy="792.9" r="1.01" fill="rgb(138,138,138)" stroke="rgb(108,108,108)" stroke-width="0.7"/><circle cx="86.8" cy="769.4" r="1.01" fill="rgb(142,142,142)" stroke="rgb(112,112,112)" stroke-width="0.7"/><circle cx="122.9" cy="800.9" r="1.14" fill="rgb(150,150,150)" stroke="rgb(120,120,120)" stroke-width="0.7"/><circle cx="40.5" cy="814.4" r="0.97" fill="rgb(167,167,167)" stroke="rgb(137,137,137)" stroke-width="0.7"/><circle cx="123.9" cy="748.6" r="1.12" fill="rgb(152,152,152)" stroke="rgb(122,122,122)" stroke-width="0.7"/><circle cx="41.7" cy="780.2" r="0.99" fill="rgb(154,154,154)" stroke="rgb(124,124,124)" stroke-width="0.7"/><circle cx="87.1" cy="843.4" r="1.10" fill="rgb(163,163,163)" stroke="rgb(133,133,133)" stroke-width="0.7"/><circle cx="125.2" cy="826.8" r="0.97" fill="rgb(156,156,156)" stroke="rgb(126,126,126)" stroke-width="0.7"/><circle cx="33.8" cy="753.5" r="1.10" fill="rgb(135,135,135)" stroke="rgb(105,105,105)" stroke-width="0.7"/><circle cx="42.2" cy="840.2" r="1.08" fill="rgb(166,166,166)" stroke="rgb(136,136,136)" stroke-width="0.7"/><circle cx="80.8" cy="760.4" r="0.86" fill="rgb(165,165,165)" stroke="rgb(135,135,135)" stroke-width="0.7"/><circle cx="101.2" cy="814.8" r="0.93" fill="rgb(140,140,140)" stroke="rgb(110,110,110)" stroke-width="0.7"/><circle cx="93.6" cy="790.6" r="0.89" fill="rgb(168,168,168)" stroke="rgb(138,138,138)" stroke-width="0.7"/><circle cx="153.0" cy="837.4" r="0.97" fill="rgb(132,132,132)" stroke="rgb(102,102,102)" stroke-width="0.7"/><circle cx="152.6" cy="815.2" r="1.05" fill="rgb(154,154,154)" stroke="rgb(124,124,124)" stroke-width="0.7"/><circle cx="164.8" cy="749.9" r="1.13" fill="rgb(133,133,133)" stroke="rgb(103,103,103)" stroke-width="0.7"/><circle cx="161.1" cy="774.6" r="1.14" fill="rgb(167,167,167)" stroke="rgb(137,137,137)" stroke-width="0.7"/><circle cx="132.6" cy="847.8" r="1.00" fill="rgb(143,143,143)" stroke="rgb(113,113,113)" stroke-width="0.7"/><circle cx="90.3" cy="752.9" r="0.95" fill="rgb(154,154,154)" stroke="rgb(124,124,124)" stroke-width="0.7"/><circle cx="97.4" cy="783.4" r="0.94" fill="rgb(134,134,134)" stroke="rgb(104,104,104)" stroke-width="0.7"/><circle cx="140.7" cy="814.5" r="0.86" fill="rgb(133,133,133)" stroke="rgb(103,103,103)" stroke-width="0.7"/><circle cx="130.6" cy="748.9" r="1.01" fill="rgb(130,130,130)" stroke="rgb(100,100,100)" stroke-width="0.7"/><circle cx="175.6" cy="802.2" r="0.87" fill="rgb(152,152,152)" stroke="rgb(122,122,122)" stroke-width="0.7"/><circle cx="36.9" cy="818.7" r="0.87" fill="rgb(160,160,160)" stroke="rgb(130,130,130)" stroke-width="0.7"/><circle cx="36.1" cy="823.4" r="0.89" fill="rgb(150,150,150)" stroke="rgb(120,120,120)" stroke-width="0.7"/><circle cx="113.4" cy="768.4" r="0.93" fill="rgb(162,162,162)" stroke="rgb(132,132,132)" stroke-width="0.7"/><circle cx="39.1" cy="817.3" r="0.86" fill="rgb(138,138,138)" stroke="rgb(108,108,108)" stroke-width="0.7"/><circle cx="54.7" cy="853.2" r="0.87" fill="rgb(131,131,131)" stroke="rgb(101,101,101)" stroke-width="0.7"/><circle cx="134.9" cy="780.2" r="1.13" fill="rgb(148,148,148)" stroke="rgb(118,118,118)" stroke-width="0.7"/><circle cx="30.9" cy="814.1" r="1.00" fill="rgb(155,155,155)" stroke="rgb(125,125,125)" stroke-width="0.7"/><circle cx="124.8" cy="848.1" r="0.87" fill="rgb(155,155,155)" stroke="rgb(125,125,125)" stroke-width="0.7"/><circle cx="107.5" cy="801.7" r="0.93" fill="rgb(130,130,130)" stroke="rgb(100,100,100)" stroke-width="0.7"/><circle cx="144.2" cy="821.8" r="0.88" fill="rgb(165,165,165)" stroke="rgb(135,135,135)" stroke-width="0.7"/><circle cx="159.5" cy="766.1" r="0.99" fill="rgb(137,137,137)" stroke="rgb(107,107,107)" stroke-width="0.7"/><circle cx="38.2" cy="849.2" r="1.07" fill="rgb(162,162,162)" stroke="rgb(132,132,132)" stroke-width="0.7"/></g>
<g filter="url(#bl)"><polygon points="121.3,801.4 119.0,798.6 125.7,795.5" fill="rgb(124,124,124)"/><polygon points="121.3,801.4 119.0,798.6 111.5,807.1" fill="rgb(124,124,124)"/><ellipse cx="120.1" cy="800.0" rx="3.9" ry="2.4" transform="rotate(321 120.1 800.0)" fill="rgb(94,94,94)"/><polygon points="107.0,791.9 105.9,795.3 96.0,790.3" fill="rgb(117,117,117)"/><polygon points="107.0,791.9 105.9,795.3 112.6,795.6" fill="rgb(117,117,117)"/><ellipse cx="106.4" cy="793.6" rx="3.1" ry="2.4" transform="rotate(198 106.4 793.6)" fill="rgb(87,87,87)"/><polygon points="122.8,779.2 123.2,776.1 133.2,778.8" fill="rgb(115,115,115)"/><ellipse cx="123.0" cy="777.7" rx="3.0" ry="2.1" transform="rotate(7 123.0 777.7)" fill="rgb(85,85,85)"/><polygon points="103.2,750.4 99.7,749.8 103.0,740.4" fill="rgb(136,136,136)"/><polygon points="103.2,750.4 99.7,749.8 100.0,759.0" fill="rgb(136,136,136)"/><ellipse cx="101.4" cy="750.1" rx="3.9" ry="2.4" transform="rotate(279 101.4 750.1)" fill="rgb(106,106,106)"/><ellipse cx="138.5" cy="791.5" rx="3.6" ry="1.7" transform="rotate(326 138.5 791.5)" fill="rgb(94,94,94)"/><ellipse cx="168.2" cy="805.8" rx="2.5" ry="2.1" transform="rotate(353 168.2 805.8)" fill="rgb(91,91,91)"/><ellipse cx="42.9" cy="750.5" rx="4.3" ry="2.6" transform="rotate(64 42.9 750.5)" fill="rgb(96,96,96)"/><polygon points="69.6,766.9 67.9,769.0 63.5,763.5" fill="rgb(121,121,121)"/><polygon points="69.6,766.9 67.9,769.0 77.0,774.8" fill="rgb(121,121,121)"/><ellipse cx="68.7" cy="767.9" rx="2.4" ry="1.8" transform="rotate(220 68.7 767.9)" fill="rgb(91,91,91)"/><ellipse cx="140.6" cy="757.9" rx="4.0" ry="1.9" transform="rotate(191 140.6 757.9)" fill="rgb(79,79,79)"/><ellipse cx="62.3" cy="774.5" rx="3.8" ry="2.7" transform="rotate(117 62.3 774.5)" fill="rgb(70,70,70)"/><ellipse cx="116.2" cy="840.2" rx="3.6" ry="2.5" transform="rotate(49 116.2 840.2)" fill="rgb(109,109,109)"/><polygon points="162.3,785.2 158.9,784.1 164.0,773.8" fill="rgb(107,107,107)"/><polygon points="162.3,785.2 158.9,784.1 158.5,791.7" fill="rgb(107,107,107)"/><ellipse cx="160.6" cy="784.7" rx="4.0" ry="2.4" transform="rotate(287 160.6 784.7)" fill="rgb(77,77,77)"/><polygon points="131.3,837.3 129.3,839.9 124.9,834.5" fill="rgb(101,101,101)"/><ellipse cx="130.3" cy="838.6" rx="3.1" ry="2.1" transform="rotate(217 130.3 838.6)" fill="rgb(71,71,71)"/><ellipse cx="119.3" cy="819.1" rx="4.3" ry="2.7" transform="rotate(300 119.3 819.1)" fill="rgb(68,68,68)"/><ellipse cx="113.9" cy="856.0" rx="3.0" ry="2.2" transform="rotate(135 113.9 856.0)" fill="rgb(100,100,100)"/><polygon points="83.6,808.9 86.1,812.0 79.7,814.6" fill="rgb(102,102,102)"/><ellipse cx="84.8" cy="810.5" rx="3.7" ry="2.7" transform="rotate(141 84.8 810.5)" fill="rgb(72,72,72)"/><ellipse cx="115.9" cy="794.6" rx="4.1" ry="2.7" transform="rotate(355 115.9 794.6)" fill="rgb(74,74,74)"/><polygon points="101.5,745.8 98.3,745.0 101.4,739.7" fill="rgb(92,92,92)"/><polygon points="101.5,745.8 98.3,745.0 97.8,753.4" fill="rgb(92,92,92)"/><ellipse cx="99.9" cy="745.4" rx="3.0" ry="2.2" transform="rotate(285 99.9 745.4)" fill="rgb(62,62,62)"/><polygon points="140.5,784.6 143.3,784.0 144.4,795.6" fill="rgb(92,92,92)"/><ellipse cx="141.9" cy="784.3" rx="3.5" ry="1.9" transform="rotate(78 141.9 784.3)" fill="rgb(62,62,62)"/><ellipse cx="62.5" cy="848.0" rx="4.1" ry="2.5" transform="rotate(106 62.5 848.0)" fill="rgb(76,76,76)"/><polygon points="136.5,839.4 136.5,842.4 126.3,840.7" fill="rgb(117,117,117)"/><ellipse cx="136.5" cy="840.9" rx="2.6" ry="2.0" transform="rotate(181 136.5 840.9)" fill="rgb(87,87,87)"/><ellipse cx="158.2" cy="845.0" rx="3.1" ry="2.1" transform="rotate(60 158.2 845.0)" fill="rgb(94,94,94)"/><polygon points="100.5,821.9 98.4,819.6 105.8,814.9" fill="rgb(101,101,101)"/><ellipse cx="99.5" cy="820.8" rx="3.8" ry="2.1" transform="rotate(317 99.5 820.8)" fill="rgb(71,71,71)"/><ellipse cx="168.5" cy="775.5" rx="2.7" ry="2.0" transform="rotate(283 168.5 775.5)" fill="rgb(82,82,82)"/><polygon points="169.3,789.8 172.8,788.8 174.4,801.4" fill="rgb(108,108,108)"/><ellipse cx="171.1" cy="789.3" rx="4.2" ry="2.4" transform="rotate(75 171.1 789.3)" fill="rgb(78,78,78)"/><ellipse cx="120.9" cy="828.2" rx="3.2" ry="2.6" transform="rotate(30 120.9 828.2)" fill="rgb(87,87,87)"/><ellipse cx="142.1" cy="779.5" rx="3.5" ry="1.9" transform="rotate(136 142.1 779.5)" fill="rgb(71,71,71)"/><polygon points="51.8,849.6 49.6,851.1 44.7,841.8" fill="rgb(115,115,115)"/><polygon points="51.8,849.6 49.6,851.1 55.3,856.9" fill="rgb(115,115,115)"/><ellipse cx="50.7" cy="850.4" rx="3.2" ry="1.8" transform="rotate(235 50.7 850.4)" fill="rgb(85,85,85)"/><polygon points="75.3,850.8 73.1,848.7 81.8,841.8" fill="rgb(111,111,111)"/><ellipse cx="74.2" cy="849.7" rx="2.6" ry="2.0" transform="rotate(314 74.2 849.7)" fill="rgb(81,81,81)"/><polygon points="51.2,823.0 51.7,825.9 41.8,826.5" fill="rgb(101,101,101)"/><ellipse cx="51.4" cy="824.5" rx="3.2" ry="1.9" transform="rotate(168 51.4 824.5)" fill="rgb(71,71,71)"/><polygon points="89.3,846.5 92.6,848.2 88.0,853.2" fill="rgb(141,141,141)"/><ellipse cx="90.9" cy="847.3" rx="3.8" ry="2.4" transform="rotate(116 90.9 847.3)" fill="rgb(111,111,111)"/><polygon points="123.0,784.0 126.2,786.1 118.2,795.0" fill="rgb(96,96,96)"/><polygon points="123.0,784.0 126.2,786.1 131.3,774.8" fill="rgb(96,96,96)"/><ellipse cx="124.6" cy="785.1" rx="4.3" ry="2.5" transform="rotate(123 124.6 785.1)" fill="rgb(66,66,66)"/><ellipse cx="126.3" cy="748.2" rx="2.4" ry="2.0" transform="rotate(224 126.3 748.2)" fill="rgb(85,85,85)"/><polygon points="164.6,746.4 162.0,745.1 167.9,736.2" fill="rgb(133,133,133)"/><ellipse cx="163.3" cy="745.7" rx="4.1" ry="2.0" transform="rotate(296 163.3 745.7)" fill="rgb(103,103,103)"/><polygon points="146.5,839.2 149.4,837.1 154.1,846.6" fill="rgb(138,138,138)"/><ellipse cx="147.9" cy="838.2" rx="3.8" ry="2.4" transform="rotate(54 147.9 838.2)" fill="rgb(108,108,108)"/><ellipse cx="115.0" cy="819.2" rx="4.2" ry="2.6" transform="rotate(28 115.0 819.2)" fill="rgb(83,83,83)"/><ellipse cx="35.8" cy="846.9" rx="4.1" ry="2.0" transform="rotate(31 35.8 846.9)" fill="rgb(91,91,91)"/><polygon points="115.2,853.9 111.7,855.2 109.5,844.0" fill="rgb(100,100,100)"/><ellipse cx="113.4" cy="854.5" rx="3.3" ry="2.5" transform="rotate(250 113.4 854.5)" fill="rgb(70,70,70)"/><polygon points="24.6,849.6 27.1,846.9 33.8,855.3" fill="rgb(95,95,95)"/><ellipse cx="25.8" cy="848.3" rx="3.1" ry="2.5" transform="rotate(41 25.8 848.3)" fill="rgb(65,65,65)"/><ellipse cx="166.4" cy="834.4" rx="2.9" ry="2.6" transform="rotate(187 166.4 834.4)" fill="rgb(75,75,75)"/><polygon points="115.0,802.4 115.9,805.2 108.4,806.0" fill="rgb(130,130,130)"/><polygon points="115.0,802.4 115.9,805.2 125.8,800.6" fill="rgb(130,130,130)"/><ellipse cx="115.4" cy="803.8" rx="2.5" ry="1.9" transform="rotate(163 115.4 803.8)" fill="rgb(100,100,100)"/><ellipse cx="110.8" cy="819.1" rx="4.1" ry="2.5" transform="rotate(237 110.8 819.1)" fill="rgb(107,107,107)"/><polygon points="37.9,841.8 39.1,844.5 31.1,846.4" fill="rgb(97,97,97)"/><ellipse cx="38.5" cy="843.1" rx="3.1" ry="2.0" transform="rotate(156 38.5 843.1)" fill="rgb(67,67,67)"/><polygon points="71.8,749.3 73.4,746.2 80.2,751.9" fill="rgb(115,115,115)"/><ellipse cx="72.6" cy="747.7" rx="3.0" ry="2.3" transform="rotate(29 72.6 747.7)" fill="rgb(85,85,85)"/><ellipse cx="163.3" cy="833.4" rx="2.5" ry="1.8" transform="rotate(128 163.3 833.4)" fill="rgb(65,65,65)"/><polygon points="68.3,779.8 71.0,781.6 65.5,786.9" fill="rgb(112,112,112)"/><ellipse cx="69.7" cy="780.7" rx="3.7" ry="2.2" transform="rotate(124 69.7 780.7)" fill="rgb(82,82,82)"/><polygon points="134.7,754.6 137.1,755.7 130.8,766.1" fill="rgb(128,128,128)"/><polygon points="134.7,754.6 137.1,755.7 140.3,745.7" fill="rgb(128,128,128)"/><ellipse cx="135.9" cy="755.1" rx="3.7" ry="1.8" transform="rotate(115 135.9 755.1)" fill="rgb(98,98,98)"/><polygon points="141.0,775.8 140.8,772.8 148.1,774.0" fill="rgb(135,135,135)"/><ellipse cx="140.9" cy="774.3" rx="3.6" ry="2.0" transform="rotate(357 140.9 774.3)" fill="rgb(105,105,105)"/><polygon points="106.3,835.3 106.4,838.8 97.9,837.5" fill="rgb(109,109,109)"/><ellipse cx="106.4" cy="837.1" rx="4.0" ry="2.4" transform="rotate(177 106.4 837.1)" fill="rgb(79,79,79)"/><ellipse cx="51.6" cy="802.9" rx="2.9" ry="2.2" transform="rotate(346 51.6 802.9)" fill="rgb(96,96,96)"/></g>
</g>
<rect x="163.3" y="850.4" width="11" height="2" fill="#fff"/>
<rect x="25.1" y="744.5999999999999" width="153.9" height="110.10000000000001" fill="none" stroke="#111" stroke-width="1.8" rx="1"/>
<rect x="194.7" y="744.3" width="150.5" height="110.7" fill="#f2f2f2"/>
<g clip-path="url(#clip44)">
<g filter="url(#bl2)"><ellipse cx="278.9" cy="833.7" rx="7.2" ry="4.8" transform="rotate(154 278.9 833.7)" fill="rgb(136,136,136)"/><ellipse cx="246.9" cy="817.2" rx="5.6" ry="5.7" transform="rotate(53 246.9 817.2)" fill="rgb(163,163,163)"/><ellipse cx="275.2" cy="802.0" rx="8.3" ry="5.9" transform="rotate(177 275.2 802.0)" fill="rgb(148,148,148)"/><ellipse cx="275.3" cy="759.8" rx="7.9" ry="4.8" transform="rotate(87 275.3 759.8)" fill="rgb(155,155,155)"/><ellipse cx="249.9" cy="766.6" rx="6.3" ry="5.1" transform="rotate(14 249.9 766.6)" fill="rgb(144,144,144)"/><ellipse cx="238.4" cy="829.3" rx="6.5" ry="5.6" transform="rotate(72 238.4 829.3)" fill="rgb(142,142,142)"/><ellipse cx="208.3" cy="745.0" rx="6.8" ry="3.8" transform="rotate(89 208.3 745.0)" fill="rgb(191,191,191)"/><ellipse cx="239.4" cy="747.0" rx="6.6" ry="4.5" transform="rotate(119 239.4 747.0)" fill="rgb(196,196,196)"/><ellipse cx="250.1" cy="750.2" rx="5.0" ry="3.1" transform="rotate(117 250.1 750.2)" fill="rgb(180,180,180)"/><ellipse cx="294.9" cy="749.0" rx="6.8" ry="3.2" transform="rotate(168 294.9 749.0)" fill="rgb(189,189,189)"/><ellipse cx="328.7" cy="750.2" rx="6.3" ry="3.1" transform="rotate(30 328.7 750.2)" fill="rgb(190,190,190)"/><ellipse cx="332.4" cy="751.1" rx="7.7" ry="3.3" transform="rotate(84 332.4 751.1)" fill="rgb(199,199,199)"/><ellipse cx="248.3" cy="755.0" rx="6.1" ry="4.9" transform="rotate(168 248.3 755.0)" fill="rgb(199,199,199)"/><ellipse cx="259.7" cy="758.1" rx="6.4" ry="4.7" transform="rotate(164 259.7 758.1)" fill="rgb(194,194,194)"/><ellipse cx="281.5" cy="757.5" rx="7.4" ry="5.0" transform="rotate(162 281.5 757.5)" fill="rgb(186,186,186)"/><ellipse cx="308.9" cy="758.3" rx="8.9" ry="3.8" transform="rotate(130 308.9 758.3)" fill="rgb(176,176,176)"/><ellipse cx="317.2" cy="753.6" rx="8.0" ry="3.6" transform="rotate(37 317.2 753.6)" fill="rgb(186,186,186)"/><ellipse cx="341.4" cy="758.1" rx="7.8" ry="3.3" transform="rotate(168 341.4 758.1)" fill="rgb(176,176,176)"/><ellipse cx="256.7" cy="760.3" rx="7.9" ry="4.7" transform="rotate(67 256.7 760.3)" fill="rgb(196,196,196)"/><ellipse cx="299.1" cy="763.6" rx="5.7" ry="3.6" transform="rotate(14 299.1 763.6)" fill="rgb(193,193,193)"/><ellipse cx="317.6" cy="763.8" rx="8.9" ry="3.2" transform="rotate(72 317.6 763.8)" fill="rgb(197,197,197)"/><ellipse cx="233.7" cy="768.6" rx="8.6" ry="3.1" transform="rotate(113 233.7 768.6)" fill="rgb(186,186,186)"/><ellipse cx="283.8" cy="770.1" rx="8.5" ry="4.2" transform="rotate(53 283.8 770.1)" fill="rgb(193,193,193)"/><ellipse cx="344.4" cy="769.7" rx="6.9" ry="3.6" transform="rotate(169 344.4 769.7)" fill="rgb(184,184,184)"/><ellipse cx="219.8" cy="778.9" rx="5.5" ry="4.2" transform="rotate(73 219.8 778.9)" fill="rgb(196,196,196)"/><ellipse cx="236.1" cy="774.2" rx="5.7" ry="3.4" transform="rotate(170 236.1 774.2)" fill="rgb(188,188,188)"/><ellipse cx="257.6" cy="778.6" rx="8.5" ry="4.9" transform="rotate(54 257.6 778.6)" fill="rgb(181,181,181)"/><ellipse cx="288.0" cy="775.3" rx="5.3" ry="4.1" transform="rotate(6 288.0 775.3)" fill="rgb(180,180,180)"/><ellipse cx="304.0" cy="776.6" rx="5.5" ry="4.8" transform="rotate(81 304.0 776.6)" fill="rgb(180,180,180)"/><ellipse cx="326.8" cy="779.7" rx="8.2" ry="3.2" transform="rotate(15 326.8 779.7)" fill="rgb(182,182,182)"/><ellipse cx="333.9" cy="780.5" rx="7.0" ry="4.8" transform="rotate(99 333.9 780.5)" fill="rgb(175,175,175)"/><ellipse cx="201.1" cy="785.1" rx="8.7" ry="4.7" transform="rotate(65 201.1 785.1)" fill="rgb(197,197,197)"/><ellipse cx="202.8" cy="781.6" rx="6.4" ry="3.7" transform="rotate(27 202.8 781.6)" fill="rgb(189,189,189)"/><ellipse cx="210.2" cy="786.4" rx="5.0" ry="3.6" transform="rotate(104 210.2 786.4)" fill="rgb(188,188,188)"/><ellipse cx="286.8" cy="783.3" rx="8.0" ry="4.1" transform="rotate(154 286.8 783.3)" fill="rgb(186,186,186)"/><ellipse cx="320.2" cy="781.7" rx="5.8" ry="3.2" transform="rotate(108 320.2 781.7)" fill="rgb(189,189,189)"/><ellipse cx="205.5" cy="791.7" rx="7.7" ry="3.1" transform="rotate(172 205.5 791.7)" fill="rgb(181,181,181)"/><ellipse cx="228.8" cy="792.9" rx="6.7" ry="3.9" transform="rotate(143 228.8 792.9)" fill="rgb(195,195,195)"/><ellipse cx="233.8" cy="789.2" rx="6.2" ry="4.7" transform="rotate(113 233.8 789.2)" fill="rgb(198,198,198)"/><ellipse cx="252.2" cy="795.3" rx="6.7" ry="3.3" transform="rotate(13 252.2 795.3)" fill="rgb(180,180,180)"/><ellipse cx="344.0" cy="792.2" rx="5.0" ry="3.3" transform="rotate(17 344.0 792.2)" fill="rgb(181,181,181)"/><ellipse cx="258.0" cy="800.5" rx="6.7" ry="4.3" transform="rotate(71 258.0 800.5)" fill="rgb(183,183,183)"/><ellipse cx="267.1" cy="802.4" rx="6.3" ry="4.5" transform="rotate(165 267.1 802.4)" fill="rgb(191,191,191)"/><ellipse cx="272.7" cy="802.7" rx="7.2" ry="4.5" transform="rotate(47 272.7 802.7)" fill="rgb(199,199,199)"/><ellipse cx="277.9" cy="797.4" rx="8.3" ry="4.8" transform="rotate(11 277.9 797.4)" fill="rgb(177,177,177)"/><ellipse cx="295.7" cy="801.5" rx="6.4" ry="3.8" transform="rotate(51 295.7 801.5)" fill="rgb(185,185,185)"/><ellipse cx="304.1" cy="796.3" rx="7.3" ry="3.9" transform="rotate(48 304.1 796.3)" fill="rgb(187,187,187)"/><ellipse cx="310.6" cy="800.6" rx="8.3" ry="3.4" transform="rotate(86 310.6 800.6)" fill="rgb(178,178,178)"/><ellipse cx="327.4" cy="799.4" rx="6.1" ry="4.9" transform="rotate(42 327.4 799.4)" fill="rgb(191,191,191)"/><ellipse cx="272.3" cy="806.3" rx="6.3" ry="4.1" transform="rotate(143 272.3 806.3)" fill="rgb(196,196,196)"/><ellipse cx="204.3" cy="811.2" rx="6.8" ry="4.9" transform="rotate(169 204.3 811.2)" fill="rgb(185,185,185)"/><ellipse cx="264.2" cy="813.6" rx="5.0" ry="3.7" transform="rotate(156 264.2 813.6)" fill="rgb(181,181,181)"/><ellipse cx="284.2" cy="811.6" rx="8.3" ry="4.0" transform="rotate(145 284.2 811.6)" fill="rgb(190,190,190)"/><ellipse cx="311.0" cy="816.6" rx="7.3" ry="3.2" transform="rotate(15 311.0 816.6)" fill="rgb(191,191,191)"/><ellipse cx="227.8" cy="823.4" rx="8.6" ry="4.0" transform="rotate(151 227.8 823.4)" fill="rgb(188,188,188)"/><ellipse cx="253.3" cy="822.2" rx="6.6" ry="3.4" transform="rotate(154 253.3 822.2)" fill="rgb(193,193,193)"/><ellipse cx="288.2" cy="822.8" rx="5.9" ry="3.3" transform="rotate(139 288.2 822.8)" fill="rgb(184,184,184)"/><ellipse cx="217.9" cy="826.5" rx="8.7" ry="4.8" transform="rotate(27 217.9 826.5)" fill="rgb(199,199,199)"/><ellipse cx="252.5" cy="830.8" rx="5.5" ry="3.3" transform="rotate(97 252.5 830.8)" fill="rgb(184,184,184)"/><ellipse cx="264.0" cy="830.0" rx="5.3" ry="3.5" transform="rotate(86 264.0 830.0)" fill="rgb(197,197,197)"/><ellipse cx="282.9" cy="828.6" rx="5.8" ry="3.5" transform="rotate(43 282.9 828.6)" fill="rgb(182,182,182)"/><ellipse cx="290.2" cy="831.9" rx="6.6" ry="4.3" transform="rotate(105 290.2 831.9)" fill="rgb(196,196,196)"/><ellipse cx="308.0" cy="827.8" rx="5.4" ry="4.2" transform="rotate(157 308.0 827.8)" fill="rgb(193,193,193)"/><ellipse cx="223.6" cy="836.2" rx="8.8" ry="4.5" transform="rotate(128 223.6 836.2)" fill="rgb(186,186,186)"/><ellipse cx="256.4" cy="839.0" rx="6.7" ry="4.8" transform="rotate(3 256.4 839.0)" fill="rgb(180,180,180)"/><ellipse cx="304.6" cy="838.9" rx="6.1" ry="3.0" transform="rotate(125 304.6 838.9)" fill="rgb(181,181,181)"/><ellipse cx="321.2" cy="837.0" rx="7.5" ry="3.4" transform="rotate(39 321.2 837.0)" fill="rgb(190,190,190)"/><ellipse cx="220.9" cy="841.2" rx="6.2" ry="4.9" transform="rotate(8 220.9 841.2)" fill="rgb(185,185,185)"/><ellipse cx="250.3" cy="846.1" rx="5.2" ry="4.0" transform="rotate(96 250.3 846.1)" fill="rgb(175,175,175)"/><ellipse cx="257.3" cy="845.4" rx="6.9" ry="3.5" transform="rotate(103 257.3 845.4)" fill="rgb(195,195,195)"/><ellipse cx="263.5" cy="842.9" rx="5.8" ry="3.7" transform="rotate(25 263.5 842.9)" fill="rgb(187,187,187)"/><ellipse cx="309.3" cy="844.6" rx="8.6" ry="3.8" transform="rotate(35 309.3 844.6)" fill="rgb(194,194,194)"/><ellipse cx="317.6" cy="841.1" rx="5.3" ry="3.6" transform="rotate(169 317.6 841.1)" fill="rgb(188,188,188)"/><ellipse cx="343.1" cy="845.5" rx="6.3" ry="4.0" transform="rotate(11 343.1 845.5)" fill="rgb(190,190,190)"/><ellipse cx="233.8" cy="854.6" rx="5.2" ry="3.5" transform="rotate(62 233.8 854.6)" fill="rgb(188,188,188)"/><ellipse cx="281.4" cy="848.0" rx="8.7" ry="4.9" transform="rotate(41 281.4 848.0)" fill="rgb(195,195,195)"/><ellipse cx="302.3" cy="852.4" rx="5.0" ry="4.6" transform="rotate(83 302.3 852.4)" fill="rgb(194,194,194)"/><ellipse cx="339.1" cy="854.6" rx="7.8" ry="3.9" transform="rotate(47 339.1 854.6)" fill="rgb(179,179,179)"/></g>
<g filter="url(#bl0)"><circle cx="322.3" cy="791.4" r="0.99" fill="rgb(136,136,136)" stroke="rgb(106,106,106)" stroke-width="0.7"/><circle cx="257.5" cy="853.0" r="0.97" fill="rgb(136,136,136)" stroke="rgb(106,106,106)" stroke-width="0.7"/><circle cx="329.8" cy="823.9" r="0.86" fill="rgb(130,130,130)" stroke="rgb(100,100,100)" stroke-width="0.7"/><circle cx="242.8" cy="789.2" r="1.09" fill="rgb(131,131,131)" stroke="rgb(101,101,101)" stroke-width="0.7"/><circle cx="304.9" cy="794.4" r="0.91" fill="rgb(134,134,134)" stroke="rgb(104,104,104)" stroke-width="0.7"/><circle cx="263.8" cy="760.9" r="0.86" fill="rgb(169,169,169)" stroke="rgb(139,139,139)" stroke-width="0.7"/><circle cx="305.0" cy="821.5" r="1.08" fill="rgb(134,134,134)" stroke="rgb(104,104,104)" stroke-width="0.7"/><circle cx="310.2" cy="771.2" r="1.02" fill="rgb(149,149,149)" stroke="rgb(119,119,119)" stroke-width="0.7"/><circle cx="210.1" cy="845.2" r="1.10" fill="rgb(156,156,156)" stroke="rgb(126,126,126)" stroke-width="0.7"/><circle cx="268.1" cy="757.0" r="0.89" fill="rgb(131,131,131)" stroke="rgb(101,101,101)" stroke-width="0.7"/><circle cx="322.6" cy="848.9" r="1.07" fill="rgb(139,139,139)" stroke="rgb(109,109,109)" stroke-width="0.7"/><circle cx="320.8" cy="854.1" r="0.87" fill="rgb(153,153,153)" stroke="rgb(123,123,123)" stroke-width="0.7"/><circle cx="222.3" cy="796.2" r="0.88" fill="rgb(156,156,156)" stroke="rgb(126,126,126)" stroke-width="0.7"/><circle cx="300.8" cy="818.3" r="0.97" fill="rgb(151,151,151)" stroke="rgb(121,121,121)" stroke-width="0.7"/><circle cx="212.9" cy="849.3" r="1.05" fill="rgb(150,150,150)" stroke="rgb(120,120,120)" stroke-width="0.7"/><circle cx="297.7" cy="847.0" r="0.91" fill="rgb(144,144,144)" stroke="rgb(114,114,114)" stroke-width="0.7"/><circle cx="230.6" cy="777.0" r="1.11" fill="rgb(150,150,150)" stroke="rgb(120,120,120)" stroke-width="0.7"/><circle cx="222.8" cy="795.6" r="0.98" fill="rgb(167,167,167)" stroke="rgb(137,137,137)" stroke-width="0.7"/><circle cx="335.3" cy="828.1" r="0.90" fill="rgb(164,164,164)" stroke="rgb(134,134,134)" stroke-width="0.7"/><circle cx="331.2" cy="795.4" r="0.91" fill="rgb(147,147,147)" stroke="rgb(117,117,117)" stroke-width="0.7"/><circle cx="295.3" cy="830.5" r="0.87" fill="rgb(165,165,165)" stroke="rgb(135,135,135)" stroke-width="0.7"/><circle cx="218.8" cy="789.0" r="0.92" fill="rgb(169,169,169)" stroke="rgb(139,139,139)" stroke-width="0.7"/><circle cx="267.0" cy="765.2" r="0.89" fill="rgb(130,130,130)" stroke="rgb(100,100,100)" stroke-width="0.7"/><circle cx="213.6" cy="829.6" r="0.88" fill="rgb(162,162,162)" stroke="rgb(132,132,132)" stroke-width="0.7"/><circle cx="315.5" cy="799.6" r="1.02" fill="rgb(137,137,137)" stroke="rgb(107,107,107)" stroke-width="0.7"/><circle cx="310.5" cy="824.2" r="1.00" fill="rgb(150,150,150)" stroke="rgb(120,120,120)" stroke-width="0.7"/><circle cx="238.2" cy="761.7" r="0.96" fill="rgb(168,168,168)" stroke="rgb(138,138,138)" stroke-width="0.7"/><circle cx="281.1" cy="818.5" r="0.88" fill="rgb(165,165,165)" stroke="rgb(135,135,135)" stroke-width="0.7"/><circle cx="279.7" cy="790.6" r="0.90" fill="rgb(130,130,130)" stroke="rgb(100,100,100)" stroke-width="0.7"/><circle cx="261.0" cy="781.2" r="1.08" fill="rgb(166,166,166)" stroke="rgb(136,136,136)" stroke-width="0.7"/><circle cx="279.1" cy="848.0" r="0.87" fill="rgb(165,165,165)" stroke="rgb(135,135,135)" stroke-width="0.7"/><circle cx="272.1" cy="852.0" r="1.11" fill="rgb(148,148,148)" stroke="rgb(118,118,118)" stroke-width="0.7"/><circle cx="299.5" cy="769.5" r="0.91" fill="rgb(164,164,164)" stroke="rgb(134,134,134)" stroke-width="0.7"/><circle cx="276.1" cy="790.5" r="1.14" fill="rgb(136,136,136)" stroke="rgb(106,106,106)" stroke-width="0.7"/><circle cx="200.2" cy="794.1" r="0.99" fill="rgb(165,165,165)" stroke="rgb(135,135,135)" stroke-width="0.7"/><circle cx="290.1" cy="761.4" r="1.07" fill="rgb(149,149,149)" stroke="rgb(119,119,119)" stroke-width="0.7"/><circle cx="340.0" cy="772.4" r="0.89" fill="rgb(138,138,138)" stroke="rgb(108,108,108)" stroke-width="0.7"/><circle cx="220.8" cy="806.8" r="0.97" fill="rgb(149,149,149)" stroke="rgb(119,119,119)" stroke-width="0.7"/><circle cx="264.3" cy="829.6" r="0.98" fill="rgb(131,131,131)" stroke="rgb(101,101,101)" stroke-width="0.7"/><circle cx="205.2" cy="762.7" r="0.96" fill="rgb(165,165,165)" stroke="rgb(135,135,135)" stroke-width="0.7"/><circle cx="266.2" cy="791.0" r="0.91" fill="rgb(131,131,131)" stroke="rgb(101,101,101)" stroke-width="0.7"/><circle cx="201.6" cy="771.3" r="0.94" fill="rgb(157,157,157)" stroke="rgb(127,127,127)" stroke-width="0.7"/><circle cx="317.6" cy="787.7" r="1.10" fill="rgb(141,141,141)" stroke="rgb(111,111,111)" stroke-width="0.7"/><circle cx="314.3" cy="787.6" r="0.91" fill="rgb(166,166,166)" stroke="rgb(136,136,136)" stroke-width="0.7"/><circle cx="341.2" cy="786.0" r="1.06" fill="rgb(152,152,152)" stroke="rgb(122,122,122)" stroke-width="0.7"/><circle cx="240.0" cy="774.8" r="0.87" fill="rgb(144,144,144)" stroke="rgb(114,114,114)" stroke-width="0.7"/><circle cx="281.6" cy="768.9" r="1.11" fill="rgb(134,134,134)" stroke="rgb(104,104,104)" stroke-width="0.7"/><circle cx="283.3" cy="797.7" r="1.03" fill="rgb(150,150,150)" stroke="rgb(120,120,120)" stroke-width="0.7"/><circle cx="194.9" cy="772.2" r="1.09" fill="rgb(168,168,168)" stroke="rgb(138,138,138)" stroke-width="0.7"/><circle cx="238.6" cy="847.0" r="0.92" fill="rgb(160,160,160)" stroke="rgb(130,130,130)" stroke-width="0.7"/><circle cx="222.3" cy="771.0" r="1.05" fill="rgb(154,154,154)" stroke="rgb(124,124,124)" stroke-width="0.7"/><circle cx="295.9" cy="801.5" r="0.95" fill="rgb(161,161,161)" stroke="rgb(131,131,131)" stroke-width="0.7"/><circle cx="283.2" cy="771.4" r="0.93" fill="rgb(153,153,153)" stroke="rgb(123,123,123)" stroke-width="0.7"/><circle cx="221.5" cy="841.3" r="0.96" fill="rgb(163,163,163)" stroke="rgb(133,133,133)" stroke-width="0.7"/><circle cx="276.0" cy="783.2" r="0.92" fill="rgb(169,169,169)" stroke="rgb(139,139,139)" stroke-width="0.7"/><circle cx="223.8" cy="809.8" r="1.02" fill="rgb(169,169,169)" stroke="rgb(139,139,139)" stroke-width="0.7"/><circle cx="257.5" cy="766.7" r="0.99" fill="rgb(149,149,149)" stroke="rgb(119,119,119)" stroke-width="0.7"/><circle cx="235.5" cy="809.9" r="0.86" fill="rgb(130,130,130)" stroke="rgb(100,100,100)" stroke-width="0.7"/><circle cx="268.9" cy="839.0" r="1.13" fill="rgb(146,146,146)" stroke="rgb(116,116,116)" stroke-width="0.7"/><circle cx="295.6" cy="784.6" r="0.89" fill="rgb(161,161,161)" stroke="rgb(131,131,131)" stroke-width="0.7"/><circle cx="263.3" cy="848.9" r="0.99" fill="rgb(150,150,150)" stroke="rgb(120,120,120)" stroke-width="0.7"/><circle cx="296.9" cy="782.5" r="1.02" fill="rgb(167,167,167)" stroke="rgb(137,137,137)" stroke-width="0.7"/><circle cx="257.5" cy="756.5" r="1.02" fill="rgb(153,153,153)" stroke="rgb(123,123,123)" stroke-width="0.7"/><circle cx="288.3" cy="853.2" r="1.05" fill="rgb(157,157,157)" stroke="rgb(127,127,127)" stroke-width="0.7"/><circle cx="205.7" cy="768.0" r="1.08" fill="rgb(139,139,139)" stroke="rgb(109,109,109)" stroke-width="0.7"/><circle cx="219.7" cy="827.4" r="0.94" fill="rgb(133,133,133)" stroke="rgb(103,103,103)" stroke-width="0.7"/><circle cx="304.0" cy="779.9" r="1.07" fill="rgb(169,169,169)" stroke="rgb(139,139,139)" stroke-width="0.7"/><circle cx="206.6" cy="746.8" r="1.02" fill="rgb(164,164,164)" stroke="rgb(134,134,134)" stroke-width="0.7"/><circle cx="282.8" cy="805.4" r="0.87" fill="rgb(141,141,141)" stroke="rgb(111,111,111)" stroke-width="0.7"/><circle cx="285.3" cy="817.2" r="1.03" fill="rgb(148,148,148)" stroke="rgb(118,118,118)" stroke-width="0.7"/></g>
<g filter="url(#bl)"><ellipse cx="197.4" cy="750.1" rx="3.1" ry="2.6" transform="rotate(105 197.4 750.1)" fill="rgb(88,88,88)"/><ellipse cx="208.3" cy="745.0" rx="3.2" ry="2.7" transform="rotate(15 208.3 745.0)" fill="rgb(90,90,90)"/><ellipse cx="211.2" cy="746.2" rx="3.2" ry="2.4" transform="rotate(23 211.2 746.2)" fill="rgb(92,92,92)"/><ellipse cx="217.8" cy="749.7" rx="2.9" ry="2.3" transform="rotate(348 217.8 749.7)" fill="rgb(119,119,119)"/><ellipse cx="229.6" cy="748.3" rx="3.3" ry="2.7" transform="rotate(2 229.6 748.3)" fill="rgb(96,96,96)"/><ellipse cx="239.4" cy="747.0" rx="3.0" ry="2.3" transform="rotate(300 239.4 747.0)" fill="rgb(92,92,92)"/><ellipse cx="241.6" cy="745.4" rx="3.0" ry="2.3" transform="rotate(196 241.6 745.4)" fill="rgb(108,108,108)"/><ellipse cx="250.1" cy="750.2" rx="2.7" ry="2.2" transform="rotate(33 250.1 750.2)" fill="rgb(96,96,96)"/><ellipse cx="259.4" cy="745.1" rx="2.4" ry="2.0" transform="rotate(14 259.4 745.1)" fill="rgb(83,83,83)"/><ellipse cx="265.7" cy="745.0" rx="2.5" ry="2.3" transform="rotate(214 265.7 745.0)" fill="rgb(115,115,115)"/><ellipse cx="274.5" cy="745.5" rx="2.4" ry="1.9" transform="rotate(268 274.5 745.5)" fill="rgb(117,117,117)"/><ellipse cx="279.1" cy="748.9" rx="3.2" ry="2.7" transform="rotate(168 279.1 748.9)" fill="rgb(96,96,96)"/><ellipse cx="291.0" cy="748.8" rx="2.6" ry="2.0" transform="rotate(11 291.0 748.8)" fill="rgb(80,80,80)"/><ellipse cx="294.9" cy="749.0" rx="2.9" ry="2.6" transform="rotate(43 294.9 749.0)" fill="rgb(111,111,111)"/><polygon points="303.2,746.2 301.3,743.3 309.3,740.2" fill="rgb(146,146,146)"/><polygon points="303.2,746.2 301.3,743.3 293.3,750.5" fill="rgb(146,146,146)"/><ellipse cx="302.3" cy="744.7" rx="2.8" ry="2.3" transform="rotate(327 302.3 744.7)" fill="rgb(116,116,116)"/><ellipse cx="309.8" cy="749.2" rx="3.0" ry="2.4" transform="rotate(108 309.8 749.2)" fill="rgb(115,115,115)"/><ellipse cx="319.7" cy="745.9" rx="3.2" ry="2.9" transform="rotate(133 319.7 745.9)" fill="rgb(98,98,98)"/><ellipse cx="328.7" cy="750.2" rx="2.8" ry="2.6" transform="rotate(39 328.7 750.2)" fill="rgb(92,92,92)"/><ellipse cx="332.4" cy="751.1" rx="3.1" ry="2.4" transform="rotate(35 332.4 751.1)" fill="rgb(91,91,91)"/><ellipse cx="339.8" cy="745.1" rx="3.0" ry="2.7" transform="rotate(54 339.8 745.1)" fill="rgb(118,118,118)"/><ellipse cx="198.5" cy="757.8" rx="2.9" ry="2.2" transform="rotate(261 198.5 757.8)" fill="rgb(90,90,90)"/><ellipse cx="206.7" cy="755.7" rx="2.7" ry="2.2" transform="rotate(154 206.7 755.7)" fill="rgb(98,98,98)"/><ellipse cx="213.4" cy="753.9" rx="3.0" ry="2.7" transform="rotate(165 213.4 753.9)" fill="rgb(96,96,96)"/><ellipse cx="219.7" cy="754.7" rx="3.1" ry="2.7" transform="rotate(349 219.7 754.7)" fill="rgb(81,81,81)"/><ellipse cx="228.9" cy="758.3" rx="3.0" ry="2.6" transform="rotate(183 228.9 758.3)" fill="rgb(90,90,90)"/><ellipse cx="233.2" cy="753.7" rx="2.9" ry="2.6" transform="rotate(124 233.2 753.7)" fill="rgb(105,105,105)"/><ellipse cx="246.6" cy="756.4" rx="3.0" ry="2.7" transform="rotate(303 246.6 756.4)" fill="rgb(93,93,93)"/><ellipse cx="248.3" cy="755.0" rx="3.3" ry="2.5" transform="rotate(127 248.3 755.0)" fill="rgb(96,96,96)"/><ellipse cx="259.7" cy="758.1" rx="3.2" ry="2.9" transform="rotate(134 259.7 758.1)" fill="rgb(114,114,114)"/><ellipse cx="263.4" cy="758.0" rx="2.8" ry="2.2" transform="rotate(349 263.4 758.0)" fill="rgb(115,115,115)"/><ellipse cx="275.5" cy="753.9" rx="2.7" ry="2.4" transform="rotate(359 275.5 753.9)" fill="rgb(108,108,108)"/><ellipse cx="281.5" cy="757.5" rx="2.9" ry="2.3" transform="rotate(26 281.5 757.5)" fill="rgb(105,105,105)"/><ellipse cx="287.0" cy="756.7" rx="2.7" ry="2.2" transform="rotate(176 287.0 756.7)" fill="rgb(117,117,117)"/><ellipse cx="296.7" cy="752.5" rx="2.7" ry="2.5" transform="rotate(116 296.7 752.5)" fill="rgb(105,105,105)"/><ellipse cx="302.3" cy="754.8" rx="2.6" ry="2.4" transform="rotate(93 302.3 754.8)" fill="rgb(82,82,82)"/><ellipse cx="308.9" cy="758.3" rx="3.3" ry="2.8" transform="rotate(332 308.9 758.3)" fill="rgb(104,104,104)"/><ellipse cx="317.2" cy="753.6" rx="2.6" ry="2.0" transform="rotate(142 317.2 753.6)" fill="rgb(93,93,93)"/><ellipse cx="327.0" cy="755.6" rx="2.4" ry="2.1" transform="rotate(217 327.0 755.6)" fill="rgb(86,86,86)"/><ellipse cx="332.7" cy="754.2" rx="2.5" ry="2.1" transform="rotate(289 332.7 754.2)" fill="rgb(108,108,108)"/><polygon points="342.8,756.8 340.0,759.4 335.3,751.6" fill="rgb(138,138,138)"/><ellipse cx="341.4" cy="758.1" rx="3.0" ry="2.5" transform="rotate(226 341.4 758.1)" fill="rgb(108,108,108)"/><ellipse cx="195.6" cy="765.5" rx="3.1" ry="2.7" transform="rotate(226 195.6 765.5)" fill="rgb(111,111,111)"/><ellipse cx="209.0" cy="764.0" rx="2.8" ry="2.2" transform="rotate(280 209.0 764.0)" fill="rgb(106,106,106)"/><ellipse cx="215.6" cy="762.0" rx="3.0" ry="2.7" transform="rotate(293 215.6 762.0)" fill="rgb(95,95,95)"/><ellipse cx="224.2" cy="764.4" rx="2.4" ry="2.0" transform="rotate(243 224.2 764.4)" fill="rgb(82,82,82)"/><ellipse cx="229.8" cy="762.4" rx="3.2" ry="2.8" transform="rotate(202 229.8 762.4)" fill="rgb(111,111,111)"/><ellipse cx="234.2" cy="764.0" rx="3.0" ry="2.6" transform="rotate(325 234.2 764.0)" fill="rgb(89,89,89)"/><ellipse cx="245.2" cy="759.5" rx="2.6" ry="2.3" transform="rotate(114 245.2 759.5)" fill="rgb(108,108,108)"/><ellipse cx="249.9" cy="763.0" rx="2.6" ry="2.1" transform="rotate(53 249.9 763.0)" fill="rgb(106,106,106)"/><ellipse cx="256.7" cy="760.3" rx="2.9" ry="2.3" transform="rotate(180 256.7 760.3)" fill="rgb(88,88,88)"/><ellipse cx="264.1" cy="759.5" rx="2.9" ry="2.5" transform="rotate(65 264.1 759.5)" fill="rgb(99,99,99)"/><ellipse cx="271.1" cy="762.0" rx="3.3" ry="3.0" transform="rotate(247 271.1 762.0)" fill="rgb(119,119,119)"/><ellipse cx="281.2" cy="763.7" rx="3.1" ry="2.6" transform="rotate(264 281.2 763.7)" fill="rgb(111,111,111)"/><ellipse cx="287.5" cy="760.3" rx="3.2" ry="2.8" transform="rotate(129 287.5 760.3)" fill="rgb(88,88,88)"/><ellipse cx="299.1" cy="763.6" rx="3.2" ry="2.8" transform="rotate(88 299.1 763.6)" fill="rgb(105,105,105)"/><ellipse cx="305.0" cy="764.0" rx="2.5" ry="2.1" transform="rotate(52 305.0 764.0)" fill="rgb(83,83,83)"/><ellipse cx="310.1" cy="763.4" rx="2.5" ry="2.2" transform="rotate(234 310.1 763.4)" fill="rgb(106,106,106)"/><ellipse cx="317.6" cy="763.8" rx="2.7" ry="2.0" transform="rotate(293 317.6 763.8)" fill="rgb(95,95,95)"/><ellipse cx="328.5" cy="759.5" rx="3.2" ry="2.4" transform="rotate(20 328.5 759.5)" fill="rgb(103,103,103)"/><ellipse cx="335.9" cy="760.2" rx="2.6" ry="2.1" transform="rotate(38 335.9 760.2)" fill="rgb(86,86,86)"/><ellipse cx="338.2" cy="759.9" rx="2.8" ry="2.1" transform="rotate(359 338.2 759.9)" fill="rgb(115,115,115)"/><ellipse cx="198.9" cy="772.5" rx="2.9" ry="2.5" transform="rotate(232 198.9 772.5)" fill="rgb(87,87,87)"/><ellipse cx="208.9" cy="767.9" rx="2.5" ry="1.9" transform="rotate(200 208.9 767.9)" fill="rgb(85,85,85)"/><ellipse cx="213.0" cy="773.1" rx="3.0" ry="2.3" transform="rotate(331 213.0 773.1)" fill="rgb(97,97,97)"/><ellipse cx="223.7" cy="772.3" rx="3.0" ry="2.5" transform="rotate(131 223.7 772.3)" fill="rgb(110,110,110)"/><polygon points="228.2,769.4 225.5,767.9 229.7,763.4" fill="rgb(125,125,125)"/><ellipse cx="226.9" cy="768.6" rx="2.4" ry="2.0" transform="rotate(299 226.9 768.6)" fill="rgb(95,95,95)"/><polygon points="233.9,766.6 233.5,770.5 226.4,767.8" fill="rgb(149,149,149)"/><ellipse cx="233.7" cy="768.6" rx="3.1" ry="2.7" transform="rotate(186 233.7 768.6)" fill="rgb(119,119,119)"/><ellipse cx="243.0" cy="772.1" rx="3.1" ry="2.5" transform="rotate(264 243.0 772.1)" fill="rgb(104,104,104)"/><ellipse cx="252.2" cy="768.0" rx="2.7" ry="2.5" transform="rotate(300 252.2 768.0)" fill="rgb(83,83,83)"/><ellipse cx="256.5" cy="769.8" rx="3.3" ry="3.1" transform="rotate(234 256.5 769.8)" fill="rgb(89,89,89)"/><ellipse cx="268.8" cy="769.9" rx="2.8" ry="2.2" transform="rotate(321 268.8 769.9)" fill="rgb(101,101,101)"/><ellipse cx="275.7" cy="771.4" rx="3.1" ry="2.8" transform="rotate(57 275.7 771.4)" fill="rgb(109,109,109)"/><ellipse cx="283.8" cy="770.1" rx="3.3" ry="2.7" transform="rotate(245 283.8 770.1)" fill="rgb(88,88,88)"/><ellipse cx="287.9" cy="769.8" rx="2.7" ry="2.3" transform="rotate(27 287.9 769.8)" fill="rgb(95,95,95)"/><ellipse cx="298.3" cy="768.7" rx="3.1" ry="2.5" transform="rotate(198 298.3 768.7)" fill="rgb(119,119,119)"/><ellipse cx="301.7" cy="772.4" rx="2.4" ry="2.2" transform="rotate(342 301.7 772.4)" fill="rgb(98,98,98)"/><ellipse cx="311.2" cy="771.1" rx="2.5" ry="2.1" transform="rotate(255 311.2 771.1)" fill="rgb(80,80,80)"/><ellipse cx="316.7" cy="767.1" rx="2.9" ry="2.7" transform="rotate(145 316.7 767.1)" fill="rgb(98,98,98)"/><ellipse cx="324.5" cy="769.7" rx="3.3" ry="2.9" transform="rotate(84 324.5 769.7)" fill="rgb(118,118,118)"/><ellipse cx="330.7" cy="768.6" rx="3.1" ry="2.5" transform="rotate(57 330.7 768.6)" fill="rgb(107,107,107)"/><ellipse cx="344.4" cy="769.7" rx="3.1" ry="2.5" transform="rotate(254 344.4 769.7)" fill="rgb(89,89,89)"/><ellipse cx="195.1" cy="779.5" rx="2.8" ry="2.1" transform="rotate(332 195.1 779.5)" fill="rgb(105,105,105)"/><polygon points="204.9,777.2 204.3,773.4 210.7,774.4" fill="rgb(120,120,120)"/><polygon points="204.9,777.2 204.3,773.4 198.7,776.3" fill="rgb(120,120,120)"/><ellipse cx="204.6" cy="775.3" rx="2.9" ry="2.6" transform="rotate(351 204.6 775.3)" fill="rgb(90,90,90)"/><ellipse cx="214.4" cy="778.6" rx="3.0" ry="2.7" transform="rotate(100 214.4 778.6)" fill="rgb(93,93,93)"/><ellipse cx="219.8" cy="778.9" rx="2.5" ry="2.1" transform="rotate(36 219.8 778.9)" fill="rgb(89,89,89)"/><ellipse cx="231.1" cy="776.4" rx="2.4" ry="2.3" transform="rotate(53 231.1 776.4)" fill="rgb(81,81,81)"/><ellipse cx="236.1" cy="774.2" rx="3.1" ry="2.7" transform="rotate(151 236.1 774.2)" fill="rgb(111,111,111)"/><ellipse cx="244.2" cy="776.1" rx="2.9" ry="2.2" transform="rotate(142 244.2 776.1)" fill="rgb(94,94,94)"/><polygon points="250.5,779.3 253.9,779.1 252.6,785.2" fill="rgb(114,114,114)"/><polygon points="250.5,779.3 253.9,779.1 251.7,772.2" fill="rgb(114,114,114)"/><ellipse cx="252.2" cy="779.2" rx="2.5" ry="2.2" transform="rotate(86 252.2 779.2)" fill="rgb(84,84,84)"/><ellipse cx="257.6" cy="778.6" rx="3.1" ry="2.4" transform="rotate(222 257.6 778.6)" fill="rgb(84,84,84)"/><ellipse cx="269.2" cy="775.3" rx="2.5" ry="2.3" transform="rotate(14 269.2 775.3)" fill="rgb(97,97,97)"/><ellipse cx="275.7" cy="777.4" rx="3.2" ry="2.8" transform="rotate(37 275.7 777.4)" fill="rgb(112,112,112)"/><ellipse cx="284.2" cy="774.7" rx="2.9" ry="2.7" transform="rotate(96 284.2 774.7)" fill="rgb(103,103,103)"/><ellipse cx="288.0" cy="775.3" rx="2.5" ry="2.4" transform="rotate(225 288.0 775.3)" fill="rgb(107,107,107)"/><ellipse cx="294.7" cy="780.1" rx="2.4" ry="2.0" transform="rotate(280 294.7 780.1)" fill="rgb(99,99,99)"/><ellipse cx="304.0" cy="776.6" rx="3.3" ry="2.5" transform="rotate(346 304.0 776.6)" fill="rgb(106,106,106)"/><ellipse cx="314.5" cy="774.5" rx="3.0" ry="2.8" transform="rotate(246 314.5 774.5)" fill="rgb(92,92,92)"/><polygon points="316.6,777.8 314.6,780.8 308.4,774.7" fill="rgb(125,125,125)"/><ellipse cx="315.6" cy="779.3" rx="3.0" ry="2.3" transform="rotate(213 315.6 779.3)" fill="rgb(95,95,95)"/><polygon points="329.0,779.9 324.6,779.5 327.5,770.7" fill="rgb(112,112,112)"/><ellipse cx="326.8" cy="779.7" rx="3.3" ry="2.9" transform="rotate(275 326.8 779.7)" fill="rgb(82,82,82)"/><polygon points="335.8,780.7 332.0,780.2 334.9,772.4" fill="rgb(135,135,135)"/><ellipse cx="333.9" cy="780.5" rx="3.1" ry="2.5" transform="rotate(277 333.9 780.5)" fill="rgb(105,105,105)"/><ellipse cx="340.3" cy="775.7" rx="2.9" ry="2.7" transform="rotate(86 340.3 775.7)" fill="rgb(117,117,117)"/><ellipse cx="201.1" cy="785.1" rx="2.5" ry="2.0" transform="rotate(176 201.1 785.1)" fill="rgb(88,88,88)"/><ellipse cx="202.8" cy="781.6" rx="2.7" ry="2.4" transform="rotate(80 202.8 781.6)" fill="rgb(103,103,103)"/><ellipse cx="210.2" cy="786.4" rx="3.0" ry="2.4" transform="rotate(346 210.2 786.4)" fill="rgb(90,90,90)"/><ellipse cx="222.0" cy="782.3" rx="2.8" ry="2.4" transform="rotate(185 222.0 782.3)" fill="rgb(98,98,98)"/><ellipse cx="230.6" cy="786.7" rx="2.8" ry="2.6" transform="rotate(61 230.6 786.7)" fill="rgb(89,89,89)"/><ellipse cx="237.0" cy="785.4" rx="3.0" ry="2.5" transform="rotate(348 237.0 785.4)" fill="rgb(116,116,116)"/><ellipse cx="243.2" cy="786.2" rx="3.0" ry="2.4" transform="rotate(316 243.2 786.2)" fill="rgb(110,110,110)"/><ellipse cx="250.4" cy="787.7" rx="3.2" ry="2.8" transform="rotate(312 250.4 787.7)" fill="rgb(108,108,108)"/><ellipse cx="259.3" cy="786.0" rx="3.1" ry="2.6" transform="rotate(38 259.3 786.0)" fill="rgb(116,116,116)"/><ellipse cx="269.1" cy="788.1" rx="2.9" ry="2.2" transform="rotate(266 269.1 788.1)" fill="rgb(82,82,82)"/><ellipse cx="273.9" cy="782.3" rx="2.8" ry="2.2" transform="rotate(149 273.9 782.3)" fill="rgb(101,101,101)"/><polygon points="282.3,789.3 280.6,786.0 289.9,783.3" fill="rgb(147,147,147)"/><ellipse cx="281.4" cy="787.7" rx="3.0" ry="2.5" transform="rotate(333 281.4 787.7)" fill="rgb(117,117,117)"/><ellipse cx="286.8" cy="783.3" rx="2.9" ry="2.4" transform="rotate(134 286.8 783.3)" fill="rgb(107,107,107)"/><ellipse cx="294.8" cy="783.1" rx="2.6" ry="2.3" transform="rotate(99 294.8 783.1)" fill="rgb(81,81,81)"/><ellipse cx="305.9" cy="785.1" rx="3.2" ry="3.0" transform="rotate(202 305.9 785.1)" fill="rgb(80,80,80)"/><ellipse cx="308.5" cy="785.0" rx="3.2" ry="3.0" transform="rotate(56 308.5 785.0)" fill="rgb(98,98,98)"/><ellipse cx="320.2" cy="781.7" rx="2.4" ry="2.2" transform="rotate(284 320.2 781.7)" fill="rgb(100,100,100)"/><ellipse cx="324.3" cy="781.7" rx="3.2" ry="2.5" transform="rotate(314 324.3 781.7)" fill="rgb(91,91,91)"/><ellipse cx="335.2" cy="784.2" rx="2.7" ry="2.5" transform="rotate(160 335.2 784.2)" fill="rgb(109,109,109)"/><ellipse cx="338.1" cy="783.2" rx="3.3" ry="3.0" transform="rotate(237 338.1 783.2)" fill="rgb(115,115,115)"/><ellipse cx="196.4" cy="792.7" rx="2.6" ry="2.5" transform="rotate(320 196.4 792.7)" fill="rgb(102,102,102)"/><ellipse cx="205.5" cy="791.7" rx="2.7" ry="2.4" transform="rotate(263 205.5 791.7)" fill="rgb(116,116,116)"/><ellipse cx="212.4" cy="789.2" rx="2.6" ry="2.1" transform="rotate(7 212.4 789.2)" fill="rgb(101,101,101)"/><ellipse cx="219.9" cy="793.2" rx="3.0" ry="2.4" transform="rotate(143 219.9 793.2)" fill="rgb(100,100,100)"/><ellipse cx="228.8" cy="792.9" rx="3.1" ry="2.8" transform="rotate(64 228.8 792.9)" fill="rgb(119,119,119)"/><ellipse cx="233.8" cy="789.2" rx="2.5" ry="1.9" transform="rotate(24 233.8 789.2)" fill="rgb(81,81,81)"/><ellipse cx="245.4" cy="793.7" rx="2.7" ry="2.5" transform="rotate(223 245.4 793.7)" fill="rgb(102,102,102)"/><ellipse cx="252.2" cy="795.3" rx="3.2" ry="2.7" transform="rotate(108 252.2 795.3)" fill="rgb(115,115,115)"/><polygon points="258.9,793.9 255.8,793.7 257.7,784.3" fill="rgb(113,113,113)"/><ellipse cx="257.4" cy="793.8" rx="2.5" ry="2.1" transform="rotate(272 257.4 793.8)" fill="rgb(83,83,83)"/><ellipse cx="264.8" cy="792.9" rx="2.9" ry="2.3" transform="rotate(305 264.8 792.9)" fill="rgb(87,87,87)"/><ellipse cx="276.5" cy="792.0" rx="2.7" ry="2.5" transform="rotate(200 276.5 792.0)" fill="rgb(102,102,102)"/><ellipse cx="282.0" cy="795.5" rx="2.9" ry="2.2" transform="rotate(172 282.0 795.5)" fill="rgb(116,116,116)"/><ellipse cx="288.7" cy="790.5" rx="2.8" ry="2.3" transform="rotate(228 288.7 790.5)" fill="rgb(118,118,118)"/><ellipse cx="299.4" cy="793.4" rx="2.9" ry="2.3" transform="rotate(58 299.4 793.4)" fill="rgb(110,110,110)"/><ellipse cx="302.6" cy="790.8" rx="2.5" ry="2.3" transform="rotate(13 302.6 790.8)" fill="rgb(97,97,97)"/><ellipse cx="308.1" cy="789.5" rx="3.0" ry="2.3" transform="rotate(82 308.1 789.5)" fill="rgb(106,106,106)"/><ellipse cx="322.1" cy="792.7" rx="2.7" ry="2.1" transform="rotate(113 322.1 792.7)" fill="rgb(111,111,111)"/><polygon points="326.4,790.3 330.1,790.8 327.1,800.6" fill="rgb(131,131,131)"/><ellipse cx="328.3" cy="790.5" rx="3.2" ry="2.5" transform="rotate(97 328.3 790.5)" fill="rgb(101,101,101)"/><ellipse cx="336.2" cy="793.6" rx="3.2" ry="2.5" transform="rotate(328 336.2 793.6)" fill="rgb(102,102,102)"/><ellipse cx="344.0" cy="792.2" rx="2.8" ry="2.6" transform="rotate(244 344.0 792.2)" fill="rgb(104,104,104)"/><ellipse cx="201.3" cy="800.1" rx="2.4" ry="2.2" transform="rotate(161 201.3 800.1)" fill="rgb(106,106,106)"/><ellipse cx="203.6" cy="802.4" rx="3.0" ry="2.8" transform="rotate(103 203.6 802.4)" fill="rgb(95,95,95)"/><ellipse cx="212.2" cy="802.5" rx="2.5" ry="2.1" transform="rotate(183 212.2 802.5)" fill="rgb(101,101,101)"/><ellipse cx="221.4" cy="799.0" rx="3.1" ry="2.5" transform="rotate(141 221.4 799.0)" fill="rgb(91,91,91)"/><ellipse cx="228.7" cy="798.8" rx="3.2" ry="2.4" transform="rotate(142 228.7 798.8)" fill="rgb(83,83,83)"/><ellipse cx="233.2" cy="796.6" rx="2.9" ry="2.6" transform="rotate(116 233.2 796.6)" fill="rgb(115,115,115)"/><ellipse cx="240.8" cy="802.3" rx="2.4" ry="1.9" transform="rotate(195 240.8 802.3)" fill="rgb(116,116,116)"/><ellipse cx="250.1" cy="796.5" rx="2.9" ry="2.6" transform="rotate(108 250.1 796.5)" fill="rgb(80,80,80)"/><ellipse cx="258.0" cy="800.5" rx="3.2" ry="2.7" transform="rotate(118 258.0 800.5)" fill="rgb(90,90,90)"/><ellipse cx="267.1" cy="802.4" rx="2.8" ry="2.1" transform="rotate(193 267.1 802.4)" fill="rgb(84,84,84)"/><ellipse cx="272.7" cy="802.7" rx="3.0" ry="2.3" transform="rotate(45 272.7 802.7)" fill="rgb(95,95,95)"/><ellipse cx="277.9" cy="797.4" rx="2.5" ry="2.2" transform="rotate(60 277.9 797.4)" fill="rgb(105,105,105)"/><polygon points="289.8,802.2 287.6,799.0 297.0,794.6" fill="rgb(132,132,132)"/><ellipse cx="288.7" cy="800.6" rx="2.9" ry="2.6" transform="rotate(324 288.7 800.6)" fill="rgb(102,102,102)"/><ellipse cx="295.7" cy="801.5" rx="2.9" ry="2.4" transform="rotate(345 295.7 801.5)" fill="rgb(103,103,103)"/><ellipse cx="304.1" cy="796.3" rx="2.4" ry="2.3" transform="rotate(63 304.1 796.3)" fill="rgb(87,87,87)"/><ellipse cx="310.6" cy="800.6" rx="3.2" ry="2.6" transform="rotate(49 310.6 800.6)" fill="rgb(89,89,89)"/><ellipse cx="317.2" cy="797.6" rx="2.7" ry="2.2" transform="rotate(21 317.2 797.6)" fill="rgb(94,94,94)"/><ellipse cx="327.4" cy="799.4" rx="2.4" ry="2.2" transform="rotate(162 327.4 799.4)" fill="rgb(81,81,81)"/><ellipse cx="337.2" cy="802.7" rx="2.9" ry="2.7" transform="rotate(14 337.2 802.7)" fill="rgb(100,100,100)"/><ellipse cx="340.1" cy="796.5" rx="2.8" ry="2.3" transform="rotate(30 340.1 796.5)" fill="rgb(112,112,112)"/><ellipse cx="196.3" cy="806.6" rx="3.0" ry="2.7" transform="rotate(103 196.3 806.6)" fill="rgb(111,111,111)"/><ellipse cx="205.5" cy="806.6" rx="2.9" ry="2.8" transform="rotate(80 205.5 806.6)" fill="rgb(89,89,89)"/><ellipse cx="210.7" cy="805.7" rx="2.6" ry="2.4" transform="rotate(325 210.7 805.7)" fill="rgb(87,87,87)"/><ellipse cx="220.4" cy="808.7" rx="2.4" ry="1.9" transform="rotate(30 220.4 808.7)" fill="rgb(86,86,86)"/><ellipse cx="226.0" cy="807.9" rx="2.6" ry="2.2" transform="rotate(126 226.0 807.9)" fill="rgb(80,80,80)"/><ellipse cx="235.3" cy="808.9" rx="2.5" ry="1.9" transform="rotate(344 235.3 808.9)" fill="rgb(115,115,115)"/><ellipse cx="244.8" cy="805.0" rx="2.4" ry="2.1" transform="rotate(12 244.8 805.0)" fill="rgb(107,107,107)"/><ellipse cx="252.5" cy="806.2" rx="3.3" ry="2.7" transform="rotate(348 252.5 806.2)" fill="rgb(81,81,81)"/><ellipse cx="260.9" cy="803.8" rx="2.5" ry="2.0" transform="rotate(287 260.9 803.8)" fill="rgb(95,95,95)"/><ellipse cx="264.9" cy="807.1" rx="2.9" ry="2.7" transform="rotate(168 264.9 807.1)" fill="rgb(114,114,114)"/><ellipse cx="272.3" cy="806.3" rx="3.3" ry="2.8" transform="rotate(102 272.3 806.3)" fill="rgb(108,108,108)"/><ellipse cx="281.8" cy="805.3" rx="3.0" ry="2.6" transform="rotate(101 281.8 805.3)" fill="rgb(105,105,105)"/><ellipse cx="291.2" cy="805.6" rx="3.0" ry="2.6" transform="rotate(253 291.2 805.6)" fill="rgb(100,100,100)"/><ellipse cx="297.6" cy="810.1" rx="3.0" ry="2.6" transform="rotate(216 297.6 810.1)" fill="rgb(103,103,103)"/><polygon points="299.3,809.5 302.9,809.5 301.1,815.9" fill="rgb(117,117,117)"/><ellipse cx="301.1" cy="809.5" rx="3.2" ry="2.5" transform="rotate(90 301.1 809.5)" fill="rgb(87,87,87)"/><polygon points="310.4,805.8 307.9,807.7 306.0,802.6" fill="rgb(138,138,138)"/><ellipse cx="309.1" cy="806.7" rx="2.4" ry="2.0" transform="rotate(232 309.1 806.7)" fill="rgb(108,108,108)"/><polygon points="315.9,811.8 316.6,807.9 325.0,811.5" fill="rgb(135,135,135)"/><polygon points="315.9,811.8 316.6,807.9 310.5,808.8" fill="rgb(135,135,135)"/><ellipse cx="316.3" cy="809.9" rx="3.2" ry="2.6" transform="rotate(11 316.3 809.9)" fill="rgb(105,105,105)"/><polygon points="326.2,805.9 324.0,808.4 318.5,801.4" fill="rgb(131,131,131)"/><polygon points="326.2,805.9 324.0,808.4 329.1,810.6" fill="rgb(131,131,131)"/><ellipse cx="325.1" cy="807.1" rx="2.5" ry="2.2" transform="rotate(221 325.1 807.1)" fill="rgb(101,101,101)"/><ellipse cx="337.1" cy="804.7" rx="3.3" ry="2.8" transform="rotate(289 337.1 804.7)" fill="rgb(84,84,84)"/><ellipse cx="338.6" cy="808.3" rx="2.4" ry="1.8" transform="rotate(74 338.6 808.3)" fill="rgb(111,111,111)"/><ellipse cx="195.4" cy="811.9" rx="2.6" ry="2.4" transform="rotate(332 195.4 811.9)" fill="rgb(80,80,80)"/><ellipse cx="204.3" cy="811.2" rx="2.5" ry="2.1" transform="rotate(29 204.3 811.2)" fill="rgb(106,106,106)"/><ellipse cx="212.4" cy="811.5" rx="2.8" ry="2.2" transform="rotate(207 212.4 811.5)" fill="rgb(84,84,84)"/><ellipse cx="224.0" cy="814.5" rx="2.8" ry="2.2" transform="rotate(264 224.0 814.5)" fill="rgb(85,85,85)"/><ellipse cx="225.4" cy="816.1" rx="3.1" ry="2.6" transform="rotate(251 225.4 816.1)" fill="rgb(102,102,102)"/><ellipse cx="234.3" cy="816.9" rx="2.8" ry="2.3" transform="rotate(312 234.3 816.9)" fill="rgb(111,111,111)"/><ellipse cx="240.5" cy="811.9" rx="2.8" ry="2.3" transform="rotate(70 240.5 811.9)" fill="rgb(94,94,94)"/><ellipse cx="250.3" cy="816.6" rx="3.0" ry="2.8" transform="rotate(165 250.3 816.6)" fill="rgb(117,117,117)"/><ellipse cx="261.6" cy="817.5" rx="3.0" ry="2.7" transform="rotate(221 261.6 817.5)" fill="rgb(110,110,110)"/><ellipse cx="264.2" cy="813.6" rx="2.6" ry="2.3" transform="rotate(81 264.2 813.6)" fill="rgb(94,94,94)"/><ellipse cx="276.1" cy="816.5" rx="3.0" ry="2.7" transform="rotate(352 276.1 816.5)" fill="rgb(82,82,82)"/><ellipse cx="284.2" cy="811.6" rx="2.5" ry="2.0" transform="rotate(279 284.2 811.6)" fill="rgb(90,90,90)"/><ellipse cx="285.6" cy="813.8" rx="2.6" ry="2.2" transform="rotate(108 285.6 813.8)" fill="rgb(99,99,99)"/><ellipse cx="298.6" cy="815.7" rx="3.2" ry="2.5" transform="rotate(175 298.6 815.7)" fill="rgb(114,114,114)"/><ellipse cx="303.2" cy="815.6" rx="2.9" ry="2.2" transform="rotate(303 303.2 815.6)" fill="rgb(108,108,108)"/><polygon points="310.7,815.0 311.2,818.2 305.8,817.3" fill="rgb(138,138,138)"/><polygon points="310.7,815.0 311.2,818.2 318.8,815.6" fill="rgb(138,138,138)"/><ellipse cx="311.0" cy="816.6" rx="2.4" ry="2.2" transform="rotate(173 311.0 816.6)" fill="rgb(108,108,108)"/><polygon points="318.8,815.1 316.0,817.1 310.7,807.0" fill="rgb(131,131,131)"/><ellipse cx="317.4" cy="816.1" rx="2.9" ry="2.3" transform="rotate(233 317.4 816.1)" fill="rgb(101,101,101)"/><ellipse cx="324.0" cy="815.0" rx="2.9" ry="2.3" transform="rotate(64 324.0 815.0)" fill="rgb(111,111,111)"/><ellipse cx="332.6" cy="813.3" rx="2.8" ry="2.3" transform="rotate(230 332.6 813.3)" fill="rgb(107,107,107)"/><ellipse cx="339.9" cy="811.3" rx="2.4" ry="2.2" transform="rotate(40 339.9 811.3)" fill="rgb(111,111,111)"/><polygon points="196.1,824.8 195.4,821.0 206.2,821.0" fill="rgb(142,142,142)"/><ellipse cx="195.7" cy="822.9" rx="2.9" ry="2.5" transform="rotate(350 195.7 822.9)" fill="rgb(112,112,112)"/><polygon points="205.2,822.9 209.0,822.8 207.2,829.2" fill="rgb(113,113,113)"/><polygon points="205.2,822.9 209.0,822.8 206.9,812.5" fill="rgb(113,113,113)"/><ellipse cx="207.1" cy="822.8" rx="2.8" ry="2.6" transform="rotate(89 207.1 822.8)" fill="rgb(83,83,83)"/><ellipse cx="213.1" cy="822.4" rx="2.7" ry="2.4" transform="rotate(257 213.1 822.4)" fill="rgb(110,110,110)"/><ellipse cx="223.0" cy="825.0" rx="2.5" ry="2.0" transform="rotate(322 223.0 825.0)" fill="rgb(106,106,106)"/><polygon points="227.8,825.1 227.8,821.8 234.0,823.5" fill="rgb(118,118,118)"/><polygon points="227.8,825.1 227.8,821.8 222.5,823.4" fill="rgb(118,118,118)"/><ellipse cx="227.8" cy="823.4" rx="2.6" ry="2.2" transform="rotate(1 227.8 823.4)" fill="rgb(88,88,88)"/><ellipse cx="238.2" cy="824.1" rx="2.6" ry="2.0" transform="rotate(38 238.2 824.1)" fill="rgb(94,94,94)"/><ellipse cx="244.8" cy="820.0" rx="2.7" ry="2.1" transform="rotate(132 244.8 820.0)" fill="rgb(116,116,116)"/><polygon points="251.9,823.0 254.6,821.4 258.3,831.4" fill="rgb(113,113,113)"/><ellipse cx="253.3" cy="822.2" rx="2.5" ry="2.1" transform="rotate(61 253.3 822.2)" fill="rgb(83,83,83)"/><ellipse cx="260.3" cy="823.4" rx="2.6" ry="2.4" transform="rotate(131 260.3 823.4)" fill="rgb(103,103,103)"/><ellipse cx="264.2" cy="818.9" rx="2.6" ry="2.1" transform="rotate(10 264.2 818.9)" fill="rgb(108,108,108)"/><ellipse cx="275.6" cy="822.9" rx="3.1" ry="2.9" transform="rotate(257 275.6 822.9)" fill="rgb(106,106,106)"/><ellipse cx="278.0" cy="818.8" rx="2.8" ry="2.4" transform="rotate(73 278.0 818.8)" fill="rgb(81,81,81)"/><ellipse cx="288.2" cy="822.8" rx="2.9" ry="2.3" transform="rotate(282 288.2 822.8)" fill="rgb(87,87,87)"/><ellipse cx="293.7" cy="823.1" rx="3.1" ry="2.3" transform="rotate(264 293.7 823.1)" fill="rgb(118,118,118)"/><ellipse cx="302.8" cy="822.8" rx="2.5" ry="2.0" transform="rotate(235 302.8 822.8)" fill="rgb(90,90,90)"/><ellipse cx="309.8" cy="820.0" rx="2.8" ry="2.3" transform="rotate(89 309.8 820.0)" fill="rgb(112,112,112)"/><ellipse cx="316.5" cy="823.0" rx="2.7" ry="2.1" transform="rotate(9 316.5 823.0)" fill="rgb(96,96,96)"/><ellipse cx="327.2" cy="818.9" rx="3.2" ry="3.0" transform="rotate(316 327.2 818.9)" fill="rgb(82,82,82)"/><polygon points="330.6,825.7 331.9,822.3 338.1,826.7" fill="rgb(145,145,145)"/><ellipse cx="331.3" cy="824.0" rx="2.7" ry="2.4" transform="rotate(21 331.3 824.0)" fill="rgb(115,115,115)"/><polygon points="338.4,823.9 341.2,825.4 335.4,832.9" fill="rgb(118,118,118)"/><polygon points="338.4,823.9 341.2,825.4 342.6,819.4" fill="rgb(118,118,118)"/><ellipse cx="339.8" cy="824.6" rx="2.7" ry="2.1" transform="rotate(118 339.8 824.6)" fill="rgb(88,88,88)"/><ellipse cx="201.7" cy="831.2" rx="3.0" ry="2.7" transform="rotate(99 201.7 831.2)" fill="rgb(96,96,96)"/><ellipse cx="203.5" cy="826.5" rx="3.1" ry="2.5" transform="rotate(201 203.5 826.5)" fill="rgb(88,88,88)"/><ellipse cx="215.7" cy="828.6" rx="3.1" ry="2.8" transform="rotate(48 215.7 828.6)" fill="rgb(94,94,94)"/><ellipse cx="217.9" cy="826.5" rx="2.9" ry="2.4" transform="rotate(319 217.9 826.5)" fill="rgb(80,80,80)"/><polygon points="228.8,827.1 225.4,827.9 224.8,817.8" fill="rgb(124,124,124)"/><ellipse cx="227.1" cy="827.5" rx="3.0" ry="2.4" transform="rotate(257 227.1 827.5)" fill="rgb(94,94,94)"/><ellipse cx="232.9" cy="830.6" rx="2.8" ry="2.3" transform="rotate(4 232.9 830.6)" fill="rgb(111,111,111)"/><ellipse cx="240.6" cy="827.8" rx="2.9" ry="2.4" transform="rotate(131 240.6 827.8)" fill="rgb(95,95,95)"/><polygon points="250.7,830.4 254.3,831.3 250.5,838.4" fill="rgb(138,138,138)"/><polygon points="250.7,830.4 254.3,831.3 254.2,824.4" fill="rgb(138,138,138)"/><ellipse cx="252.5" cy="830.8" rx="2.9" ry="2.5" transform="rotate(105 252.5 830.8)" fill="rgb(108,108,108)"/><polygon points="259.2,829.2 262.1,825.6 267.5,833.0" fill="rgb(149,149,149)"/><ellipse cx="260.6" cy="827.4" rx="3.2" ry="3.0" transform="rotate(39 260.6 827.4)" fill="rgb(119,119,119)"/><ellipse cx="264.0" cy="830.0" rx="3.1" ry="2.6" transform="rotate(69 264.0 830.0)" fill="rgb(82,82,82)"/><polygon points="274.1,830.4 277.5,831.1 274.1,839.4" fill="rgb(138,138,138)"/><ellipse cx="275.8" cy="830.8" rx="3.0" ry="2.3" transform="rotate(101 275.8 830.8)" fill="rgb(108,108,108)"/><ellipse cx="282.9" cy="828.6" rx="2.9" ry="2.6" transform="rotate(178 282.9 828.6)" fill="rgb(111,111,111)"/><ellipse cx="290.2" cy="831.9" rx="2.6" ry="2.4" transform="rotate(246 290.2 831.9)" fill="rgb(105,105,105)"/><ellipse cx="297.1" cy="826.8" rx="3.3" ry="2.8" transform="rotate(302 297.1 826.8)" fill="rgb(116,116,116)"/><ellipse cx="306.0" cy="826.1" rx="2.7" ry="2.5" transform="rotate(242 306.0 826.1)" fill="rgb(86,86,86)"/><ellipse cx="308.0" cy="827.8" rx="2.4" ry="1.9" transform="rotate(95 308.0 827.8)" fill="rgb(98,98,98)"/><ellipse cx="318.0" cy="832.3" rx="2.7" ry="2.3" transform="rotate(199 318.0 832.3)" fill="rgb(117,117,117)"/><ellipse cx="328.0" cy="828.7" rx="3.2" ry="2.8" transform="rotate(264 328.0 828.7)" fill="rgb(108,108,108)"/><polygon points="335.1,830.2 333.7,827.1 341.7,825.2" fill="rgb(130,130,130)"/><ellipse cx="334.4" cy="828.6" rx="2.4" ry="2.3" transform="rotate(335 334.4 828.6)" fill="rgb(100,100,100)"/><ellipse cx="344.1" cy="830.0" rx="3.2" ry="2.5" transform="rotate(43 344.1 830.0)" fill="rgb(100,100,100)"/><polygon points="197.5,837.8 197.5,841.1 186.9,839.4" fill="rgb(111,111,111)"/><ellipse cx="197.5" cy="839.4" rx="2.4" ry="2.2" transform="rotate(180 197.5 839.4)" fill="rgb(81,81,81)"/><ellipse cx="208.1" cy="835.9" rx="2.6" ry="2.3" transform="rotate(246 208.1 835.9)" fill="rgb(96,96,96)"/><polygon points="215.2,834.5 218.1,832.7 222.4,842.8" fill="rgb(144,144,144)"/><ellipse cx="216.6" cy="833.6" rx="2.9" ry="2.2" transform="rotate(58 216.6 833.6)" fill="rgb(114,114,114)"/><polygon points="225.3,836.4 221.8,836.1 224.2,826.8" fill="rgb(131,131,131)"/><ellipse cx="223.6" cy="836.2" rx="2.8" ry="2.4" transform="rotate(274 223.6 836.2)" fill="rgb(101,101,101)"/><ellipse cx="228.5" cy="839.1" rx="2.7" ry="2.1" transform="rotate(341 228.5 839.1)" fill="rgb(101,101,101)"/><ellipse cx="235.6" cy="836.1" rx="2.5" ry="2.3" transform="rotate(259 235.6 836.1)" fill="rgb(100,100,100)"/><ellipse cx="241.8" cy="837.8" rx="3.3" ry="2.7" transform="rotate(300 241.8 837.8)" fill="rgb(117,117,117)"/><ellipse cx="252.6" cy="837.7" rx="2.7" ry="2.1" transform="rotate(38 252.6 837.7)" fill="rgb(84,84,84)"/><polygon points="255.6,840.7 257.1,837.4 264.5,842.5" fill="rgb(148,148,148)"/><polygon points="255.6,840.7 257.1,837.4 248.5,835.7" fill="rgb(148,148,148)"/><ellipse cx="256.4" cy="839.0" rx="3.0" ry="2.4" transform="rotate(23 256.4 839.0)" fill="rgb(118,118,118)"/><ellipse cx="266.1" cy="834.0" rx="3.0" ry="2.7" transform="rotate(79 266.1 834.0)" fill="rgb(88,88,88)"/><ellipse cx="271.7" cy="834.1" rx="3.1" ry="2.8" transform="rotate(93 271.7 834.1)" fill="rgb(92,92,92)"/><ellipse cx="278.8" cy="836.6" rx="3.2" ry="2.9" transform="rotate(129 278.8 836.6)" fill="rgb(113,113,113)"/><ellipse cx="290.5" cy="837.9" rx="2.6" ry="2.1" transform="rotate(293 290.5 837.9)" fill="rgb(119,119,119)"/><ellipse cx="299.5" cy="839.8" rx="2.6" ry="2.1" transform="rotate(328 299.5 839.8)" fill="rgb(118,118,118)"/><ellipse cx="304.6" cy="838.9" rx="2.6" ry="2.1" transform="rotate(211 304.6 838.9)" fill="rgb(114,114,114)"/><polygon points="313.2,837.8 315.1,835.5 320.7,842.2" fill="rgb(134,134,134)"/><ellipse cx="314.1" cy="836.6" rx="2.6" ry="2.0" transform="rotate(41 314.1 836.6)" fill="rgb(104,104,104)"/><ellipse cx="321.2" cy="837.0" rx="2.8" ry="2.4" transform="rotate(154 321.2 837.0)" fill="rgb(101,101,101)"/><ellipse cx="328.1" cy="838.6" rx="2.4" ry="2.0" transform="rotate(299 328.1 838.6)" fill="rgb(105,105,105)"/><polygon points="337.7,835.3 335.6,837.9 332.2,833.0" fill="rgb(146,146,146)"/><ellipse cx="336.7" cy="836.6" rx="2.7" ry="2.2" transform="rotate(219 336.7 836.6)" fill="rgb(116,116,116)"/><ellipse cx="338.6" cy="833.6" rx="3.3" ry="2.6" transform="rotate(79 338.6 833.6)" fill="rgb(101,101,101)"/><ellipse cx="199.9" cy="844.6" rx="2.7" ry="2.1" transform="rotate(86 199.9 844.6)" fill="rgb(117,117,117)"/><ellipse cx="208.3" cy="841.8" rx="2.5" ry="2.3" transform="rotate(208 208.3 841.8)" fill="rgb(91,91,91)"/><ellipse cx="215.7" cy="847.2" rx="2.8" ry="2.1" transform="rotate(251 215.7 847.2)" fill="rgb(82,82,82)"/><ellipse cx="220.9" cy="841.2" rx="2.8" ry="2.2" transform="rotate(272 220.9 841.2)" fill="rgb(114,114,114)"/><ellipse cx="229.8" cy="841.1" rx="2.9" ry="2.4" transform="rotate(31 229.8 841.1)" fill="rgb(96,96,96)"/><ellipse cx="238.1" cy="846.0" rx="2.8" ry="2.4" transform="rotate(243 238.1 846.0)" fill="rgb(106,106,106)"/><ellipse cx="242.8" cy="846.6" rx="2.7" ry="2.5" transform="rotate(6 242.8 846.6)" fill="rgb(85,85,85)"/><ellipse cx="250.3" cy="846.1" rx="2.8" ry="2.1" transform="rotate(98 250.3 846.1)" fill="rgb(96,96,96)"/><ellipse cx="257.3" cy="845.4" rx="3.1" ry="2.6" transform="rotate(126 257.3 845.4)" fill="rgb(85,85,85)"/><ellipse cx="263.5" cy="842.9" rx="2.6" ry="2.4" transform="rotate(322 263.5 842.9)" fill="rgb(116,116,116)"/><ellipse cx="273.0" cy="846.5" rx="3.3" ry="3.0" transform="rotate(130 273.0 846.5)" fill="rgb(111,111,111)"/><ellipse cx="283.4" cy="841.3" rx="2.7" ry="2.5" transform="rotate(133 283.4 841.3)" fill="rgb(114,114,114)"/><ellipse cx="288.5" cy="846.2" rx="2.7" ry="2.1" transform="rotate(278 288.5 846.2)" fill="rgb(87,87,87)"/><ellipse cx="299.5" cy="843.7" rx="3.2" ry="2.5" transform="rotate(158 299.5 843.7)" fill="rgb(80,80,80)"/><ellipse cx="301.5" cy="845.8" rx="3.1" ry="2.5" transform="rotate(20 301.5 845.8)" fill="rgb(86,86,86)"/><ellipse cx="309.3" cy="844.6" rx="2.9" ry="2.3" transform="rotate(55 309.3 844.6)" fill="rgb(90,90,90)"/><ellipse cx="317.6" cy="841.1" rx="2.4" ry="2.1" transform="rotate(343 317.6 841.1)" fill="rgb(99,99,99)"/><ellipse cx="323.2" cy="843.4" rx="2.7" ry="2.1" transform="rotate(87 323.2 843.4)" fill="rgb(105,105,105)"/><ellipse cx="330.8" cy="844.8" rx="2.6" ry="2.4" transform="rotate(53 330.8 844.8)" fill="rgb(107,107,107)"/><ellipse cx="343.1" cy="845.5" rx="2.8" ry="2.1" transform="rotate(163 343.1 845.5)" fill="rgb(112,112,112)"/><ellipse cx="198.5" cy="852.2" rx="3.1" ry="3.0" transform="rotate(32 198.5 852.2)" fill="rgb(84,84,84)"/><ellipse cx="208.5" cy="850.1" rx="2.5" ry="2.2" transform="rotate(189 208.5 850.1)" fill="rgb(107,107,107)"/><ellipse cx="214.2" cy="849.1" rx="3.2" ry="2.4" transform="rotate(190 214.2 849.1)" fill="rgb(92,92,92)"/><ellipse cx="222.3" cy="854.6" rx="2.6" ry="2.1" transform="rotate(164 222.3 854.6)" fill="rgb(102,102,102)"/><ellipse cx="227.4" cy="852.6" rx="2.6" ry="2.1" transform="rotate(197 227.4 852.6)" fill="rgb(102,102,102)"/><ellipse cx="233.8" cy="854.6" rx="2.7" ry="2.5" transform="rotate(200 233.8 854.6)" fill="rgb(105,105,105)"/><ellipse cx="240.6" cy="849.7" rx="2.8" ry="2.5" transform="rotate(108 240.6 849.7)" fill="rgb(102,102,102)"/><ellipse cx="250.5" cy="853.1" rx="3.2" ry="2.9" transform="rotate(27 250.5 853.1)" fill="rgb(101,101,101)"/><ellipse cx="258.9" cy="848.5" rx="2.8" ry="2.5" transform="rotate(25 258.9 848.5)" fill="rgb(94,94,94)"/><ellipse cx="267.2" cy="848.5" rx="2.8" ry="2.3" transform="rotate(53 267.2 848.5)" fill="rgb(90,90,90)"/><polygon points="271.0,853.0 274.2,855.7 268.4,859.3" fill="rgb(110,110,110)"/><ellipse cx="272.6" cy="854.4" rx="3.0" ry="2.8" transform="rotate(130 272.6 854.4)" fill="rgb(80,80,80)"/><ellipse cx="281.4" cy="848.0" rx="2.9" ry="2.7" transform="rotate(118 281.4 848.0)" fill="rgb(90,90,90)"/><ellipse cx="287.0" cy="849.8" rx="2.9" ry="2.3" transform="rotate(83 287.0 849.8)" fill="rgb(101,101,101)"/><ellipse cx="294.1" cy="853.0" rx="3.1" ry="2.4" transform="rotate(325 294.1 853.0)" fill="rgb(109,109,109)"/><ellipse cx="302.3" cy="852.4" rx="3.0" ry="2.5" transform="rotate(266 302.3 852.4)" fill="rgb(107,107,107)"/><ellipse cx="311.7" cy="853.8" rx="2.8" ry="2.4" transform="rotate(288 311.7 853.8)" fill="rgb(106,106,106)"/><ellipse cx="317.8" cy="848.0" rx="3.0" ry="2.8" transform="rotate(95 317.8 848.0)" fill="rgb(90,90,90)"/><ellipse cx="327.3" cy="851.7" rx="2.9" ry="2.2" transform="rotate(304 327.3 851.7)" fill="rgb(85,85,85)"/><ellipse cx="330.8" cy="851.2" rx="3.0" ry="2.8" transform="rotate(61 330.8 851.2)" fill="rgb(80,80,80)"/><ellipse cx="339.1" cy="854.6" rx="2.6" ry="2.4" transform="rotate(280 339.1 854.6)" fill="rgb(91,91,91)"/></g>
</g>
<rect x="329.2" y="850.4" width="11" height="2" fill="#fff"/>
<rect x="195.0" y="744.5999999999999" width="149.9" height="110.10000000000001" fill="none" stroke="#111" stroke-width="1.8" rx="1"/>
<line x1="428.2" y1="603.7" x2="428.2" y2="781.5999999999999" stroke="#000" stroke-width="1.8"/>
<line x1="423.59999999999997" y1="780.8" x2="428.2" y2="780.8" stroke="#000" stroke-width="1.6"/>
<text x="0" y="0" font-family='"Liberation Sans", sans-serif' font-size="12.6" font-weight="bold" text-anchor="end" fill="#000" transform="translate(421.20 784.34) scale(1.04 1.0)">0</text>
<line x1="423.59999999999997" y1="736.7249999999999" x2="428.2" y2="736.7249999999999" stroke="#000" stroke-width="1.6"/>
<text x="0" y="0" font-family='"Liberation Sans", sans-serif' font-size="12.6" font-weight="bold" text-anchor="end" fill="#000" transform="translate(421.20 740.26) scale(1.04 1.0)">100</text>
<line x1="423.59999999999997" y1="692.65" x2="428.2" y2="692.65" stroke="#000" stroke-width="1.6"/>
<text x="0" y="0" font-family='"Liberation Sans", sans-serif' font-size="12.6" font-weight="bold" text-anchor="end" fill="#000" transform="translate(421.20 696.19) scale(1.04 1.0)">200</text>
<line x1="423.59999999999997" y1="648.575" x2="428.2" y2="648.575" stroke="#000" stroke-width="1.6"/>
<text x="0" y="0" font-family='"Liberation Sans", sans-serif' font-size="12.6" font-weight="bold" text-anchor="end" fill="#000" transform="translate(421.20 652.11) scale(1.04 1.0)">300</text>
<line x1="423.59999999999997" y1="604.5" x2="428.2" y2="604.5" stroke="#000" stroke-width="1.6"/>
<text x="0" y="0" font-family='"Liberation Sans", sans-serif' font-size="12.6" font-weight="bold" text-anchor="end" fill="#000" transform="translate(421.20 608.04) scale(1.04 1.0)">400</text>
<text x="0" y="0" font-family='"Liberation Sans", sans-serif' font-size="14.2" font-weight="bold" text-anchor="middle" fill="#000" transform="translate(390.00 692.30) rotate(-90)">invasive cells per field</text>
<rect x="439.5" y="736.2842499999999" width="44" height="44.515750000000025" fill="#000" stroke="#000" stroke-width="2"/>
<line x1="461.5" y1="733.6397499999999" x2="461.5" y2="736.2842499999999" stroke="#000" stroke-width="2.2"/>
<line x1="451.0" y1="733.6397499999999" x2="472.0" y2="733.6397499999999" stroke="#000" stroke-width="2.4"/>
<rect x="505.20000000000005" y="733.199" width="44" height="47.601" fill="#000" stroke="#000" stroke-width="2"/>
<line x1="527.2" y1="728.35075" x2="527.2" y2="733.199" stroke="#000" stroke-width="2.2"/>
<line x1="516.7" y1="728.35075" x2="537.7" y2="728.35075" stroke="#000" stroke-width="2.4"/>
<rect x="571.1" y="756.9995" width="44" height="23.800499999999943" fill="#000" stroke="#000" stroke-width="2"/>
<line x1="593.1" y1="753.9142499999999" x2="593.1" y2="756.9995" stroke="#000" stroke-width="2.2"/>
<line x1="582.6" y1="753.9142499999999" x2="603.6" y2="753.9142499999999" stroke="#000" stroke-width="2.4"/>
<rect x="637.4" y="657.39" width="44" height="123.40999999999997" fill="#000" stroke="#000" stroke-width="2"/>
<line x1="659.4" y1="655.18625" x2="659.4" y2="657.39" stroke="#000" stroke-width="2.2"/>
<line x1="648.9" y1="655.18625" x2="669.9" y2="655.18625" stroke="#000" stroke-width="2.4"/>
<line x1="428.2" y1="780.8" x2="684" y2="780.8" stroke="#000" stroke-width="1.8"/>
<line x1="461.5" y1="780.8" x2="461.5" y2="785.3" stroke="#000" stroke-width="1.6"/>
<text x="0" y="0" font-family='"Liberation Sans", sans-serif' font-size="12.9" font-weight="bold" text-anchor="end" fill="#000" transform="translate(463.70 796.30) scale(1.05 1) rotate(-45)">control</text>
<line x1="527.2" y1="780.8" x2="527.2" y2="785.3" stroke="#000" stroke-width="1.6"/>
<text x="0" y="0" font-family='"Liberation Sans", sans-serif' font-size="12.9" font-weight="bold" text-anchor="end" fill="#000" transform="translate(529.40 796.30) scale(1.05 1) rotate(-45)">scramble</text>
<line x1="593.1" y1="780.8" x2="593.1" y2="785.3" stroke="#000" stroke-width="1.6"/>
<text x="0" y="0" font-family='"Liberation Sans", sans-serif' font-size="12.9" font-weight="bold" text-anchor="end" fill="#000" transform="translate(595.30 796.30) scale(1.05 1) rotate(-45)">miR-217-mimic</text>
<line x1="659.4" y1="780.8" x2="659.4" y2="785.3" stroke="#000" stroke-width="1.6"/>
<text x="0" y="0" font-family='"Liberation Sans", sans-serif' font-size="12.9" font-weight="bold" text-anchor="end" fill="#000" transform="translate(661.60 796.30) scale(1.05 1) rotate(-45)">miR-217-inhibitor</text>
<line x1="602.4" y1="604.5" x2="662.8" y2="604.5" stroke="#000" stroke-width="1.6"/>
<line x1="468.2" y1="636.5" x2="659.6" y2="636.5" stroke="#000" stroke-width="1.6"/>
<line x1="460.3" y1="701.6" x2="593.7" y2="701.6" stroke="#000" stroke-width="1.6"/>
<path d="M626.50 593.20L626.50 600.00M623.56 594.90L629.44 598.30M629.44 594.90L623.56 598.30" stroke="#111" stroke-width="1.3" stroke-linecap="round" fill="none"/>
<path d="M635.80 593.20L635.80 600.00M632.86 594.90L638.74 598.30M638.74 594.90L632.86 598.30" stroke="#111" stroke-width="1.3" stroke-linecap="round" fill="none"/>
<path d="M645.10 593.20L645.10 600.00M642.16 594.90L648.04 598.30M648.04 594.90L642.16 598.30" stroke="#111" stroke-width="1.3" stroke-linecap="round" fill="none"/>
<path d="M552.60 624.00L552.60 630.80M549.66 625.70L555.54 629.10M555.54 625.70L549.66 629.10" stroke="#111" stroke-width="1.3" stroke-linecap="round" fill="none"/>
<path d="M561.90 624.00L561.90 630.80M558.96 625.70L564.84 629.10M564.84 625.70L558.96 629.10" stroke="#111" stroke-width="1.3" stroke-linecap="round" fill="none"/>
<path d="M571.20 624.00L571.20 630.80M568.26 625.70L574.14 629.10M574.14 625.70L568.26 629.10" stroke="#111" stroke-width="1.3" stroke-linecap="round" fill="none"/>
<path d="M525.20 682.40L525.20 689.20M522.26 684.10L528.14 687.50M528.14 684.10L522.26 687.50" stroke="#111" stroke-width="1.3" stroke-linecap="round" fill="none"/>
<path d="M534.50 682.40L534.50 689.20M531.56 684.10L537.44 687.50M537.44 684.10L531.56 687.50" stroke="#111" stroke-width="1.3" stroke-linecap="round" fill="none"/>
<path d="M543.80 682.40L543.80 689.20M540.86 684.10L546.74 687.50M546.74 684.10L540.86 687.50" stroke="#111" stroke-width="1.3" stroke-linecap="round" fill="none"/>
</g>
</svg></div>
</body></html>
